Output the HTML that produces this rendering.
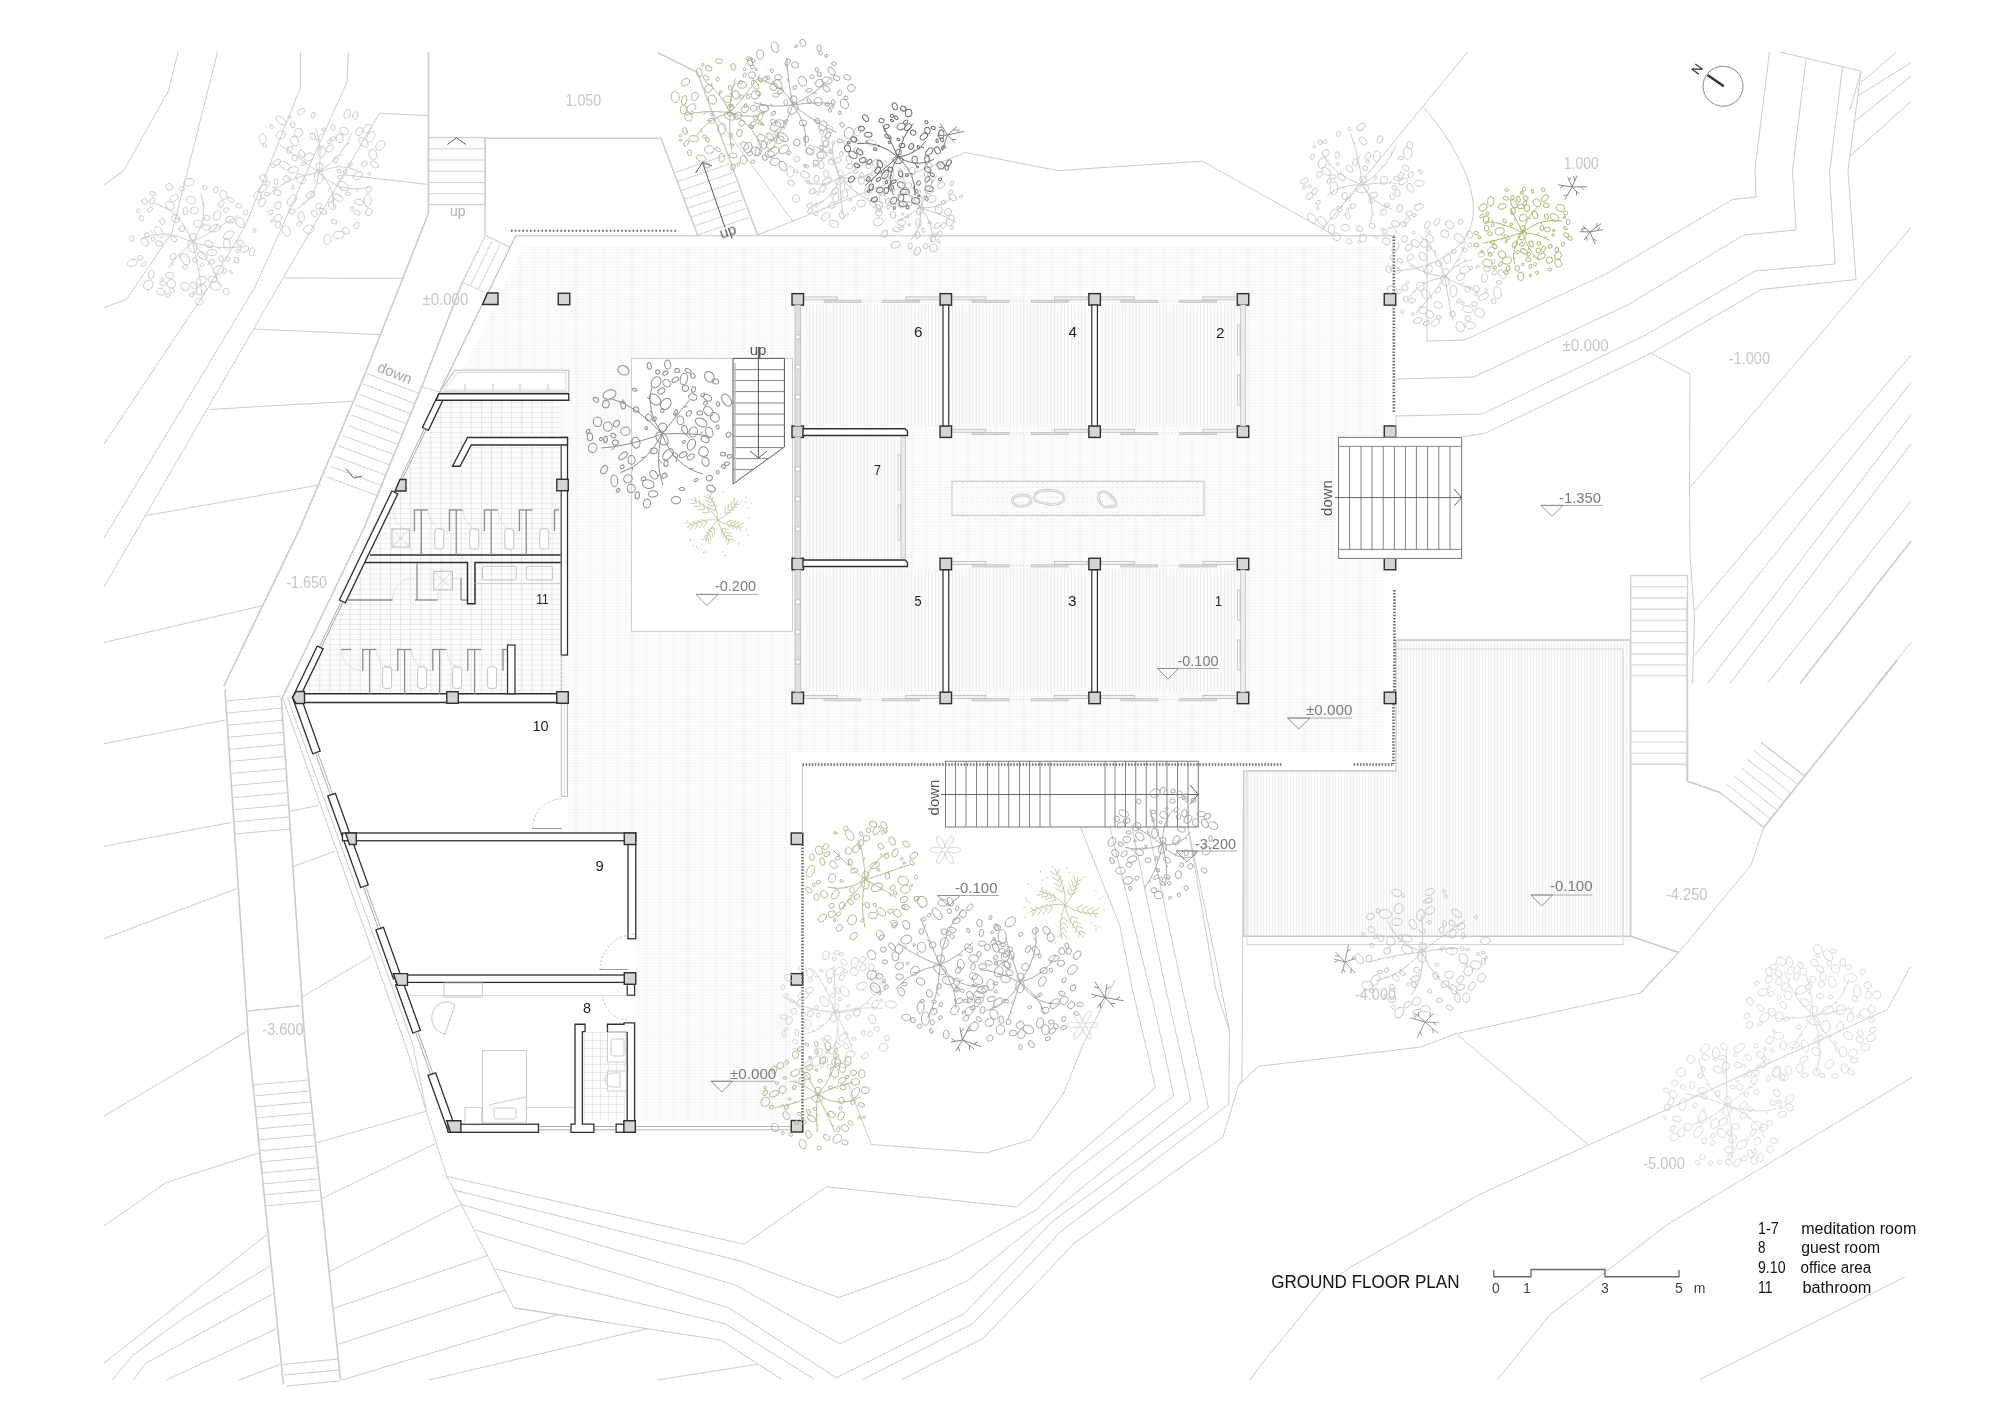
<!DOCTYPE html><html><head><meta charset="utf-8"><style>html,body{margin:0;padding:0;background:#fff;overflow:hidden}svg{display:block}</style></head><body><svg width="2000" height="1414" viewBox="0 0 2000 1414"><defs>
<pattern id="terr" x="1.5" y="0" width="14" height="2.9" patternUnits="userSpaceOnUse">
<rect width="14" height="2.9" fill="#fdfdfd"/><rect x="0" y="0" width="14" height="0.6" fill="#f3f3f3"/><rect x="0" y="0" width="0.9" height="2.9" fill="#f0f0f0"/></pattern>
<pattern id="strp" width="3.4" height="10" patternUnits="userSpaceOnUse">
<rect width="3.4" height="10" fill="#fcfcfc"/><rect x="0" y="0" width="0.7" height="10" fill="#e6e6e6"/></pattern>
<pattern id="deck" width="3" height="10" patternUnits="userSpaceOnUse">
<rect width="3" height="10" fill="#fcfcfc"/><rect x="0" y="0" width="0.6" height="10" fill="#e9e9e9"/></pattern>
<pattern id="tile" x="339.5" y="603.9" width="10.1" height="5.05" patternUnits="userSpaceOnUse">
<rect width="10.1" height="5.05" fill="#fdfdfd"/><rect x="0" y="0" width="10.1" height="0.6" fill="#e3e3e3"/><rect x="0" y="0" width="0.7" height="5.05" fill="#dcdcdc"/></pattern>
<pattern id="tile2" x="584" y="1032" width="8" height="8" patternUnits="userSpaceOnUse">
<rect width="8" height="8" fill="#fdfdfd"/><rect x="0" y="0" width="8" height="0.6" fill="#dcdcdc"/><rect x="0" y="0" width="0.6" height="8" fill="#dcdcdc"/></pattern>
<pattern id="dots" width="5" height="5" patternUnits="userSpaceOnUse">
<rect width="5" height="5" fill="#fbfbfb"/><circle cx="2.5" cy="2.5" r="0.5" fill="#dcdcdc"/></pattern>
</defs>
<rect width="2000" height="1414" fill="#fff"/>
<polyline points="178.10,52.25 168.50,90.75 123.90,170.40 103.75,185.25" fill="none" stroke="#cbcbcb" stroke-width="1.0" stroke-linejoin="round"/>
<polyline points="217.50,52.25 172.00,232.50 126.50,299.25 103.75,307.65" fill="none" stroke="#cbcbcb" stroke-width="1.0" stroke-linejoin="round"/>
<polyline points="300.60,52.25 300.60,87.25 245.50,225.50 208.75,287.00 103.75,444.50" fill="none" stroke="#cbcbcb" stroke-width="1.0" stroke-linejoin="round"/>
<polyline points="348.40,52.25 347.00,82.00 255.00,287.00 103.75,538.40" fill="none" stroke="#cbcbcb" stroke-width="1.0" stroke-linejoin="round"/>
<polyline points="379.40,113.15 427.50,115.60" fill="none" stroke="#cbcbcb" stroke-width="1.0" stroke-linejoin="round"/>
<polyline points="379.40,113.15 277.90,287.00 103.75,587.40" fill="none" stroke="#cbcbcb" stroke-width="1.0" stroke-linejoin="round"/>
<polyline points="103.75,642.50 262.10,605.75" fill="none" stroke="#cbcbcb" stroke-width="1.0" stroke-linejoin="round"/>
<polyline points="343.50,174.75 427.50,184.40" fill="none" stroke="#cbcbcb" stroke-width="1.0" stroke-linejoin="round"/>
<polyline points="284.90,278.00 403.00,278.40" fill="none" stroke="#cbcbcb" stroke-width="1.0" stroke-linejoin="round"/>
<polyline points="254.25,329.00 380.25,334.60" fill="none" stroke="#cbcbcb" stroke-width="1.0" stroke-linejoin="round"/>
<polyline points="208.75,409.50 354.00,401.10" fill="none" stroke="#cbcbcb" stroke-width="1.0" stroke-linejoin="round"/>
<polyline points="146.60,515.40 320.75,484.75" fill="none" stroke="#cbcbcb" stroke-width="1.0" stroke-linejoin="round"/>
<polyline points="428.40,52.25 428.40,213.50 362.50,380.00 300.60,527.00 223.75,686.25" fill="none" stroke="#cbcbcb" stroke-width="1.6" stroke-linejoin="round"/>
<polyline points="485.00,137.50 485.00,235.25" fill="none" stroke="#cbcbcb" stroke-width="1.4" stroke-linejoin="round"/>
<polyline points="485.00,235.25 509.50,247.25" fill="none" stroke="#cbcbcb" stroke-width="1.2" stroke-linejoin="round"/>
<polyline points="462.25,282.50 421.75,386.75 364.50,527.00 282.50,697.50" fill="none" stroke="#cbcbcb" stroke-width="1.6" stroke-linejoin="round"/>
<polyline points="462.25,282.50 485.00,236.50" fill="none" stroke="#cbcbcb" stroke-width="1.0" stroke-linejoin="round"/>
<polyline points="421.75,386.75 439.00,392.00" fill="none" stroke="#cbcbcb" stroke-width="1.0" stroke-linejoin="round"/>
<polyline points="103.75,743.75 225.00,720.00" fill="none" stroke="#cbcbcb" stroke-width="1.0" stroke-linejoin="round"/>
<polyline points="103.75,846.25 231.25,822.50" fill="none" stroke="#cbcbcb" stroke-width="1.0" stroke-linejoin="round"/>
<polyline points="103.75,938.75 236.25,888.75" fill="none" stroke="#cbcbcb" stroke-width="1.0" stroke-linejoin="round"/>
<polyline points="290.00,811.25 318.75,805.50" fill="none" stroke="#cbcbcb" stroke-width="1.0" stroke-linejoin="round"/>
<polyline points="293.75,866.25 335.00,851.25" fill="none" stroke="#cbcbcb" stroke-width="1.0" stroke-linejoin="round"/>
<polyline points="301.25,997.50 371.25,956.25" fill="none" stroke="#cbcbcb" stroke-width="1.0" stroke-linejoin="round"/>
<polyline points="246.25,1011.25 300.00,1005.50" fill="none" stroke="#cbcbcb" stroke-width="1.0" stroke-linejoin="round"/>
<polyline points="226.25,1043.50 246.25,1031.25" fill="none" stroke="#cbcbcb" stroke-width="1.0" stroke-linejoin="round"/>
<polyline points="103.75,1116.25 245.00,1032.50" fill="none" stroke="#cbcbcb" stroke-width="1.0" stroke-linejoin="round"/>
<polyline points="103.75,1226.00 166.25,1182.50 258.75,1153.00" fill="none" stroke="#cbcbcb" stroke-width="1.0" stroke-linejoin="round"/>
<polyline points="103.50,1363.50 267.00,1234.50" fill="none" stroke="#cbcbcb" stroke-width="1.0" stroke-linejoin="round"/>
<polyline points="112.50,1380.00 132.00,1356.00 183.00,1318.50 270.00,1266.00" fill="none" stroke="#cbcbcb" stroke-width="1.0" stroke-linejoin="round"/>
<polyline points="133.50,1380.00 145.50,1363.50 273.00,1293.60" fill="none" stroke="#cbcbcb" stroke-width="1.0" stroke-linejoin="round"/>
<polyline points="166.50,1380.00 276.00,1329.00" fill="none" stroke="#cbcbcb" stroke-width="1.0" stroke-linejoin="round"/>
<polyline points="238.50,1380.00 280.50,1364.40" fill="none" stroke="#cbcbcb" stroke-width="1.0" stroke-linejoin="round"/>
<polyline points="316.25,1143.00 426.25,1111.25" fill="none" stroke="#cbcbcb" stroke-width="1.0" stroke-linejoin="round"/>
<polyline points="321.25,1198.75 435.00,1143.75" fill="none" stroke="#cbcbcb" stroke-width="1.0" stroke-linejoin="round"/>
<polyline points="330.00,1271.40 460.50,1204.50" fill="none" stroke="#cbcbcb" stroke-width="1.0" stroke-linejoin="round"/>
<polyline points="334.50,1308.00 487.50,1255.50" fill="none" stroke="#cbcbcb" stroke-width="1.0" stroke-linejoin="round"/>
<polyline points="339.00,1344.00 505.50,1290.00" fill="none" stroke="#cbcbcb" stroke-width="1.0" stroke-linejoin="round"/>
<polyline points="342.00,1380.00 558.00,1314.75" fill="none" stroke="#cbcbcb" stroke-width="1.0" stroke-linejoin="round"/>
<polyline points="429.00,1380.00 648.00,1328.40" fill="none" stroke="#cbcbcb" stroke-width="1.0" stroke-linejoin="round"/>
<polyline points="225.00,690.00 248.75,1043.50 283.50,1384.50" fill="none" stroke="#cbcbcb" stroke-width="1.6" stroke-linejoin="round"/>
<polyline points="281.25,697.50 305.00,1043.50 340.50,1380.00" fill="none" stroke="#cbcbcb" stroke-width="1.6" stroke-linejoin="round"/>
<polyline points="286.50,1386.00 340.50,1381.00" fill="none" stroke="#cbcbcb" stroke-width="1.0" stroke-linejoin="round"/>
<polyline points="283.50,1364.40 338.40,1359.00" fill="none" stroke="#cbcbcb" stroke-width="1.0" stroke-linejoin="round"/>
<polyline points="284.50,1375.00 339.50,1370.00" fill="none" stroke="#cbcbcb" stroke-width="1.0" stroke-linejoin="round"/>
<polyline points="287.50,697.50 412.50,1043.50 426.25,1110.00" fill="none" stroke="#cbcbcb" stroke-width="1.0" stroke-linejoin="round"/>
<polyline points="282.50,697.50 405.00,1043.50 446.25,1175.00 513.75,1307.50 599.25,1321.25" fill="none" stroke="#cbcbcb" stroke-width="1.0" stroke-linejoin="round"/>
<polyline points="446.25,1176.25 744.00,1244.25 826.50,1186.80 1016.50,1207.00 1155.25,1087.75 1149.25,1060.00 1132.50,990.00 1120.00,926.25 1080.50,827.50" fill="none" stroke="#cbcbcb" stroke-width="1.0" stroke-linejoin="round"/>
<polyline points="453.90,1190.00 739.50,1260.75 838.75,1297.50 948.25,1258.00 1037.50,1209.25 1072.00,1172.50 1173.70,1096.00 1166.20,1060.00 1150.00,990.00 1110.00,827.50" fill="none" stroke="#cbcbcb" stroke-width="1.0" stroke-linejoin="round"/>
<polyline points="462.00,1204.50 735.00,1284.75 840.00,1344.00 950.00,1288.75 968.75,1280.00 977.50,1272.00 1190.80,1100.20 1182.25,1060.00 1166.00,990.00 1132.00,827.50" fill="none" stroke="#cbcbcb" stroke-width="1.0" stroke-linejoin="round"/>
<polyline points="475.50,1230.00 729.00,1308.00 836.25,1377.75 963.75,1313.75 1004.50,1272.00 1051.75,1222.00 1208.50,1107.70 1198.00,1060.00 1182.50,990.00 1148.00,827.50" fill="none" stroke="#cbcbcb" stroke-width="1.0" stroke-linejoin="round"/>
<polyline points="495.00,1269.00 725.25,1323.75 814.50,1379.25" fill="none" stroke="#cbcbcb" stroke-width="1.0" stroke-linejoin="round"/>
<polyline points="862.75,1379.50 972.50,1323.75 1022.50,1272.00 1060.75,1231.75 1228.75,1104.25 1229.50,1031.00 1216.00,990.00 1188.00,827.50" fill="none" stroke="#cbcbcb" stroke-width="1.0" stroke-linejoin="round"/>
<polyline points="514.50,1308.00 721.50,1340.25 781.50,1379.25" fill="none" stroke="#cbcbcb" stroke-width="1.0" stroke-linejoin="round"/>
<polyline points="657.00,1380.00 757.50,1364.25" fill="none" stroke="#cbcbcb" stroke-width="1.0" stroke-linejoin="round"/>
<polyline points="901.75,1379.50 982.50,1338.75 1047.25,1272.00 1073.50,1243.75 1222.75,1137.25 1238.75,1085.00 1258.75,1066.25 1421.25,1047.00 1456.00,1033.75 1641.00,993.00 1678.75,952.50 1751.00,865.00 1763.75,827.50" fill="none" stroke="#cbcbcb" stroke-width="1.0" stroke-linejoin="round"/>
<polyline points="1188.00,827.50 1216.00,961.00 1229.50,1031.00" fill="none" stroke="#cbcbcb" stroke-width="1.0" stroke-linejoin="round"/>
<polyline points="1243.50,772.00 1242.00,1081.00 1238.75,1085.00" fill="none" stroke="#cbcbcb" stroke-width="1.0" stroke-linejoin="round"/>
<polyline points="847.50,1082.50 871.25,1144.50 986.25,1153.00 1031.50,1139.50 1063.75,1093.00 1082.50,1046.00 1115.00,980.00" fill="none" stroke="#cbcbcb" stroke-width="1.0" stroke-linejoin="round"/>
<polyline points="1457.50,1035.00 1588.75,1145.00" fill="none" stroke="#cbcbcb" stroke-width="1.0" stroke-linejoin="round"/>
<polyline points="1250.00,1380.00 1260.30,1365.60 1325.60,1285.80 1347.70,1268.80 1478.40,1195.00 1887.50,1009.50 1910.00,967.00" fill="none" stroke="#cbcbcb" stroke-width="1.0" stroke-linejoin="round"/>
<polyline points="1497.50,1379.50 1550.00,1314.50 1667.50,1224.50 1912.50,1077.00" fill="none" stroke="#cbcbcb" stroke-width="1.0" stroke-linejoin="round"/>
<polyline points="1700.00,1379.50 1905.00,1277.00" fill="none" stroke="#cbcbcb" stroke-width="1.0" stroke-linejoin="round"/>
<polyline points="1678.75,952.50 1640.00,992.50" fill="none" stroke="#cbcbcb" stroke-width="1.0" stroke-linejoin="round"/>
<polyline points="1630.75,936.25 1678.75,952.50" fill="none" stroke="#cbcbcb" stroke-width="1.6" stroke-linejoin="round"/>
<polyline points="1687.00,600.00 1687.50,781.25 1720.00,792.50" fill="none" stroke="#cbcbcb" stroke-width="1.6" stroke-linejoin="round"/>
<polyline points="1720.00,792.50 1763.75,827.50" fill="none" stroke="#cbcbcb" stroke-width="1.2" stroke-linejoin="round"/>
<polyline points="1761.00,742.50 1805.00,776.25" fill="none" stroke="#cbcbcb" stroke-width="1.2" stroke-linejoin="round"/>
<polyline points="1763.75,827.50 1897.50,660.00" fill="none" stroke="#cbcbcb" stroke-width="1.6" stroke-linejoin="round"/>
<polyline points="1690.00,487.50 1911.00,227.50" fill="none" stroke="#cbcbcb" stroke-width="1.0" stroke-linejoin="round"/>
<polyline points="1695.00,610.00 1911.00,355.00" fill="none" stroke="#cbcbcb" stroke-width="1.0" stroke-linejoin="round"/>
<polyline points="1695.00,655.00 1911.00,382.50" fill="none" stroke="#cbcbcb" stroke-width="1.0" stroke-linejoin="round"/>
<polyline points="1707.50,683.50 1911.00,415.00" fill="none" stroke="#cbcbcb" stroke-width="1.0" stroke-linejoin="round"/>
<polyline points="1730.00,683.50 1911.00,443.75" fill="none" stroke="#cbcbcb" stroke-width="1.0" stroke-linejoin="round"/>
<polyline points="1767.50,683.50 1911.00,501.00" fill="none" stroke="#cbcbcb" stroke-width="1.0" stroke-linejoin="round"/>
<polyline points="1800.00,683.50 1911.00,541.00" fill="none" stroke="#cbcbcb" stroke-width="1.4" stroke-linejoin="round"/>
<polyline points="1877.50,683.50 1911.00,642.50" fill="none" stroke="#cbcbcb" stroke-width="1.0" stroke-linejoin="round"/>
<polyline points="1652.00,354.00 1690.00,374.00 1689.50,487.50 1690.00,555.00 1694.50,617.50 1692.50,683.50" fill="none" stroke="#cbcbcb" stroke-width="1.0" stroke-linejoin="round"/>
<polyline points="1467.50,52.00 1320.90,231.00" fill="none" stroke="#cbcbcb" stroke-width="1.0" stroke-linejoin="round"/>
<polyline points="1427.00,246.00 1427.00,341.00" fill="none" stroke="#cbcbcb" stroke-width="1.0" stroke-linejoin="round"/>
<polyline points="1396.00,379.00 1473.75,377.00 1627.50,305.00 1743.75,235.00 1796.00,230.00 1792.50,171.00 1806.00,58.75" fill="none" stroke="#cbcbcb" stroke-width="1.0" stroke-linejoin="round"/>
<polyline points="1427.00,341.00 1465.00,340.00 1608.75,272.50 1732.50,199.50 1756.00,197.00 1755.00,168.75 1769.50,52.00" fill="none" stroke="#cbcbcb" stroke-width="1.0" stroke-linejoin="round"/>
<polyline points="1396.00,416.00 1482.50,414.00 1643.75,336.00 1755.00,271.00 1835.00,264.00 1829.50,172.50 1842.50,67.50" fill="none" stroke="#cbcbcb" stroke-width="1.0" stroke-linejoin="round"/>
<polyline points="1461.60,437.00 1486.00,433.00 1652.50,352.50 1761.00,289.50 1856.00,279.50 1848.00,171.00 1861.00,71.00" fill="none" stroke="#cbcbcb" stroke-width="1.0" stroke-linejoin="round"/>
<polyline points="1780.00,52.00 1861.00,71.00" fill="none" stroke="#cbcbcb" stroke-width="1.0" stroke-linejoin="round"/>
<polyline points="1861.00,71.00 1850.00,110.00" fill="none" stroke="#cbcbcb" stroke-width="1.0" stroke-linejoin="round"/>
<polyline points="1861.00,82.50 1896.00,52.50" fill="none" stroke="#cbcbcb" stroke-width="1.0" stroke-linejoin="round"/>
<polyline points="1857.50,96.25 1911.00,62.50" fill="none" stroke="#cbcbcb" stroke-width="1.0" stroke-linejoin="round"/>
<polyline points="1855.00,121.25 1911.00,76.25" fill="none" stroke="#cbcbcb" stroke-width="1.0" stroke-linejoin="round"/>
<polyline points="1850.00,156.25 1911.00,101.25" fill="none" stroke="#cbcbcb" stroke-width="1.0" stroke-linejoin="round"/>
<polyline points="757.50,235.00 965.50,152.50 1057.50,170.50 1202.50,161.25 1325.00,230.00 1335.00,235.50" fill="none" stroke="#cbcbcb" stroke-width="1.0" stroke-linejoin="round"/>
<path d="M1424,107.5 C1445,132 1474,175 1473.4,210.5 C1473,245 1440,268 1395.4,271" fill="none" stroke="#cbcbcb" stroke-width="1"/>
<polygon points="523.00,246.25 1384.00,246.25 1384.00,753.00 791.00,753.00 791.00,1121.00 448.00,1121.00 292.50,697.50 446.20,404.00" fill="url(#terr)" stroke="none" stroke-width="0" />
<rect x="631.60" y="358.40" width="160.90" height="273.00" fill="#fff" stroke="#cfcfcf" stroke-width="1" />
<polygon points="1396.00,640.00 1630.75,640.00 1630.75,936.25 1243.75,936.25 1243.75,771.00 1396.00,771.00" fill="url(#deck)" stroke="#c9c9c9" stroke-width="1.3" />
<polyline points="1247.00,771.00 1247.00,944.50 1623.00,944.50 1623.00,649.00 1396.00,649.00" fill="none" stroke="#d4d4d4" stroke-width="1" />
<polygon points="298.00,702.50 567.50,702.50 567.50,833.00 342.50,833.00" fill="#fff" stroke="none" stroke-width="0" />
<polygon points="349.00,840.70 635.70,840.70 635.70,975.00 396.00,975.00" fill="#fff" stroke="none" stroke-width="0" />
<polygon points="405.00,982.40 635.70,982.40 635.70,1124.00 448.00,1124.00" fill="#fff" stroke="none" stroke-width="0" />
<polygon points="439.00,400.00 561.00,400.00 561.00,694.00 298.00,694.00" fill="url(#tile)" stroke="none" stroke-width="0" />
<rect x="803.00" y="305.00" width="137.00" height="121.00" fill="url(#strp)" stroke="none" stroke-width="0" />
<rect x="803.00" y="570.00" width="137.00" height="122.00" fill="url(#strp)" stroke="none" stroke-width="0" />
<rect x="951.00" y="305.00" width="137.00" height="121.00" fill="url(#strp)" stroke="none" stroke-width="0" />
<rect x="951.00" y="570.00" width="137.00" height="122.00" fill="url(#strp)" stroke="none" stroke-width="0" />
<rect x="1100.00" y="305.00" width="137.00" height="121.00" fill="url(#strp)" stroke="none" stroke-width="0" />
<rect x="1100.00" y="570.00" width="137.00" height="122.00" fill="url(#strp)" stroke="none" stroke-width="0" />
<rect x="803.00" y="437.00" width="103.00" height="121.00" fill="url(#strp)" stroke="none" stroke-width="0" />
<rect x="952.00" y="481.30" width="252.00" height="34.10" fill="url(#dots)" stroke="#d0d0d0" stroke-width="1.3" />
<rect x="428.40" y="137.50" width="56.60" height="67.00" fill="none" stroke="#cfcfcf" stroke-width="1.3" />
<line x1="428.40" y1="148.75" x2="485.00" y2="148.75" stroke="#d2d2d2" stroke-width="1" />
<line x1="428.40" y1="160.00" x2="485.00" y2="160.00" stroke="#d2d2d2" stroke-width="1" />
<line x1="428.40" y1="171.25" x2="485.00" y2="171.25" stroke="#d2d2d2" stroke-width="1" />
<line x1="428.40" y1="182.50" x2="485.00" y2="182.50" stroke="#d2d2d2" stroke-width="1" />
<line x1="428.40" y1="193.75" x2="485.00" y2="193.75" stroke="#d2d2d2" stroke-width="1" />
<polyline points="447.50,144.50 456.50,137.80 466.00,144.50" fill="none" stroke="#555" stroke-width="1" />
<polyline points="485.00,138.25 661.00,138.25 697.50,235.00" fill="none" stroke="#cfcfcf" stroke-width="1.6" />
<line x1="511" y1="230.75" x2="676" y2="230.75" stroke="#666" stroke-width="2.2" stroke-dasharray="1.6,2.2"/>
<polyline points="657.50,52.50 697.50,72.50 757.50,235.00" fill="none" stroke="#cfcfcf" stroke-width="1.6" />
<polyline points="715.00,115.00 793.75,222.50" fill="none" stroke="#cfcfcf" stroke-width="1" />
<line x1="675.00" y1="172.50" x2="726.25" y2="155.00" stroke="#d0d0d0" stroke-width="1" />
<line x1="678.21" y1="181.43" x2="729.46" y2="163.93" stroke="#d0d0d0" stroke-width="1" />
<line x1="681.43" y1="190.36" x2="732.68" y2="172.86" stroke="#d0d0d0" stroke-width="1" />
<line x1="684.64" y1="199.29" x2="735.89" y2="181.79" stroke="#d0d0d0" stroke-width="1" />
<line x1="687.86" y1="208.21" x2="739.11" y2="190.71" stroke="#d0d0d0" stroke-width="1" />
<line x1="691.07" y1="217.14" x2="742.32" y2="199.64" stroke="#d0d0d0" stroke-width="1" />
<line x1="694.29" y1="226.07" x2="745.54" y2="208.57" stroke="#d0d0d0" stroke-width="1" />
<line x1="697.50" y1="235.00" x2="748.75" y2="217.50" stroke="#d0d0d0" stroke-width="1" />
<polyline points="725.00,227.50 702.50,162.50" fill="none" stroke="#444" stroke-width="0.9" />
<polyline points="695.50,173.00 702.50,162.50 712.00,166.00" fill="none" stroke="#444" stroke-width="0.9" />
<line x1="462.25" y1="282.50" x2="485.00" y2="236.50" stroke="#d2d2d2" stroke-width="1" />
<line x1="470.00" y1="286.00" x2="492.00" y2="241.00" stroke="#d2d2d2" stroke-width="1" />
<line x1="478.00" y1="290.00" x2="500.00" y2="244.50" stroke="#d2d2d2" stroke-width="1" />
<line x1="462.25" y1="282.50" x2="485.50" y2="292.25" stroke="#d2d2d2" stroke-width="1" />
<line x1="367.10" y1="373.60" x2="417.90" y2="392.90" stroke="#d0d0d0" stroke-width="1" />
<line x1="363.08" y1="383.93" x2="413.96" y2="403.22" stroke="#d0d0d0" stroke-width="1" />
<line x1="359.06" y1="394.26" x2="410.02" y2="413.54" stroke="#d0d0d0" stroke-width="1" />
<line x1="355.04" y1="404.59" x2="406.08" y2="423.86" stroke="#d0d0d0" stroke-width="1" />
<line x1="351.02" y1="414.92" x2="402.14" y2="434.18" stroke="#d0d0d0" stroke-width="1" />
<line x1="347.00" y1="425.25" x2="398.20" y2="444.50" stroke="#d0d0d0" stroke-width="1" />
<line x1="342.98" y1="435.58" x2="394.26" y2="454.82" stroke="#d0d0d0" stroke-width="1" />
<line x1="338.96" y1="445.91" x2="390.32" y2="465.14" stroke="#d0d0d0" stroke-width="1" />
<line x1="334.94" y1="456.24" x2="386.38" y2="475.46" stroke="#d0d0d0" stroke-width="1" />
<line x1="330.92" y1="466.57" x2="382.44" y2="485.78" stroke="#d0d0d0" stroke-width="1" />
<line x1="326.90" y1="476.90" x2="378.50" y2="496.10" stroke="#d0d0d0" stroke-width="1" />
<polyline points="346.00,468.50 353.50,478.00 362.50,476.00" fill="none" stroke="#555" stroke-width="0.9" />
<polyline points="515.75,235.75 1395.00,235.75" fill="none" stroke="#c6c6c6" stroke-width="1.2" />
<polyline points="515.75,235.75 438.75,393.75" fill="none" stroke="#bdbdbd" stroke-width="1.2" />
<polygon points="439.75,392.00 455.00,370.25 568.75,370.25 568.75,392.00" fill="#fff" stroke="#bdbdbd" stroke-width="1.1" />
<polygon points="444.00,390.00 457.50,372.50 566.00,372.50 566.00,390.00" fill="none" stroke="#cfcfcf" stroke-width="0.8" />
<line x1="465.00" y1="384.00" x2="465.00" y2="391.00" stroke="#cfcfcf" stroke-width="1.2" />
<line x1="493.00" y1="384.00" x2="493.00" y2="391.00" stroke="#cfcfcf" stroke-width="1.2" />
<line x1="520.00" y1="384.00" x2="520.00" y2="391.00" stroke="#cfcfcf" stroke-width="1.2" />
<line x1="548.00" y1="384.00" x2="548.00" y2="391.00" stroke="#cfcfcf" stroke-width="1.2" />
<line x1="225.74" y1="701.00" x2="281.15" y2="696.00" stroke="#d0d0d0" stroke-width="1" />
<line x1="226.55" y1="713.09" x2="281.98" y2="708.09" stroke="#d0d0d0" stroke-width="1" />
<line x1="227.36" y1="725.18" x2="282.81" y2="720.18" stroke="#d0d0d0" stroke-width="1" />
<line x1="228.18" y1="737.27" x2="283.64" y2="732.27" stroke="#d0d0d0" stroke-width="1" />
<line x1="228.99" y1="749.36" x2="284.47" y2="744.36" stroke="#d0d0d0" stroke-width="1" />
<line x1="229.80" y1="761.45" x2="285.30" y2="756.45" stroke="#d0d0d0" stroke-width="1" />
<line x1="230.61" y1="773.55" x2="286.13" y2="768.55" stroke="#d0d0d0" stroke-width="1" />
<line x1="231.43" y1="785.64" x2="286.96" y2="780.64" stroke="#d0d0d0" stroke-width="1" />
<line x1="232.24" y1="797.73" x2="287.79" y2="792.73" stroke="#d0d0d0" stroke-width="1" />
<line x1="233.05" y1="809.82" x2="288.62" y2="804.82" stroke="#d0d0d0" stroke-width="1" />
<line x1="233.86" y1="821.91" x2="289.45" y2="816.91" stroke="#d0d0d0" stroke-width="1" />
<line x1="234.67" y1="834.00" x2="290.28" y2="829.00" stroke="#d0d0d0" stroke-width="1" />
<line x1="252.60" y1="1085.00" x2="308.39" y2="1080.00" stroke="#d0d0d0" stroke-width="1" />
<line x1="253.63" y1="1096.00" x2="309.41" y2="1091.00" stroke="#d0d0d0" stroke-width="1" />
<line x1="254.65" y1="1107.00" x2="310.43" y2="1102.00" stroke="#d0d0d0" stroke-width="1" />
<line x1="255.67" y1="1118.00" x2="311.45" y2="1113.00" stroke="#d0d0d0" stroke-width="1" />
<line x1="256.69" y1="1129.00" x2="312.48" y2="1124.00" stroke="#d0d0d0" stroke-width="1" />
<line x1="257.71" y1="1140.00" x2="313.50" y2="1135.00" stroke="#d0d0d0" stroke-width="1" />
<line x1="258.73" y1="1151.00" x2="314.52" y2="1146.00" stroke="#d0d0d0" stroke-width="1" />
<line x1="259.75" y1="1162.00" x2="315.54" y2="1157.00" stroke="#d0d0d0" stroke-width="1" />
<line x1="260.78" y1="1173.00" x2="316.56" y2="1168.00" stroke="#d0d0d0" stroke-width="1" />
<line x1="261.80" y1="1184.00" x2="317.58" y2="1179.00" stroke="#d0d0d0" stroke-width="1" />
<line x1="262.82" y1="1195.00" x2="318.61" y2="1190.00" stroke="#d0d0d0" stroke-width="1" />
<line x1="263.84" y1="1206.00" x2="319.63" y2="1201.00" stroke="#d0d0d0" stroke-width="1" />
<line x1="246.00" y1="1011.00" x2="300.00" y2="1006.00" stroke="#d0d0d0" stroke-width="1" />
<rect x="1630.75" y="575.50" width="56.75" height="188.75" fill="#fff" stroke="#d0d0d0" stroke-width="1.3" />
<line x1="1630.75" y1="586.70" x2="1687.50" y2="586.70" stroke="#d4d4d4" stroke-width="1.1" />
<line x1="1630.75" y1="597.90" x2="1687.50" y2="597.90" stroke="#d4d4d4" stroke-width="1.1" />
<line x1="1630.75" y1="609.10" x2="1687.50" y2="609.10" stroke="#d4d4d4" stroke-width="1.1" />
<line x1="1630.75" y1="620.30" x2="1687.50" y2="620.30" stroke="#d4d4d4" stroke-width="1.1" />
<line x1="1630.75" y1="631.50" x2="1687.50" y2="631.50" stroke="#d4d4d4" stroke-width="1.1" />
<line x1="1630.75" y1="642.70" x2="1687.50" y2="642.70" stroke="#d4d4d4" stroke-width="1.1" />
<line x1="1630.75" y1="653.90" x2="1687.50" y2="653.90" stroke="#d4d4d4" stroke-width="1.1" />
<line x1="1630.75" y1="665.00" x2="1687.50" y2="665.00" stroke="#d4d4d4" stroke-width="1.1" />
<line x1="1630.75" y1="675.75" x2="1687.50" y2="675.75" stroke="#d4d4d4" stroke-width="1.1" />
<line x1="1630.75" y1="731.25" x2="1687.50" y2="731.25" stroke="#d4d4d4" stroke-width="1.1" />
<line x1="1630.75" y1="742.00" x2="1687.50" y2="742.00" stroke="#d4d4d4" stroke-width="1.1" />
<line x1="1630.75" y1="753.25" x2="1687.50" y2="753.25" stroke="#d4d4d4" stroke-width="1.1" />
<line x1="1720.00" y1="792.50" x2="1763.75" y2="827.50" stroke="#d0d0d0" stroke-width="1" />
<line x1="1726.83" y1="784.17" x2="1770.62" y2="818.96" stroke="#d0d0d0" stroke-width="1" />
<line x1="1733.67" y1="775.83" x2="1777.50" y2="810.42" stroke="#d0d0d0" stroke-width="1" />
<line x1="1740.50" y1="767.50" x2="1784.38" y2="801.88" stroke="#d0d0d0" stroke-width="1" />
<line x1="1747.33" y1="759.17" x2="1791.25" y2="793.33" stroke="#d0d0d0" stroke-width="1" />
<line x1="1754.17" y1="750.83" x2="1798.12" y2="784.79" stroke="#d0d0d0" stroke-width="1" />
<line x1="1761.00" y1="742.50" x2="1805.00" y2="776.25" stroke="#d0d0d0" stroke-width="1" />
<polyline points="1720.00,792.50 1687.00,781.00" fill="none" stroke="#cfcfcf" stroke-width="1.3" />
<polyline points="1687.00,781.25 1687.00,600.00" fill="none" stroke="#cfcfcf" stroke-width="1.3" />
<polygon points="438.75,393.75 422.50,427.50 428.36,430.32 444.61,396.57" fill="#fff" stroke="#2e2e2e" stroke-width="1.3" />
<line x1="424.55" y1="428.49" x2="399.27" y2="480.99" stroke="#8a8a8a" stroke-width="0.7" />
<line x1="426.31" y1="429.33" x2="401.03" y2="481.83" stroke="#8a8a8a" stroke-width="0.7" />
<polygon points="391.93,491.00 339.44,600.00 345.30,602.82 397.78,493.82" fill="#fff" stroke="#2e2e2e" stroke-width="1.3" />
<line x1="341.49" y1="600.99" x2="319.35" y2="646.99" stroke="#8a8a8a" stroke-width="0.7" />
<line x1="343.25" y1="601.83" x2="321.10" y2="647.83" stroke="#8a8a8a" stroke-width="0.7" />
<polygon points="317.30,646.00 292.50,697.50 298.36,700.32 323.15,648.82" fill="#fff" stroke="#2e2e2e" stroke-width="1.3" />
<polygon points="292.50,697.50 312.68,753.75 320.21,751.05 300.03,694.80" fill="#fff" stroke="#2e2e2e" stroke-width="1.3" />
<line x1="315.31" y1="752.80" x2="330.47" y2="795.05" stroke="#8a8a8a" stroke-width="0.7" />
<line x1="317.57" y1="751.99" x2="332.73" y2="794.24" stroke="#8a8a8a" stroke-width="0.7" />
<polygon points="327.83,796.00 360.65,887.50 368.18,884.80 335.36,793.30" fill="#fff" stroke="#2e2e2e" stroke-width="1.3" />
<line x1="363.29" y1="886.55" x2="378.54" y2="929.05" stroke="#8a8a8a" stroke-width="0.7" />
<line x1="365.55" y1="885.74" x2="380.79" y2="928.24" stroke="#8a8a8a" stroke-width="0.7" />
<polygon points="375.90,930.00 393.48,979.00 401.01,976.30 383.43,927.30" fill="#fff" stroke="#2e2e2e" stroke-width="1.3" />
<polygon points="395.63,985.00 412.85,1033.00 420.38,1030.30 403.16,982.30" fill="#fff" stroke="#2e2e2e" stroke-width="1.3" />
<line x1="415.48" y1="1032.05" x2="430.73" y2="1074.55" stroke="#8a8a8a" stroke-width="0.7" />
<line x1="417.74" y1="1031.24" x2="432.99" y2="1073.74" stroke="#8a8a8a" stroke-width="0.7" />
<polygon points="428.09,1075.50 448.00,1131.00 455.53,1128.30 435.62,1072.80" fill="#fff" stroke="#2e2e2e" stroke-width="1.3" />
<polygon points="439.00,393.75 568.75,393.75 568.75,400.25 436.00,400.25" fill="#fff" stroke="#2e2e2e" stroke-width="1.3" />
<polygon points="298.00,693.75 567.50,693.75 567.50,702.50 302.00,702.50" fill="#fff" stroke="#2e2e2e" stroke-width="1.3" />
<rect x="342.50" y="833.00" width="293.25" height="7.75" fill="#fff" stroke="#2e2e2e" stroke-width="1.3" />
<rect x="396.00" y="975.00" width="239.00" height="7.40" fill="#fff" stroke="#2e2e2e" stroke-width="1.3" />
<rect x="448.00" y="1124.20" width="90.50" height="8.10" fill="#fff" stroke="#2e2e2e" stroke-width="1.3" />
<polygon points="575.00,1024.25 585.10,1024.25 585.10,1031.70 582.40,1031.70 582.40,1124.20 593.90,1124.20 593.90,1132.30 571.00,1132.30 571.00,1124.20 575.00,1124.20" fill="#fff" stroke="#2e2e2e" stroke-width="1.3" />
<polygon points="607.40,1024.25 624.00,1024.25 624.00,1022.90 634.60,1022.90 634.60,1120.80 627.20,1120.80 627.20,1032.40 607.40,1032.40" fill="#fff" stroke="#2e2e2e" stroke-width="1.3" />
<rect x="616.10" y="1124.20" width="8.15" height="8.10" fill="#fff" stroke="#2e2e2e" stroke-width="1.3" />
<rect x="627.20" y="984.40" width="7.40" height="10.80" fill="#fff" stroke="#2e2e2e" stroke-width="1.2" />
<line x1="538.50" y1="1126.50" x2="571.00" y2="1126.50" stroke="#888" stroke-width="0.7" />
<line x1="593.90" y1="1126.50" x2="616.10" y2="1126.50" stroke="#888" stroke-width="0.7" />
<line x1="635.00" y1="1126.50" x2="791.00" y2="1126.50" stroke="#9a9a9a" stroke-width="0.7" />
<line x1="538.50" y1="1129.80" x2="571.00" y2="1129.80" stroke="#888" stroke-width="0.7" />
<line x1="593.90" y1="1129.80" x2="616.10" y2="1129.80" stroke="#888" stroke-width="0.7" />
<line x1="635.00" y1="1129.80" x2="791.00" y2="1129.80" stroke="#9a9a9a" stroke-width="0.7" />
<rect x="561.25" y="437.50" width="6.25" height="217.50" fill="#fff" stroke="#2e2e2e" stroke-width="1.3" />
<line x1="561.50" y1="656.00" x2="561.50" y2="691.00" stroke="#aaa" stroke-width="0.7" stroke-dasharray="2,2"/>
<rect x="628.00" y="844.50" width="7.75" height="94.25" fill="#fff" stroke="#2e2e2e" stroke-width="1.3" />
<rect x="561.25" y="703.75" width="6.25" height="92.50" fill="#fff" stroke="#aaa" stroke-width="0.8" />
<line x1="564.40" y1="703.75" x2="564.40" y2="796.25" stroke="#ccc" stroke-width="0.6" />
<polygon points="452.50,466.25 467.50,437.50 567.50,437.50 567.50,445.00 471.25,445.00 460.00,466.25" fill="#fff" stroke="#2e2e2e" stroke-width="1.3" />
<line x1="370.00" y1="555.00" x2="561.25" y2="555.00" stroke="#2e2e2e" stroke-width="1.6" />
<polyline points="365.00,562.50 467.50,562.50 467.50,603.75 475.00,603.75 475.00,562.50 561.25,562.50" fill="none" stroke="#2e2e2e" stroke-width="1.5" />
<rect x="507.50" y="645.00" width="7.50" height="48.75" fill="#fff" stroke="#2e2e2e" stroke-width="1.2" />
<line x1="421.25" y1="510.00" x2="421.25" y2="555.00" stroke="#8c8c8c" stroke-width="1.3" />
<line x1="413.75" y1="510.00" x2="427.75" y2="510.00" stroke="#8c8c8c" stroke-width="1.3" />
<line x1="414.45" y1="510.00" x2="414.45" y2="531.20" stroke="#8c8c8c" stroke-width="1.3" />
<path d="M393.2,510.0 A21.2,21.2 0 0 0 414.4,531.2" fill="none" stroke="#b5b5b5" stroke-width="0.7" stroke-dasharray="1.5,1.5"/>
<rect x="434.75" y="528.75" width="9.00" height="20.25" fill="#fff" stroke="#c4c4c4" stroke-width="1" rx="2.5"/>
<line x1="456.25" y1="510.00" x2="456.25" y2="555.00" stroke="#8c8c8c" stroke-width="1.3" />
<line x1="448.75" y1="510.00" x2="462.75" y2="510.00" stroke="#8c8c8c" stroke-width="1.3" />
<line x1="449.45" y1="510.00" x2="449.45" y2="531.20" stroke="#8c8c8c" stroke-width="1.3" />
<path d="M428.2,510.0 A21.2,21.2 0 0 0 449.4,531.2" fill="none" stroke="#b5b5b5" stroke-width="0.7" stroke-dasharray="1.5,1.5"/>
<rect x="469.75" y="528.75" width="9.00" height="20.25" fill="#fff" stroke="#c4c4c4" stroke-width="1" rx="2.5"/>
<line x1="491.25" y1="510.00" x2="491.25" y2="555.00" stroke="#8c8c8c" stroke-width="1.3" />
<line x1="483.75" y1="510.00" x2="497.75" y2="510.00" stroke="#8c8c8c" stroke-width="1.3" />
<line x1="484.45" y1="510.00" x2="484.45" y2="531.20" stroke="#8c8c8c" stroke-width="1.3" />
<path d="M463.2,510.0 A21.2,21.2 0 0 0 484.4,531.2" fill="none" stroke="#b5b5b5" stroke-width="0.7" stroke-dasharray="1.5,1.5"/>
<rect x="504.75" y="528.75" width="9.00" height="20.25" fill="#fff" stroke="#c4c4c4" stroke-width="1" rx="2.5"/>
<line x1="526.25" y1="510.00" x2="526.25" y2="555.00" stroke="#8c8c8c" stroke-width="1.3" />
<line x1="518.75" y1="510.00" x2="532.75" y2="510.00" stroke="#8c8c8c" stroke-width="1.3" />
<line x1="519.45" y1="510.00" x2="519.45" y2="531.20" stroke="#8c8c8c" stroke-width="1.3" />
<path d="M498.2,510.0 A21.2,21.2 0 0 0 519.5,531.2" fill="none" stroke="#b5b5b5" stroke-width="0.7" stroke-dasharray="1.5,1.5"/>
<rect x="539.75" y="528.75" width="9.00" height="20.25" fill="#fff" stroke="#c4c4c4" stroke-width="1" rx="2.5"/>
<line x1="554.00" y1="510.00" x2="559.00" y2="510.00" stroke="#8c8c8c" stroke-width="1.3" />
<line x1="554.50" y1="510.00" x2="554.50" y2="531.00" stroke="#8c8c8c" stroke-width="1.3" />
<line x1="369.60" y1="649.50" x2="369.60" y2="694.00" stroke="#8c8c8c" stroke-width="1.3" />
<line x1="362.10" y1="649.50" x2="376.10" y2="649.50" stroke="#8c8c8c" stroke-width="1.3" />
<line x1="362.80" y1="649.50" x2="362.80" y2="670.70" stroke="#8c8c8c" stroke-width="1.3" />
<path d="M341.6,649.5 A21.2,21.2 0 0 0 362.8,670.7" fill="none" stroke="#b5b5b5" stroke-width="0.7" stroke-dasharray="1.5,1.5"/>
<rect x="382.60" y="666.80" width="9.00" height="21.60" fill="#fff" stroke="#c4c4c4" stroke-width="1" rx="2.5"/>
<line x1="404.60" y1="649.50" x2="404.60" y2="694.00" stroke="#8c8c8c" stroke-width="1.3" />
<line x1="397.10" y1="649.50" x2="411.10" y2="649.50" stroke="#8c8c8c" stroke-width="1.3" />
<line x1="397.80" y1="649.50" x2="397.80" y2="670.70" stroke="#8c8c8c" stroke-width="1.3" />
<path d="M376.6,649.5 A21.2,21.2 0 0 0 397.8,670.7" fill="none" stroke="#b5b5b5" stroke-width="0.7" stroke-dasharray="1.5,1.5"/>
<rect x="417.60" y="666.80" width="9.00" height="21.60" fill="#fff" stroke="#c4c4c4" stroke-width="1" rx="2.5"/>
<line x1="439.60" y1="649.50" x2="439.60" y2="694.00" stroke="#8c8c8c" stroke-width="1.3" />
<line x1="432.10" y1="649.50" x2="446.10" y2="649.50" stroke="#8c8c8c" stroke-width="1.3" />
<line x1="432.80" y1="649.50" x2="432.80" y2="670.70" stroke="#8c8c8c" stroke-width="1.3" />
<path d="M411.6,649.5 A21.2,21.2 0 0 0 432.8,670.7" fill="none" stroke="#b5b5b5" stroke-width="0.7" stroke-dasharray="1.5,1.5"/>
<rect x="452.60" y="666.80" width="9.00" height="21.60" fill="#fff" stroke="#c4c4c4" stroke-width="1" rx="2.5"/>
<line x1="474.60" y1="649.50" x2="474.60" y2="694.00" stroke="#8c8c8c" stroke-width="1.3" />
<line x1="467.10" y1="649.50" x2="481.10" y2="649.50" stroke="#8c8c8c" stroke-width="1.3" />
<line x1="467.80" y1="649.50" x2="467.80" y2="670.70" stroke="#8c8c8c" stroke-width="1.3" />
<path d="M446.6,649.5 A21.2,21.2 0 0 0 467.8,670.7" fill="none" stroke="#b5b5b5" stroke-width="0.7" stroke-dasharray="1.5,1.5"/>
<rect x="487.60" y="666.80" width="9.00" height="21.60" fill="#fff" stroke="#c4c4c4" stroke-width="1" rx="2.5"/>
<line x1="341.50" y1="649.50" x2="351.00" y2="649.50" stroke="#8c8c8c" stroke-width="1.3" />
<line x1="502.00" y1="649.50" x2="507.50" y2="649.50" stroke="#8c8c8c" stroke-width="1.3" />
<line x1="503.00" y1="649.50" x2="503.00" y2="670.70" stroke="#8c8c8c" stroke-width="1.3" />
<rect x="392.00" y="529.00" width="17.50" height="18.00" fill="none" stroke="#b5b5b5" stroke-width="0.9" />
<line x1="392.00" y1="529.00" x2="409.50" y2="547.00" stroke="#c5c5c5" stroke-width="0.7" />
<line x1="409.50" y1="529.00" x2="392.00" y2="547.00" stroke="#c5c5c5" stroke-width="0.7" />
<rect x="433.75" y="571.25" width="18.75" height="18.75" fill="none" stroke="#b5b5b5" stroke-width="0.9" />
<line x1="433.75" y1="571.25" x2="452.50" y2="590.00" stroke="#c5c5c5" stroke-width="0.7" />
<line x1="452.50" y1="571.25" x2="433.75" y2="590.00" stroke="#c5c5c5" stroke-width="0.7" />
<rect x="482.50" y="566.25" width="33.75" height="13.75" fill="none" stroke="#c0c0c0" stroke-width="0.9" rx="2"/>
<rect x="526.25" y="566.25" width="26.25" height="13.75" fill="none" stroke="#c0c0c0" stroke-width="0.9" rx="2"/>
<line x1="475.00" y1="583.50" x2="561.00" y2="583.50" stroke="#c8c8c8" stroke-width="0.8" />
<line x1="347.50" y1="600.00" x2="392.50" y2="600.00" stroke="#8c8c8c" stroke-width="1.3" />
<line x1="415.00" y1="600.00" x2="437.50" y2="600.00" stroke="#8c8c8c" stroke-width="1.3" />
<line x1="417.00" y1="563.50" x2="417.00" y2="600.00" stroke="#8c8c8c" stroke-width="1.3" />
<line x1="461.00" y1="578.00" x2="461.00" y2="600.00" stroke="#8c8c8c" stroke-width="1.3" />
<line x1="461.00" y1="600.00" x2="467.00" y2="600.00" stroke="#8c8c8c" stroke-width="1.3" />
<path d="M392.5,600 A22,22 0 0 1 414.5,578" fill="none" stroke="#b5b5b5" stroke-width="0.7" stroke-dasharray="1.5,1.5"/>
<path d="M437.5,600 A22,22 0 0 1 459.5,578" fill="none" stroke="#b5b5b5" stroke-width="0.7" stroke-dasharray="1.5,1.5"/>
<line x1="561.00" y1="445.00" x2="561.00" y2="693.00" stroke="#bbb" stroke-width="0.6" />
<path d="M532.5,828.75 A30,30 0 0 1 562.5,798.75" fill="none" stroke="#aaa" stroke-width="0.8" stroke-dasharray="2,2"/>
<path d="M600,970 A35.75,35.75 0 0 1 635.75,934.25" fill="none" stroke="#aaa" stroke-width="0.8" stroke-dasharray="2,2"/>
<path d="M603,995 A25,25 0 0 0 628,1020" fill="none" stroke="#aaa" stroke-width="0.8" stroke-dasharray="2,2"/>
<path d="M586,1050 A22,22 0 0 0 608,1028" fill="none" stroke="#aaa" stroke-width="0.8" stroke-dasharray="2,2"/>
<line x1="532.50" y1="828.50" x2="562.00" y2="828.50" stroke="#999" stroke-width="1" />
<line x1="600.00" y1="969.50" x2="628.00" y2="969.50" stroke="#999" stroke-width="1" />
<rect x="482.50" y="1050.60" width="43.90" height="72.20" fill="none" stroke="#c4c4c4" stroke-width="0.9" />
<rect x="465.00" y="1107.30" width="16.80" height="16.20" fill="none" stroke="#c4c4c4" stroke-width="0.9" />
<line x1="526.40" y1="1107.30" x2="574.00" y2="1107.30" stroke="#c4c4c4" stroke-width="0.9" />
<rect x="494.00" y="1108.00" width="22.00" height="11.00" fill="none" stroke="#c4c4c4" stroke-width="0.9" rx="2"/>
<path d="M489,1105 Q510,1100 526,1097" fill="none" stroke="#c4c4c4" stroke-width="0.9"/>
<line x1="410.00" y1="995.50" x2="627.00" y2="995.50" stroke="#d0d0d0" stroke-width="0.9" />
<rect x="444.00" y="983.00" width="38.50" height="14.00" fill="none" stroke="#c4c4c4" stroke-width="0.9" />
<path d="M433,1012 A14,14 0 0 1 455,1005 L445,1034 A16,16 0 0 1 433,1012 Z" fill="none" stroke="#bdbdbd" stroke-width="0.9"/>
<polygon points="584.00,1032.00 626.00,1032.00 626.00,1120.00 584.00,1120.00" fill="url(#tile2)" stroke="none" stroke-width="0" />
<rect x="607.50" y="1032.50" width="18.50" height="29.50" fill="#fff" stroke="#c0c0c0" stroke-width="0.8" />
<rect x="607.50" y="1071.00" width="18.50" height="20.00" fill="#fff" stroke="#c8c8c8" stroke-width="0.8" />
<rect x="611.00" y="1039.00" width="13.00" height="17.00" fill="none" stroke="#bbb" stroke-width="0.8" rx="2"/>
<path d="M620,1073 L612,1073 A7,7 0 0 0 612,1087 L620,1087 Z" fill="none" stroke="#bbb" stroke-width="0.8"/>
<rect x="792.00" y="293.65" width="11.50" height="11.50" fill="#d5d5d5" stroke="#2e2e2e" stroke-width="1.4" />
<rect x="792.00" y="425.95" width="11.50" height="11.50" fill="#d5d5d5" stroke="#2e2e2e" stroke-width="1.4" />
<rect x="792.00" y="558.25" width="11.50" height="11.50" fill="#d5d5d5" stroke="#2e2e2e" stroke-width="1.4" />
<rect x="792.00" y="692.15" width="11.50" height="11.50" fill="#d5d5d5" stroke="#2e2e2e" stroke-width="1.4" />
<rect x="940.05" y="293.65" width="11.50" height="11.50" fill="#d5d5d5" stroke="#2e2e2e" stroke-width="1.4" />
<rect x="940.05" y="425.95" width="11.50" height="11.50" fill="#d5d5d5" stroke="#2e2e2e" stroke-width="1.4" />
<rect x="940.05" y="558.25" width="11.50" height="11.50" fill="#d5d5d5" stroke="#2e2e2e" stroke-width="1.4" />
<rect x="940.05" y="692.15" width="11.50" height="11.50" fill="#d5d5d5" stroke="#2e2e2e" stroke-width="1.4" />
<rect x="1088.85" y="293.65" width="11.50" height="11.50" fill="#d5d5d5" stroke="#2e2e2e" stroke-width="1.4" />
<rect x="1088.85" y="425.95" width="11.50" height="11.50" fill="#d5d5d5" stroke="#2e2e2e" stroke-width="1.4" />
<rect x="1088.85" y="558.25" width="11.50" height="11.50" fill="#d5d5d5" stroke="#2e2e2e" stroke-width="1.4" />
<rect x="1088.85" y="692.15" width="11.50" height="11.50" fill="#d5d5d5" stroke="#2e2e2e" stroke-width="1.4" />
<rect x="1237.25" y="293.65" width="11.50" height="11.50" fill="#d5d5d5" stroke="#2e2e2e" stroke-width="1.4" />
<rect x="1237.25" y="425.95" width="11.50" height="11.50" fill="#d5d5d5" stroke="#2e2e2e" stroke-width="1.4" />
<rect x="1237.25" y="558.25" width="11.50" height="11.50" fill="#d5d5d5" stroke="#2e2e2e" stroke-width="1.4" />
<rect x="1237.25" y="692.15" width="11.50" height="11.50" fill="#d5d5d5" stroke="#2e2e2e" stroke-width="1.4" />
<rect x="1384.25" y="293.65" width="11.50" height="11.50" fill="#d5d5d5" stroke="#2e2e2e" stroke-width="1.4" />
<rect x="1384.25" y="425.95" width="11.50" height="11.50" fill="#d5d5d5" stroke="#2e2e2e" stroke-width="1.4" />
<rect x="1384.25" y="558.25" width="11.50" height="11.50" fill="#d5d5d5" stroke="#2e2e2e" stroke-width="1.4" />
<rect x="1384.25" y="692.15" width="11.50" height="11.50" fill="#d5d5d5" stroke="#2e2e2e" stroke-width="1.4" />
<rect x="791.25" y="833.00" width="11.50" height="11.50" fill="#d5d5d5" stroke="#2e2e2e" stroke-width="1.4" />
<rect x="791.25" y="973.65" width="11.50" height="11.50" fill="#d5d5d5" stroke="#2e2e2e" stroke-width="1.4" />
<rect x="791.25" y="1120.50" width="11.50" height="11.50" fill="#d5d5d5" stroke="#2e2e2e" stroke-width="1.4" />
<rect x="558.25" y="293.25" width="11.50" height="11.50" fill="#d5d5d5" stroke="#2e2e2e" stroke-width="1.4" />
<polygon points="482.50,304.50 487.50,293.00 498.00,293.00 498.00,304.50" fill="#d5d5d5" stroke="#2e2e2e" stroke-width="1.4" />
<rect x="556.75" y="479.25" width="11.50" height="11.50" fill="#d5d5d5" stroke="#2e2e2e" stroke-width="1.4" />
<rect x="556.75" y="691.75" width="11.50" height="11.50" fill="#d5d5d5" stroke="#2e2e2e" stroke-width="1.4" />
<rect x="446.75" y="691.75" width="11.50" height="11.50" fill="#d5d5d5" stroke="#2e2e2e" stroke-width="1.4" />
<polygon points="395.00,491.00 400.00,479.50 406.00,479.50 406.00,491.00" fill="#d5d5d5" stroke="#2e2e2e" stroke-width="1.4" />
<polygon points="292.50,697.50 296.00,691.50 304.50,691.50 304.50,703.50 296.00,703.50" fill="#d5d5d5" stroke="#2e2e2e" stroke-width="1.4" />
<polygon points="345.50,833.00 356.25,833.00 356.25,844.50 349.50,844.50" fill="#d5d5d5" stroke="#2e2e2e" stroke-width="1.4" />
<rect x="624.25" y="833.00" width="11.50" height="11.50" fill="#d5d5d5" stroke="#2e2e2e" stroke-width="1.4" />
<rect x="624.25" y="972.75" width="11.50" height="11.50" fill="#d5d5d5" stroke="#2e2e2e" stroke-width="1.4" />
<rect x="623.85" y="1120.75" width="11.50" height="11.50" fill="#d5d5d5" stroke="#2e2e2e" stroke-width="1.4" />
<polygon points="393.40,973.60 407.50,973.60 407.50,985.40 397.50,985.40" fill="#d5d5d5" stroke="#2e2e2e" stroke-width="1.4" />
<polygon points="446.70,1120.80 460.90,1120.80 460.90,1132.30 450.50,1132.30" fill="#d5d5d5" stroke="#2e2e2e" stroke-width="1.4" />
<rect x="943.00" y="305.00" width="5.75" height="121.00" fill="#fff" stroke="#2e2e2e" stroke-width="1.2" />
<rect x="1091.80" y="305.00" width="5.60" height="121.00" fill="#fff" stroke="#2e2e2e" stroke-width="1.2" />
<rect x="943.00" y="570.00" width="5.75" height="122.00" fill="#fff" stroke="#2e2e2e" stroke-width="1.2" />
<rect x="1091.80" y="570.00" width="5.60" height="122.00" fill="#fff" stroke="#2e2e2e" stroke-width="1.2" />
<rect x="795.00" y="305.00" width="5.50" height="121.00" fill="#dedede" stroke="#bdbdbd" stroke-width="0.8" />
<rect x="795.50" y="335.00" width="4.50" height="4.00" fill="#fff" stroke="#aaa" stroke-width="0.6" />
<rect x="795.50" y="365.00" width="4.50" height="4.00" fill="#fff" stroke="#aaa" stroke-width="0.6" />
<rect x="795.50" y="395.00" width="4.50" height="4.00" fill="#fff" stroke="#aaa" stroke-width="0.6" />
<rect x="795.00" y="437.00" width="5.50" height="121.00" fill="#dedede" stroke="#bdbdbd" stroke-width="0.8" />
<rect x="795.50" y="467.00" width="4.50" height="4.00" fill="#fff" stroke="#aaa" stroke-width="0.6" />
<rect x="795.50" y="497.00" width="4.50" height="4.00" fill="#fff" stroke="#aaa" stroke-width="0.6" />
<rect x="795.50" y="527.00" width="4.50" height="4.00" fill="#fff" stroke="#aaa" stroke-width="0.6" />
<rect x="795.00" y="570.00" width="5.50" height="122.00" fill="#dedede" stroke="#bdbdbd" stroke-width="0.8" />
<rect x="795.50" y="600.00" width="4.50" height="4.00" fill="#fff" stroke="#aaa" stroke-width="0.6" />
<rect x="795.50" y="630.00" width="4.50" height="4.00" fill="#fff" stroke="#aaa" stroke-width="0.6" />
<rect x="795.50" y="660.00" width="4.50" height="4.00" fill="#fff" stroke="#aaa" stroke-width="0.6" />
<rect x="1240.50" y="305.00" width="5.00" height="121.00" fill="#ececec" stroke="#c4c4c4" stroke-width="0.8" />
<rect x="1237.50" y="325.00" width="2.50" height="30.00" fill="#fff" stroke="#aaa" stroke-width="0.6" />
<rect x="1237.50" y="375.00" width="2.50" height="30.00" fill="#fff" stroke="#aaa" stroke-width="0.6" />
<rect x="1240.50" y="570.00" width="5.00" height="122.00" fill="#ececec" stroke="#c4c4c4" stroke-width="0.8" />
<rect x="1237.50" y="590.00" width="2.50" height="30.00" fill="#fff" stroke="#aaa" stroke-width="0.6" />
<rect x="1237.50" y="640.00" width="2.50" height="30.00" fill="#fff" stroke="#aaa" stroke-width="0.6" />
<polygon points="803.00,428.75 905.00,428.75 907.50,431.00 907.50,435.50 803.00,435.50" fill="#fff" stroke="#2e2e2e" stroke-width="1.3" />
<polygon points="803.00,560.00 905.00,560.00 907.50,562.50 907.50,566.50 803.00,566.50" fill="#fff" stroke="#2e2e2e" stroke-width="1.3" />
<rect x="901.00" y="437.00" width="4.50" height="121.00" fill="#ececec" stroke="#bbb" stroke-width="0.8" />
<rect x="898.00" y="455.00" width="2.50" height="35.00" fill="#fff" stroke="#aaa" stroke-width="0.6" />
<rect x="898.00" y="505.00" width="2.50" height="35.00" fill="#fff" stroke="#aaa" stroke-width="0.6" />
<rect x="804.50" y="296.90" width="33.12" height="3.00" fill="#f1f1f1" stroke="#aaa" stroke-width="0.6" />
<rect x="823.98" y="300.20" width="36.86" height="2.20" fill="#dedede" stroke="#b5b5b5" stroke-width="0.6" />
<line x1="863.56" y1="300.90" x2="879.94" y2="300.90" stroke="#d8d8d8" stroke-width="1" stroke-dasharray="1.5,2"/>
<rect x="882.67" y="300.20" width="36.86" height="2.20" fill="#dedede" stroke="#b5b5b5" stroke-width="0.6" />
<rect x="905.88" y="296.90" width="33.12" height="3.00" fill="#f1f1f1" stroke="#aaa" stroke-width="0.6" />
<rect x="952.50" y="296.90" width="33.33" height="3.00" fill="#f1f1f1" stroke="#aaa" stroke-width="0.6" />
<rect x="972.10" y="300.20" width="37.07" height="2.20" fill="#dedede" stroke="#b5b5b5" stroke-width="0.6" />
<line x1="1011.91" y1="300.90" x2="1028.39" y2="300.90" stroke="#d8d8d8" stroke-width="1" stroke-dasharray="1.5,2"/>
<rect x="1031.13" y="300.20" width="37.07" height="2.20" fill="#dedede" stroke="#b5b5b5" stroke-width="0.6" />
<rect x="1054.47" y="296.90" width="33.33" height="3.00" fill="#f1f1f1" stroke="#aaa" stroke-width="0.6" />
<rect x="1101.40" y="296.90" width="33.20" height="3.00" fill="#f1f1f1" stroke="#aaa" stroke-width="0.6" />
<rect x="1120.92" y="300.20" width="36.94" height="2.20" fill="#dedede" stroke="#b5b5b5" stroke-width="0.6" />
<line x1="1160.59" y1="300.90" x2="1177.01" y2="300.90" stroke="#d8d8d8" stroke-width="1" stroke-dasharray="1.5,2"/>
<rect x="1179.74" y="300.20" width="36.94" height="2.20" fill="#dedede" stroke="#b5b5b5" stroke-width="0.6" />
<rect x="1203.00" y="296.90" width="33.20" height="3.00" fill="#f1f1f1" stroke="#aaa" stroke-width="0.6" />
<rect x="952.50" y="429.20" width="33.33" height="3.00" fill="#f1f1f1" stroke="#aaa" stroke-width="0.6" />
<rect x="972.10" y="432.50" width="37.07" height="2.20" fill="#dedede" stroke="#b5b5b5" stroke-width="0.6" />
<line x1="1011.91" y1="433.20" x2="1028.39" y2="433.20" stroke="#d8d8d8" stroke-width="1" stroke-dasharray="1.5,2"/>
<rect x="1031.13" y="432.50" width="37.07" height="2.20" fill="#dedede" stroke="#b5b5b5" stroke-width="0.6" />
<rect x="1054.47" y="429.20" width="33.33" height="3.00" fill="#f1f1f1" stroke="#aaa" stroke-width="0.6" />
<rect x="1101.40" y="429.20" width="33.20" height="3.00" fill="#f1f1f1" stroke="#aaa" stroke-width="0.6" />
<rect x="1120.92" y="432.50" width="36.94" height="2.20" fill="#dedede" stroke="#b5b5b5" stroke-width="0.6" />
<line x1="1160.59" y1="433.20" x2="1177.01" y2="433.20" stroke="#d8d8d8" stroke-width="1" stroke-dasharray="1.5,2"/>
<rect x="1179.74" y="432.50" width="36.94" height="2.20" fill="#dedede" stroke="#b5b5b5" stroke-width="0.6" />
<rect x="1203.00" y="429.20" width="33.20" height="3.00" fill="#f1f1f1" stroke="#aaa" stroke-width="0.6" />
<rect x="952.50" y="561.50" width="33.33" height="3.00" fill="#f1f1f1" stroke="#aaa" stroke-width="0.6" />
<rect x="972.10" y="564.80" width="37.07" height="2.20" fill="#dedede" stroke="#b5b5b5" stroke-width="0.6" />
<line x1="1011.91" y1="565.50" x2="1028.39" y2="565.50" stroke="#d8d8d8" stroke-width="1" stroke-dasharray="1.5,2"/>
<rect x="1031.13" y="564.80" width="37.07" height="2.20" fill="#dedede" stroke="#b5b5b5" stroke-width="0.6" />
<rect x="1054.47" y="561.50" width="33.33" height="3.00" fill="#f1f1f1" stroke="#aaa" stroke-width="0.6" />
<rect x="1101.40" y="561.50" width="33.20" height="3.00" fill="#f1f1f1" stroke="#aaa" stroke-width="0.6" />
<rect x="1120.92" y="564.80" width="36.94" height="2.20" fill="#dedede" stroke="#b5b5b5" stroke-width="0.6" />
<line x1="1160.59" y1="565.50" x2="1177.01" y2="565.50" stroke="#d8d8d8" stroke-width="1" stroke-dasharray="1.5,2"/>
<rect x="1179.74" y="564.80" width="36.94" height="2.20" fill="#dedede" stroke="#b5b5b5" stroke-width="0.6" />
<rect x="1203.00" y="561.50" width="33.20" height="3.00" fill="#f1f1f1" stroke="#aaa" stroke-width="0.6" />
<rect x="804.50" y="695.40" width="33.12" height="3.00" fill="#f1f1f1" stroke="#aaa" stroke-width="0.6" />
<rect x="823.98" y="698.70" width="36.86" height="2.20" fill="#dedede" stroke="#b5b5b5" stroke-width="0.6" />
<line x1="863.56" y1="699.40" x2="879.94" y2="699.40" stroke="#d8d8d8" stroke-width="1" stroke-dasharray="1.5,2"/>
<rect x="882.67" y="698.70" width="36.86" height="2.20" fill="#dedede" stroke="#b5b5b5" stroke-width="0.6" />
<rect x="905.88" y="695.40" width="33.12" height="3.00" fill="#f1f1f1" stroke="#aaa" stroke-width="0.6" />
<rect x="952.50" y="695.40" width="33.33" height="3.00" fill="#f1f1f1" stroke="#aaa" stroke-width="0.6" />
<rect x="972.10" y="698.70" width="37.07" height="2.20" fill="#dedede" stroke="#b5b5b5" stroke-width="0.6" />
<line x1="1011.91" y1="699.40" x2="1028.39" y2="699.40" stroke="#d8d8d8" stroke-width="1" stroke-dasharray="1.5,2"/>
<rect x="1031.13" y="698.70" width="37.07" height="2.20" fill="#dedede" stroke="#b5b5b5" stroke-width="0.6" />
<rect x="1054.47" y="695.40" width="33.33" height="3.00" fill="#f1f1f1" stroke="#aaa" stroke-width="0.6" />
<rect x="1101.40" y="695.40" width="33.20" height="3.00" fill="#f1f1f1" stroke="#aaa" stroke-width="0.6" />
<rect x="1120.92" y="698.70" width="36.94" height="2.20" fill="#dedede" stroke="#b5b5b5" stroke-width="0.6" />
<line x1="1160.59" y1="699.40" x2="1177.01" y2="699.40" stroke="#d8d8d8" stroke-width="1" stroke-dasharray="1.5,2"/>
<rect x="1179.74" y="698.70" width="36.94" height="2.20" fill="#dedede" stroke="#b5b5b5" stroke-width="0.6" />
<rect x="1203.00" y="695.40" width="33.20" height="3.00" fill="#f1f1f1" stroke="#aaa" stroke-width="0.6" />
<polygon points="733.00,358.40 784.40,358.40 784.40,447.00 733.00,484.00" fill="#fff" stroke="#555" stroke-width="1" />
<line x1="733.00" y1="369.60" x2="784.40" y2="369.60" stroke="#666" stroke-width="0.8" />
<line x1="733.00" y1="380.60" x2="784.40" y2="380.60" stroke="#666" stroke-width="0.8" />
<line x1="733.00" y1="391.60" x2="784.40" y2="391.60" stroke="#666" stroke-width="0.8" />
<line x1="733.00" y1="403.00" x2="784.40" y2="403.00" stroke="#666" stroke-width="0.8" />
<line x1="733.00" y1="414.00" x2="784.40" y2="414.00" stroke="#666" stroke-width="0.8" />
<line x1="733.00" y1="425.00" x2="784.40" y2="425.00" stroke="#666" stroke-width="0.8" />
<line x1="733.00" y1="436.40" x2="784.40" y2="436.40" stroke="#666" stroke-width="0.8" />
<line x1="733.00" y1="447.60" x2="783.57" y2="447.60" stroke="#666" stroke-width="0.8" />
<line x1="733.00" y1="458.60" x2="768.29" y2="458.60" stroke="#666" stroke-width="0.8" />
<line x1="733.00" y1="469.60" x2="753.00" y2="469.60" stroke="#666" stroke-width="0.8" />
<line x1="758.40" y1="347.00" x2="758.40" y2="458.00" stroke="#444" stroke-width="0.9" />
<polyline points="750.00,451.00 758.40,458.00 767.00,451.00" fill="none" stroke="#444" stroke-width="0.9" />
<polyline points="735.00,363.00 735.00,482.00" fill="none" stroke="#bbb" stroke-width="1.5" />
<rect x="1338.60" y="437.40" width="123.00" height="121.00" fill="#fff" stroke="#777" stroke-width="1" />
<line x1="1338.60" y1="446.40" x2="1461.60" y2="446.40" stroke="#777" stroke-width="0.9" />
<line x1="1338.60" y1="549.40" x2="1461.60" y2="549.40" stroke="#777" stroke-width="0.9" />
<line x1="1349.60" y1="446.40" x2="1349.60" y2="549.40" stroke="#777" stroke-width="0.9" />
<line x1="1361.00" y1="446.40" x2="1361.00" y2="549.40" stroke="#777" stroke-width="0.9" />
<line x1="1372.00" y1="446.40" x2="1372.00" y2="549.40" stroke="#777" stroke-width="0.9" />
<line x1="1383.20" y1="446.40" x2="1383.20" y2="549.40" stroke="#777" stroke-width="0.9" />
<line x1="1394.40" y1="446.40" x2="1394.40" y2="549.40" stroke="#777" stroke-width="0.9" />
<line x1="1405.40" y1="446.40" x2="1405.40" y2="549.40" stroke="#777" stroke-width="0.9" />
<line x1="1416.40" y1="446.40" x2="1416.40" y2="549.40" stroke="#777" stroke-width="0.9" />
<line x1="1427.60" y1="446.40" x2="1427.60" y2="549.40" stroke="#777" stroke-width="0.9" />
<line x1="1438.80" y1="446.40" x2="1438.80" y2="549.40" stroke="#777" stroke-width="0.9" />
<line x1="1450.00" y1="446.40" x2="1450.00" y2="549.40" stroke="#777" stroke-width="0.9" />
<line x1="1335.00" y1="497.60" x2="1461.60" y2="497.60" stroke="#555" stroke-width="0.9" />
<polyline points="1454.00,489.00 1461.60,497.60 1454.00,506.00" fill="none" stroke="#555" stroke-width="0.9" />
<rect x="945.50" y="761.25" width="252.75" height="65.75" fill="#fff" stroke="#777" stroke-width="1" />
<line x1="955.50" y1="761.25" x2="955.50" y2="827.00" stroke="#777" stroke-width="0.9" />
<line x1="966.00" y1="761.25" x2="966.00" y2="827.00" stroke="#777" stroke-width="0.9" />
<line x1="976.50" y1="761.25" x2="976.50" y2="827.00" stroke="#777" stroke-width="0.9" />
<line x1="987.50" y1="761.25" x2="987.50" y2="827.00" stroke="#777" stroke-width="0.9" />
<line x1="998.75" y1="761.25" x2="998.75" y2="827.00" stroke="#777" stroke-width="0.9" />
<line x1="1008.75" y1="761.25" x2="1008.75" y2="827.00" stroke="#777" stroke-width="0.9" />
<line x1="1019.50" y1="761.25" x2="1019.50" y2="827.00" stroke="#777" stroke-width="0.9" />
<line x1="1029.50" y1="761.25" x2="1029.50" y2="827.00" stroke="#777" stroke-width="0.9" />
<line x1="1040.00" y1="761.25" x2="1040.00" y2="827.00" stroke="#777" stroke-width="0.9" />
<line x1="1050.00" y1="761.25" x2="1050.00" y2="827.00" stroke="#777" stroke-width="0.9" />
<line x1="1105.00" y1="761.25" x2="1105.00" y2="827.00" stroke="#777" stroke-width="0.9" />
<line x1="1115.00" y1="761.25" x2="1115.00" y2="827.00" stroke="#777" stroke-width="0.9" />
<line x1="1125.50" y1="761.25" x2="1125.50" y2="827.00" stroke="#777" stroke-width="0.9" />
<line x1="1135.75" y1="761.25" x2="1135.75" y2="827.00" stroke="#777" stroke-width="0.9" />
<line x1="1146.25" y1="761.25" x2="1146.25" y2="827.00" stroke="#777" stroke-width="0.9" />
<line x1="1156.75" y1="761.25" x2="1156.75" y2="827.00" stroke="#777" stroke-width="0.9" />
<line x1="1167.00" y1="761.25" x2="1167.00" y2="827.00" stroke="#777" stroke-width="0.9" />
<line x1="1177.50" y1="761.25" x2="1177.50" y2="827.00" stroke="#777" stroke-width="0.9" />
<line x1="1188.00" y1="761.25" x2="1188.00" y2="827.00" stroke="#777" stroke-width="0.9" />
<line x1="941.00" y1="794.50" x2="1198.25" y2="794.50" stroke="#555" stroke-width="0.9" />
<polyline points="1190.00,785.00 1198.25,794.50 1190.00,804.00" fill="none" stroke="#555" stroke-width="0.9" />
<line x1="1393.80" y1="305.00" x2="1393.80" y2="413.00" stroke="#6a6a6a" stroke-width="2.6" stroke-dasharray="1.5,1.6"/>
<line x1="1393.80" y1="236.50" x2="1393.80" y2="293.00" stroke="#6a6a6a" stroke-width="2.6" stroke-dasharray="1.5,1.6"/>
<line x1="1394.40" y1="590.00" x2="1394.40" y2="691.00" stroke="#6a6a6a" stroke-width="2.6" stroke-dasharray="1.5,1.6"/>
<line x1="1393.50" y1="704.00" x2="1393.50" y2="764.00" stroke="#6a6a6a" stroke-width="2.6" stroke-dasharray="1.5,1.6"/>
<line x1="802.50" y1="764.50" x2="1282.50" y2="764.50" stroke="#6a6a6a" stroke-width="2.6" stroke-dasharray="1.5,1.6"/>
<line x1="1353.75" y1="764.50" x2="1393.00" y2="764.50" stroke="#6a6a6a" stroke-width="2.6" stroke-dasharray="1.5,1.6"/>
<line x1="802.50" y1="844.50" x2="802.50" y2="1121.00" stroke="#6a6a6a" stroke-width="2.6" stroke-dasharray="1.5,1.6"/>
<line x1="802.50" y1="764.50" x2="802.50" y2="833.00" stroke="#c8c8c8" stroke-width="1" />
<line x1="1396.00" y1="416.00" x2="1396.00" y2="437.00" stroke="#d0d0d0" stroke-width="1" />
<path d="M1012,500 q3,-5 10,-5 q8,0 9,5 q0,5 -8,6 q-9,1 -11,-6z" fill="none" stroke="#c4c4c4" stroke-width="2.4"/>
<path d="M1012,500 q3,-5 10,-5 q8,0 9,5 q0,5 -8,6 q-9,1 -11,-6z" fill="none" stroke="#fafafa" stroke-width="0.9"/>
<path d="M1034,497 q2,-7 13,-7 q11,0 15,4 q5,5 0,8 q-6,4 -14,2 q-15,-2 -14,-7z" fill="none" stroke="#c4c4c4" stroke-width="2.4"/>
<path d="M1034,497 q2,-7 13,-7 q11,0 15,4 q5,5 0,8 q-6,4 -14,2 q-15,-2 -14,-7z" fill="none" stroke="#fafafa" stroke-width="0.9"/>
<path d="M1099,494 q4,-5 10,0 q6,5 7,9 q0,5 -6,3 q-4,3 -8,-1 q-5,-5 -3,-11z" fill="none" stroke="#c4c4c4" stroke-width="2.4"/>
<path d="M1099,494 q4,-5 10,0 q6,5 7,9 q0,5 -6,3 q-4,3 -8,-1 q-5,-5 -3,-11z" fill="none" stroke="#fafafa" stroke-width="0.9"/>
<g fill="none" stroke="#c9c9c9" stroke-width="0.9"><path d="M192.5,242.5 Q214.5,264.0 219.5,286.2"/><path d="M208.9,262.0 l-0.9,3.7"/><path d="M215.9,275.1 l-0.7,2.7"/><path d="M192.5,242.5 Q200.2,273.3 201.8,294.5"/><path d="M198.2,268.3 l2.6,1.9"/><path d="M200.6,283.3 l2.2,1.7"/><path d="M192.5,242.5 Q175.7,255.8 168.1,268.5"/><path d="M179.2,254.3 l0.4,3.5"/><path d="M172.5,262.1 l0.6,4.4"/><path d="M192.5,242.5 Q165.6,227.4 141.3,238.8"/><path d="M168.8,234.3 l-3.6,2.3"/><path d="M153.6,234.7 l-2.9,-4.0"/><path d="M192.5,242.5 Q181.4,211.7 154.6,203.3"/><path d="M179.3,219.3 l-5.0,-1.2"/><path d="M167.0,208.9 l-0.7,-3.3"/><path d="M192.5,242.5 Q209.7,217.7 201.0,193.0"/><path d="M202.7,220.2 l3.7,-3.1"/><path d="M203.7,205.4 l-1.8,-3.7"/><path d="M192.5,242.5 Q220.0,226.4 238.1,215.4"/><path d="M215.3,229.0 l1.5,-4.2"/><path d="M228.5,221.2 l3.0,0.4"/><path d="M192.5,242.5 Q221.5,250.2 242.4,246.7"/><path d="M217.0,247.1 l3.5,2.5"/><path d="M231.4,247.7 l2.9,-2.6"/><ellipse cx="192.5" cy="246.3" rx="6.4" ry="4.2" transform="rotate(71 192.5 246.3)"/><circle cx="193.1" cy="236.7" r="3.5"/><ellipse cx="237.6" cy="251.0" rx="1.4" ry="2.2" transform="rotate(107 237.6 251.0)"/><ellipse cx="212.5" cy="279.1" rx="3.2" ry="4.3" transform="rotate(97 212.5 279.1)"/><ellipse cx="199.2" cy="301.7" rx="3.2" ry="4.1" transform="rotate(83 199.2 301.7)"/><ellipse cx="158.7" cy="232.0" rx="3.4" ry="6.1" transform="rotate(148 158.7 232.0)"/><ellipse cx="188.9" cy="182.2" rx="3.6" ry="5.1" transform="rotate(77 188.9 182.2)"/><ellipse cx="206.6" cy="227.5" rx="2.7" ry="4.2" transform="rotate(87 206.6 227.5)"/><ellipse cx="169.8" cy="275.4" rx="3.0" ry="4.2" transform="rotate(82 169.8 275.4)"/><ellipse cx="194.8" cy="260.1" rx="1.9" ry="2.9" transform="rotate(144 194.8 260.1)"/><ellipse cx="215.8" cy="189.9" rx="2.3" ry="3.1" transform="rotate(15 215.8 189.9)"/><ellipse cx="208.9" cy="244.0" rx="3.2" ry="4.1" transform="rotate(112 208.9 244.0)"/><ellipse cx="228.1" cy="259.1" rx="1.8" ry="2.2" transform="rotate(49 228.1 259.1)"/><ellipse cx="140.2" cy="257.8" rx="2.3" ry="2.6" transform="rotate(70 140.2 257.8)"/><ellipse cx="131.7" cy="238.6" rx="2.0" ry="3.0" transform="rotate(4 131.7 238.6)"/><ellipse cx="202.5" cy="255.7" rx="3.0" ry="5.0" transform="rotate(122 202.5 255.7)"/><ellipse cx="201.4" cy="289.9" rx="4.3" ry="5.6" transform="rotate(40 201.4 289.9)"/><ellipse cx="151.2" cy="274.5" rx="2.8" ry="4.4" transform="rotate(11 151.2 274.5)"/><ellipse cx="228.7" cy="235.1" rx="3.5" ry="5.9" transform="rotate(56 228.7 235.1)"/><ellipse cx="226.9" cy="244.3" rx="3.3" ry="5.9" transform="rotate(173 226.9 244.3)"/><ellipse cx="215.8" cy="285.9" rx="4.2" ry="5.6" transform="rotate(92 215.8 285.9)"/><ellipse cx="144.0" cy="264.2" rx="1.7" ry="2.8" transform="rotate(53 144.0 264.2)"/><ellipse cx="171.4" cy="283.8" rx="4.2" ry="4.3" transform="rotate(36 171.4 283.8)"/><ellipse cx="201.5" cy="280.5" rx="3.6" ry="5.3" transform="rotate(62 201.5 280.5)"/><ellipse cx="169.3" cy="186.8" rx="3.1" ry="3.5" transform="rotate(131 169.3 186.8)"/><ellipse cx="194.3" cy="210.4" rx="3.3" ry="4.1" transform="rotate(61 194.3 210.4)"/><ellipse cx="217.1" cy="215.4" rx="3.5" ry="4.9" transform="rotate(24 217.1 215.4)"/><ellipse cx="230.9" cy="272.0" rx="1.1" ry="2.1" transform="rotate(142 230.9 272.0)"/><ellipse cx="160.8" cy="291.8" rx="3.3" ry="4.1" transform="rotate(103 160.8 291.8)"/><ellipse cx="221.1" cy="258.6" rx="2.3" ry="3.0" transform="rotate(167 221.1 258.6)"/><ellipse cx="184.9" cy="286.4" rx="3.9" ry="4.1" transform="rotate(121 184.9 286.4)"/><ellipse cx="224.6" cy="271.0" rx="1.7" ry="2.7" transform="rotate(19 224.6 271.0)"/><ellipse cx="148.3" cy="284.9" rx="4.4" ry="5.1" transform="rotate(46 148.3 284.9)"/><ellipse cx="162.3" cy="221.5" rx="2.5" ry="3.1" transform="rotate(164 162.3 221.5)"/><ellipse cx="254.4" cy="230.6" rx="1.5" ry="2.3" transform="rotate(176 254.4 230.6)"/><ellipse cx="174.3" cy="197.9" rx="3.0" ry="4.6" transform="rotate(55 174.3 197.9)"/><ellipse cx="132.4" cy="262.9" rx="3.3" ry="5.2" transform="rotate(70 132.4 262.9)"/><ellipse cx="238.9" cy="205.8" rx="2.1" ry="3.2" transform="rotate(104 238.9 205.8)"/><ellipse cx="194.0" cy="292.7" rx="1.1" ry="1.4" transform="rotate(99 194.0 292.7)"/><ellipse cx="212.0" cy="252.5" rx="3.0" ry="4.9" transform="rotate(89 212.0 252.5)"/><ellipse cx="226.3" cy="291.7" rx="3.0" ry="3.3" transform="rotate(171 226.3 291.7)"/><ellipse cx="167.7" cy="295.3" rx="1.6" ry="2.5" transform="rotate(53 167.7 295.3)"/><ellipse cx="185.2" cy="259.1" rx="4.1" ry="6.1" transform="rotate(151 185.2 259.1)"/><ellipse cx="191.6" cy="295.4" rx="1.6" ry="2.2" transform="rotate(99 191.6 295.4)"/><ellipse cx="221.1" cy="203.8" rx="2.6" ry="3.5" transform="rotate(46 221.1 203.8)"/><ellipse cx="182.0" cy="228.7" rx="2.6" ry="3.0" transform="rotate(64 182.0 228.7)"/><ellipse cx="211.8" cy="261.8" rx="2.3" ry="2.8" transform="rotate(72 211.8 261.8)"/><ellipse cx="144.9" cy="242.2" rx="3.1" ry="4.7" transform="rotate(132 144.9 242.2)"/><ellipse cx="158.9" cy="243.5" rx="2.5" ry="3.7" transform="rotate(101 158.9 243.5)"/><ellipse cx="245.6" cy="212.3" rx="2.2" ry="2.5" transform="rotate(13 245.6 212.3)"/><ellipse cx="226.1" cy="209.9" rx="1.9" ry="2.8" transform="rotate(56 226.1 209.9)"/><ellipse cx="153.2" cy="238.8" rx="1.9" ry="2.1" transform="rotate(177 153.2 238.8)"/><ellipse cx="152.5" cy="200.7" rx="2.4" ry="3.4" transform="rotate(25 152.5 200.7)"/><ellipse cx="223.5" cy="194.9" rx="3.4" ry="4.4" transform="rotate(166 223.5 194.9)"/><ellipse cx="214.7" cy="228.2" rx="3.5" ry="5.7" transform="rotate(73 214.7 228.2)"/><ellipse cx="185.2" cy="267.2" rx="2.2" ry="2.3" transform="rotate(34 185.2 267.2)"/><ellipse cx="141.4" cy="218.2" rx="2.3" ry="2.9" transform="rotate(145 141.4 218.2)"/><ellipse cx="240.0" cy="242.8" rx="2.6" ry="3.4" transform="rotate(72 240.0 242.8)"/><ellipse cx="191.1" cy="200.1" rx="3.8" ry="4.9" transform="rotate(112 191.1 200.1)"/><ellipse cx="162.3" cy="279.3" rx="1.1" ry="1.5" transform="rotate(73 162.3 279.3)"/><ellipse cx="240.2" cy="222.6" rx="3.9" ry="5.4" transform="rotate(147 240.2 222.6)"/><ellipse cx="162.9" cy="283.5" rx="2.2" ry="3.3" transform="rotate(98 162.9 283.5)"/><ellipse cx="206.6" cy="218.0" rx="2.7" ry="3.2" transform="rotate(92 206.6 218.0)"/><ellipse cx="244.6" cy="249.0" rx="3.2" ry="4.2" transform="rotate(72 244.6 249.0)"/><ellipse cx="150.1" cy="209.6" rx="1.8" ry="3.1" transform="rotate(48 150.1 209.6)"/><ellipse cx="175.7" cy="218.4" rx="3.6" ry="4.3" transform="rotate(110 175.7 218.4)"/><ellipse cx="230.8" cy="200.0" rx="2.1" ry="3.8" transform="rotate(127 230.8 200.0)"/><ellipse cx="204.9" cy="187.6" rx="1.9" ry="2.3" transform="rotate(175 204.9 187.6)"/><ellipse cx="230.1" cy="219.7" rx="3.5" ry="4.3" transform="rotate(95 230.1 219.7)"/><ellipse cx="181.7" cy="188.8" rx="2.0" ry="3.0" transform="rotate(89 181.7 188.8)"/><ellipse cx="201.9" cy="265.0" rx="1.4" ry="2.2" transform="rotate(39 201.9 265.0)"/><ellipse cx="144.8" cy="201.4" rx="2.6" ry="2.8" transform="rotate(125 144.8 201.4)"/><ellipse cx="173.1" cy="256.6" rx="2.7" ry="3.4" transform="rotate(42 173.1 256.6)"/><ellipse cx="185.5" cy="211.2" rx="2.4" ry="3.7" transform="rotate(179 185.5 211.2)"/><ellipse cx="198.3" cy="223.8" rx="3.5" ry="5.0" transform="rotate(104 198.3 223.8)"/><ellipse cx="152.8" cy="193.5" rx="1.8" ry="3.3" transform="rotate(106 152.8 193.5)"/><ellipse cx="236.4" cy="260.1" rx="2.3" ry="2.9" transform="rotate(158 236.4 260.1)"/><ellipse cx="170.0" cy="205.8" rx="3.6" ry="5.1" transform="rotate(135 170.0 205.8)"/><ellipse cx="173.9" cy="238.8" rx="2.3" ry="3.5" transform="rotate(127 173.9 238.8)"/><ellipse cx="252.1" cy="251.8" rx="2.5" ry="4.4" transform="rotate(15 252.1 251.8)"/><ellipse cx="218.3" cy="270.0" rx="3.9" ry="5.6" transform="rotate(55 218.3 270.0)"/><ellipse cx="193.7" cy="285.6" rx="2.8" ry="3.9" transform="rotate(141 193.7 285.6)"/><ellipse cx="138.4" cy="210.9" rx="1.6" ry="2.1" transform="rotate(178 138.4 210.9)"/><ellipse cx="172.1" cy="290.7" rx="2.1" ry="2.9" transform="rotate(135 172.1 290.7)"/><ellipse cx="146.7" cy="234.9" rx="1.9" ry="2.3" transform="rotate(59 146.7 234.9)"/></g>
<g fill="none" stroke="#c9c9c9" stroke-width="0.9"><path d="M318.8,172.5 Q339.5,162.0 357.4,170.5"/><path d="M336.8,166.9 l3.0,-3.4"/><path d="M348.2,167.4 l2.8,1.7"/><path d="M318.8,172.5 Q341.3,194.7 369.4,186.9"/><path d="M340.2,186.4 l2.3,4.5"/><path d="M355.7,188.9 l2.1,3.3"/><path d="M318.8,172.5 Q336.2,187.4 333.4,207.8"/><path d="M330.3,187.0 l-2.4,4.6"/><path d="M333.5,197.9 l-1.9,3.7"/><path d="M318.8,172.5 Q317.1,198.1 296.8,209.1"/><path d="M313.5,192.6 l-3.7,1.8"/><path d="M305.8,202.7 l-4.5,0.6"/><path d="M318.8,172.5 Q284.6,177.3 266.7,196.7"/><path d="M291.3,179.8 l-3.4,-1.4"/><path d="M276.6,187.9 l-4.7,-0.6"/><path d="M318.8,172.5 Q295.9,155.2 279.8,144.9"/><path d="M299.5,158.4 l-1.4,-3.8"/><path d="M288.3,150.5 l-0.7,-3.9"/><path d="M318.8,172.5 Q322.8,145.6 315.4,127.4"/><path d="M320.1,150.1 l1.9,-2.7"/><path d="M318.4,137.0 l3.4,-3.6"/><path d="M318.8,172.5 Q344.1,155.1 351.7,133.2"/><path d="M338.0,156.0 l5.2,-1.3"/><path d="M346.8,143.9 l3.2,-0.8"/><ellipse cx="318.8" cy="176.6" rx="6.8" ry="4.4" transform="rotate(92 318.8 176.6)"/><circle cx="319.4" cy="166.4" r="3.7"/><ellipse cx="271.7" cy="126.5" rx="1.6" ry="2.3" transform="rotate(163 271.7 126.5)"/><ellipse cx="317.7" cy="139.8" rx="1.5" ry="1.8" transform="rotate(41 317.7 139.8)"/><ellipse cx="368.9" cy="212.0" rx="3.2" ry="3.7" transform="rotate(38 368.9 212.0)"/><ellipse cx="262.1" cy="202.3" rx="3.0" ry="4.6" transform="rotate(31 262.1 202.3)"/><ellipse cx="367.7" cy="200.6" rx="3.5" ry="6.2" transform="rotate(4 367.7 200.6)"/><ellipse cx="333.0" cy="138.6" rx="1.6" ry="2.7" transform="rotate(69 333.0 138.6)"/><ellipse cx="339.2" cy="171.2" rx="1.5" ry="2.4" transform="rotate(111 339.2 171.2)"/><ellipse cx="300.6" cy="178.6" rx="3.8" ry="5.8" transform="rotate(136 300.6 178.6)"/><ellipse cx="301.2" cy="111.6" rx="2.6" ry="4.1" transform="rotate(57 301.2 111.6)"/><ellipse cx="294.5" cy="158.2" rx="2.6" ry="3.1" transform="rotate(173 294.5 158.2)"/><ellipse cx="289.7" cy="149.6" rx="2.3" ry="3.8" transform="rotate(25 289.7 149.6)"/><ellipse cx="340.2" cy="177.1" rx="1.6" ry="2.7" transform="rotate(91 340.2 177.1)"/><ellipse cx="380.5" cy="145.4" rx="3.8" ry="5.7" transform="rotate(45 380.5 145.4)"/><ellipse cx="280.9" cy="135.1" rx="3.9" ry="4.7" transform="rotate(76 280.9 135.1)"/><ellipse cx="369.2" cy="174.0" rx="1.3" ry="1.6" transform="rotate(130 369.2 174.0)"/><ellipse cx="347.8" cy="193.6" rx="1.7" ry="2.4" transform="rotate(94 347.8 193.6)"/><ellipse cx="301.3" cy="216.8" rx="3.0" ry="5.2" transform="rotate(173 301.3 216.8)"/><ellipse cx="368.8" cy="189.2" rx="2.6" ry="3.2" transform="rotate(17 368.8 189.2)"/><ellipse cx="277.9" cy="218.2" rx="3.3" ry="4.3" transform="rotate(52 277.9 218.2)"/><ellipse cx="271.9" cy="221.0" rx="1.3" ry="1.5" transform="rotate(55 271.9 221.0)"/><ellipse cx="289.5" cy="117.1" rx="1.2" ry="1.6" transform="rotate(87 289.5 117.1)"/><ellipse cx="291.9" cy="200.1" rx="3.5" ry="6.1" transform="rotate(35 291.9 200.1)"/><ellipse cx="278.0" cy="205.4" rx="3.0" ry="3.7" transform="rotate(22 278.0 205.4)"/><ellipse cx="343.0" cy="185.9" rx="3.9" ry="6.2" transform="rotate(125 343.0 185.9)"/><ellipse cx="308.8" cy="157.0" rx="3.8" ry="5.0" transform="rotate(64 308.8 157.0)"/><ellipse cx="333.0" cy="127.4" rx="2.2" ry="3.0" transform="rotate(172 333.0 127.4)"/><ellipse cx="323.3" cy="211.4" rx="2.6" ry="3.9" transform="rotate(122 323.3 211.4)"/><ellipse cx="262.7" cy="138.9" rx="3.3" ry="4.9" transform="rotate(180 262.7 138.9)"/><ellipse cx="293.1" cy="187.3" rx="1.3" ry="2.3" transform="rotate(178 293.1 187.3)"/><ellipse cx="357.1" cy="212.6" rx="2.1" ry="3.4" transform="rotate(123 357.1 212.6)"/><ellipse cx="272.8" cy="165.5" rx="1.7" ry="2.7" transform="rotate(136 272.8 165.5)"/><ellipse cx="293.3" cy="169.9" rx="3.2" ry="5.5" transform="rotate(83 293.3 169.9)"/><ellipse cx="264.5" cy="145.5" rx="1.7" ry="2.0" transform="rotate(107 264.5 145.5)"/><ellipse cx="345.9" cy="230.5" rx="2.9" ry="3.9" transform="rotate(128 345.9 230.5)"/><ellipse cx="286.3" cy="230.9" rx="3.7" ry="5.4" transform="rotate(153 286.3 230.9)"/><ellipse cx="374.4" cy="164.5" rx="2.8" ry="4.5" transform="rotate(128 374.4 164.5)"/><ellipse cx="281.1" cy="120.6" rx="3.2" ry="6.0" transform="rotate(131 281.1 120.6)"/><ellipse cx="363.3" cy="142.3" rx="3.4" ry="6.1" transform="rotate(138 363.3 142.3)"/><ellipse cx="329.7" cy="141.6" rx="1.8" ry="2.4" transform="rotate(46 329.7 141.6)"/><ellipse cx="267.7" cy="183.2" rx="2.2" ry="2.3" transform="rotate(1 267.7 183.2)"/><ellipse cx="344.1" cy="131.0" rx="3.5" ry="4.6" transform="rotate(121 344.1 131.0)"/><ellipse cx="314.4" cy="213.5" rx="2.5" ry="3.4" transform="rotate(136 314.4 213.5)"/><ellipse cx="298.4" cy="132.6" rx="4.0" ry="4.4" transform="rotate(29 298.4 132.6)"/><ellipse cx="276.1" cy="182.1" rx="1.9" ry="3.2" transform="rotate(174 276.1 182.1)"/><ellipse cx="277.1" cy="162.4" rx="2.5" ry="4.0" transform="rotate(56 277.1 162.4)"/><ellipse cx="263.5" cy="178.1" rx="3.3" ry="3.5" transform="rotate(148 263.5 178.1)"/><ellipse cx="294.7" cy="141.0" rx="3.8" ry="4.9" transform="rotate(151 294.7 141.0)"/><ellipse cx="301.8" cy="153.7" rx="2.6" ry="4.0" transform="rotate(144 301.8 153.7)"/><ellipse cx="299.2" cy="223.6" rx="2.0" ry="2.6" transform="rotate(50 299.2 223.6)"/><ellipse cx="257.6" cy="195.8" rx="3.6" ry="4.3" transform="rotate(18 257.6 195.8)"/><ellipse cx="332.0" cy="205.7" rx="3.2" ry="4.4" transform="rotate(143 332.0 205.7)"/><ellipse cx="372.9" cy="154.4" rx="3.8" ry="5.6" transform="rotate(168 372.9 154.4)"/><ellipse cx="292.7" cy="124.7" rx="2.4" ry="3.1" transform="rotate(172 292.7 124.7)"/><ellipse cx="350.2" cy="164.6" rx="1.5" ry="2.2" transform="rotate(65 350.2 164.6)"/><ellipse cx="367.2" cy="128.8" rx="3.5" ry="5.1" transform="rotate(43 367.2 128.8)"/><ellipse cx="270.7" cy="212.3" rx="2.3" ry="2.7" transform="rotate(57 270.7 212.3)"/><ellipse cx="318.5" cy="206.1" rx="2.4" ry="3.5" transform="rotate(44 318.5 206.1)"/><ellipse cx="323.6" cy="129.5" rx="1.3" ry="2.3" transform="rotate(77 323.6 129.5)"/><ellipse cx="339.8" cy="138.2" rx="3.2" ry="4.4" transform="rotate(177 339.8 138.2)"/><ellipse cx="355.3" cy="115.6" rx="2.7" ry="3.9" transform="rotate(8 355.3 115.6)"/><ellipse cx="345.3" cy="171.7" rx="1.9" ry="2.5" transform="rotate(165 345.3 171.7)"/><ellipse cx="310.5" cy="194.9" rx="3.1" ry="4.4" transform="rotate(63 310.5 194.9)"/><ellipse cx="337.8" cy="197.6" rx="2.9" ry="5.5" transform="rotate(117 337.8 197.6)"/><ellipse cx="335.8" cy="159.9" rx="2.1" ry="3.0" transform="rotate(25 335.8 159.9)"/><ellipse cx="347.3" cy="113.8" rx="3.1" ry="4.7" transform="rotate(25 347.3 113.8)"/><ellipse cx="351.8" cy="208.5" rx="1.5" ry="2.1" transform="rotate(10 351.8 208.5)"/><ellipse cx="370.9" cy="136.7" rx="3.5" ry="5.6" transform="rotate(29 370.9 136.7)"/><ellipse cx="329.6" cy="148.5" rx="2.9" ry="4.3" transform="rotate(54 329.6 148.5)"/><ellipse cx="277.3" cy="192.7" rx="2.8" ry="4.0" transform="rotate(101 277.3 192.7)"/><ellipse cx="327.6" cy="239.5" rx="3.6" ry="5.1" transform="rotate(6 327.6 239.5)"/><ellipse cx="334.1" cy="221.7" rx="2.0" ry="2.8" transform="rotate(113 334.1 221.7)"/><ellipse cx="321.7" cy="151.7" rx="4.1" ry="5.4" transform="rotate(7 321.7 151.7)"/><ellipse cx="308.9" cy="229.2" rx="4.0" ry="5.3" transform="rotate(75 308.9 229.2)"/><ellipse cx="262.8" cy="188.6" rx="2.9" ry="5.0" transform="rotate(49 262.8 188.6)"/><ellipse cx="338.5" cy="234.9" rx="3.8" ry="5.6" transform="rotate(81 338.5 234.9)"/><ellipse cx="292.0" cy="211.4" rx="2.6" ry="3.5" transform="rotate(86 292.0 211.4)"/><ellipse cx="286.6" cy="178.8" rx="2.9" ry="3.8" transform="rotate(109 286.6 178.8)"/><ellipse cx="357.9" cy="175.6" rx="3.5" ry="5.0" transform="rotate(57 357.9 175.6)"/><ellipse cx="312.8" cy="136.2" rx="2.4" ry="3.3" transform="rotate(150 312.8 136.2)"/><ellipse cx="303.3" cy="164.0" rx="1.5" ry="2.5" transform="rotate(68 303.3 164.0)"/><ellipse cx="356.7" cy="225.6" rx="2.6" ry="3.7" transform="rotate(37 356.7 225.6)"/><ellipse cx="359.3" cy="131.6" rx="3.3" ry="4.4" transform="rotate(42 359.3 131.6)"/><ellipse cx="364.3" cy="163.9" rx="2.5" ry="3.4" transform="rotate(39 364.3 163.9)"/><ellipse cx="284.6" cy="165.4" rx="3.3" ry="6.0" transform="rotate(121 284.6 165.4)"/><ellipse cx="359.0" cy="202.1" rx="2.9" ry="4.5" transform="rotate(105 359.0 202.1)"/><ellipse cx="313.2" cy="115.1" rx="1.7" ry="2.8" transform="rotate(23 313.2 115.1)"/><ellipse cx="266.7" cy="194.1" rx="1.6" ry="2.6" transform="rotate(85 266.7 194.1)"/><ellipse cx="278.1" cy="224.7" rx="2.7" ry="3.5" transform="rotate(19 278.1 224.7)"/></g>
<g fill="none" stroke="#b2b58f" stroke-width="0.9"><path d="M730.0,112.5 Q728.8,135.9 732.1,151.4"/><path d="M729.8,131.9 l3.2,3.1"/><path d="M730.7,143.2 l-1.5,2.4"/><path d="M730.0,112.5 Q706.4,119.2 696.6,136.0"/><path d="M711.5,120.6 l-4.3,-0.2"/><path d="M702.3,128.3 l-0.9,4.2"/><path d="M730.0,112.5 Q702.5,109.5 684.0,115.4"/><path d="M707.1,111.6 l-3.7,2.7"/><path d="M693.8,113.0 l-1.9,1.5"/><path d="M730.0,112.5 Q719.1,90.5 704.3,80.6"/><path d="M719.4,95.1 l0.5,-4.4"/><path d="M711.5,86.3 l0.4,-3.6"/><path d="M730.0,112.5 Q730.5,91.8 735.4,78.5"/><path d="M731.3,95.4 l-1.1,-2.6"/><path d="M733.2,85.6 l3.5,-2.4"/><path d="M730.0,112.5 Q749.5,91.4 759.7,75.0"/><path d="M745.6,94.5 l4.4,-0.7"/><path d="M754.0,83.5 l-0.8,-4.6"/><path d="M730.0,112.5 Q749.6,120.1 765.0,112.9"/><path d="M746.8,116.3 l2.0,-2.0"/><path d="M757.0,115.6 l2.0,1.4"/><path d="M730.0,112.5 Q757.1,126.5 762.1,151.9"/><path d="M749.9,127.4 l2.6,0.6"/><path d="M758.2,139.9 l0.0,3.3"/><ellipse cx="730.0" cy="116.0" rx="5.8" ry="3.8" transform="rotate(21 730.0 116.0)"/><circle cx="730.6" cy="107.3" r="3.2"/><ellipse cx="733.3" cy="66.8" rx="2.4" ry="3.3" transform="rotate(166 733.3 66.8)"/><ellipse cx="732.9" cy="144.9" rx="1.0" ry="1.5" transform="rotate(96 732.9 144.9)"/><ellipse cx="785.7" cy="102.4" rx="1.9" ry="3.1" transform="rotate(176 785.7 102.4)"/><ellipse cx="707.4" cy="139.8" rx="1.8" ry="2.1" transform="rotate(157 707.4 139.8)"/><ellipse cx="755.1" cy="84.7" rx="2.7" ry="5.1" transform="rotate(146 755.1 84.7)"/><ellipse cx="708.6" cy="88.5" rx="3.6" ry="4.4" transform="rotate(46 708.6 88.5)"/><ellipse cx="707.1" cy="165.4" rx="2.4" ry="2.8" transform="rotate(114 707.1 165.4)"/><ellipse cx="721.7" cy="157.7" rx="2.7" ry="4.3" transform="rotate(4 721.7 157.7)"/><ellipse cx="750.1" cy="153.5" rx="1.9" ry="2.8" transform="rotate(48 750.1 153.5)"/><ellipse cx="771.0" cy="144.2" rx="3.9" ry="5.1" transform="rotate(24 771.0 144.2)"/><ellipse cx="706.1" cy="77.9" rx="1.9" ry="3.0" transform="rotate(117 706.1 77.9)"/><ellipse cx="712.4" cy="99.6" rx="3.9" ry="4.7" transform="rotate(146 712.4 99.6)"/><ellipse cx="779.9" cy="139.9" rx="3.0" ry="4.7" transform="rotate(49 779.9 139.9)"/><ellipse cx="780.6" cy="123.5" rx="3.6" ry="5.9" transform="rotate(103 780.6 123.5)"/><ellipse cx="701.0" cy="158.2" rx="3.0" ry="5.0" transform="rotate(106 701.0 158.2)"/><ellipse cx="691.3" cy="108.0" rx="3.5" ry="5.1" transform="rotate(52 691.3 108.0)"/><ellipse cx="773.4" cy="122.4" rx="2.2" ry="3.4" transform="rotate(150 773.4 122.4)"/><ellipse cx="683.6" cy="109.5" rx="3.2" ry="4.2" transform="rotate(6 683.6 109.5)"/><ellipse cx="675.2" cy="97.0" rx="4.0" ry="5.7" transform="rotate(175 675.2 97.0)"/><ellipse cx="730.8" cy="136.0" rx="1.3" ry="1.7" transform="rotate(36 730.8 136.0)"/><ellipse cx="680.5" cy="135.8" rx="1.3" ry="1.5" transform="rotate(91 680.5 135.8)"/><ellipse cx="760.3" cy="116.3" rx="2.4" ry="4.4" transform="rotate(20 760.3 116.3)"/><ellipse cx="753.5" cy="108.3" rx="3.0" ry="3.2" transform="rotate(40 753.5 108.3)"/><ellipse cx="748.0" cy="97.2" rx="1.4" ry="2.0" transform="rotate(160 748.0 97.2)"/><ellipse cx="693.8" cy="138.7" rx="3.0" ry="4.8" transform="rotate(94 693.8 138.7)"/><ellipse cx="721.9" cy="128.8" rx="3.8" ry="5.3" transform="rotate(8 721.9 128.8)"/><ellipse cx="712.0" cy="114.5" rx="1.3" ry="1.7" transform="rotate(88 712.0 114.5)"/><ellipse cx="753.3" cy="123.8" rx="2.3" ry="3.0" transform="rotate(48 753.3 123.8)"/><ellipse cx="727.7" cy="99.3" rx="3.4" ry="3.9" transform="rotate(83 727.7 99.3)"/><ellipse cx="684.2" cy="100.3" rx="2.6" ry="4.8" transform="rotate(10 684.2 100.3)"/><ellipse cx="680.7" cy="140.3" rx="1.0" ry="1.5" transform="rotate(106 680.7 140.3)"/><ellipse cx="738.4" cy="164.1" rx="1.4" ry="2.1" transform="rotate(174 738.4 164.1)"/><ellipse cx="760.3" cy="80.3" rx="1.6" ry="2.5" transform="rotate(132 760.3 80.3)"/><ellipse cx="719.0" cy="61.1" rx="2.4" ry="3.5" transform="rotate(95 719.0 61.1)"/><ellipse cx="741.8" cy="123.0" rx="2.7" ry="3.3" transform="rotate(54 741.8 123.0)"/><ellipse cx="733.2" cy="155.5" rx="2.5" ry="4.0" transform="rotate(99 733.2 155.5)"/><ellipse cx="753.0" cy="161.7" rx="1.6" ry="2.0" transform="rotate(82 753.0 161.7)"/><ellipse cx="775.9" cy="95.2" rx="2.0" ry="3.2" transform="rotate(100 775.9 95.2)"/><ellipse cx="689.6" cy="152.8" rx="2.1" ry="3.0" transform="rotate(174 689.6 152.8)"/><ellipse cx="694.8" cy="96.4" rx="3.2" ry="4.3" transform="rotate(28 694.8 96.4)"/><ellipse cx="688.3" cy="116.8" rx="3.5" ry="4.5" transform="rotate(154 688.3 116.8)"/><ellipse cx="730.3" cy="87.9" rx="1.6" ry="2.6" transform="rotate(153 730.3 87.9)"/><ellipse cx="685.5" cy="82.2" rx="3.3" ry="4.6" transform="rotate(55 685.5 82.2)"/><ellipse cx="740.7" cy="82.3" rx="1.8" ry="2.3" transform="rotate(87 740.7 82.3)"/><ellipse cx="743.5" cy="159.7" rx="3.2" ry="4.2" transform="rotate(5 743.5 159.7)"/><ellipse cx="768.1" cy="77.6" rx="1.4" ry="2.0" transform="rotate(117 768.1 77.6)"/><ellipse cx="776.7" cy="134.2" rx="1.7" ry="3.0" transform="rotate(140 776.7 134.2)"/><ellipse cx="745.5" cy="105.7" rx="1.5" ry="2.1" transform="rotate(16 745.5 105.7)"/><ellipse cx="704.5" cy="136.5" rx="1.4" ry="2.1" transform="rotate(88 704.5 136.5)"/><ellipse cx="711.5" cy="120.8" rx="2.5" ry="3.2" transform="rotate(95 711.5 120.8)"/><ellipse cx="708.7" cy="68.3" rx="2.3" ry="3.4" transform="rotate(121 708.7 68.3)"/><ellipse cx="753.2" cy="61.0" rx="1.7" ry="2.0" transform="rotate(102 753.2 61.0)"/><ellipse cx="699.3" cy="72.5" rx="2.9" ry="4.3" transform="rotate(166 699.3 72.5)"/><ellipse cx="761.3" cy="137.8" rx="3.1" ry="4.1" transform="rotate(117 761.3 137.8)"/><ellipse cx="717.9" cy="149.4" rx="1.8" ry="2.7" transform="rotate(127 717.9 149.4)"/><ellipse cx="739.5" cy="133.0" rx="2.8" ry="3.7" transform="rotate(18 739.5 133.0)"/><ellipse cx="760.4" cy="123.1" rx="1.6" ry="2.0" transform="rotate(125 760.4 123.1)"/><ellipse cx="744.5" cy="75.2" rx="1.4" ry="2.2" transform="rotate(27 744.5 75.2)"/><ellipse cx="769.8" cy="154.1" rx="3.2" ry="4.5" transform="rotate(98 769.8 154.1)"/><ellipse cx="758.5" cy="93.4" rx="2.1" ry="3.0" transform="rotate(127 758.5 93.4)"/><ellipse cx="702.8" cy="64.7" rx="1.1" ry="1.8" transform="rotate(19 702.8 64.7)"/><ellipse cx="757.4" cy="151.5" rx="2.3" ry="4.1" transform="rotate(5 757.4 151.5)"/><ellipse cx="717.6" cy="79.1" rx="1.5" ry="2.2" transform="rotate(6 717.6 79.1)"/><ellipse cx="741.7" cy="96.7" rx="1.8" ry="2.1" transform="rotate(82 741.7 96.7)"/><ellipse cx="684.9" cy="130.9" rx="2.2" ry="3.2" transform="rotate(153 684.9 130.9)"/><ellipse cx="749.1" cy="58.6" rx="1.9" ry="3.1" transform="rotate(96 749.1 58.6)"/><ellipse cx="686.1" cy="143.1" rx="1.9" ry="3.2" transform="rotate(43 686.1 143.1)"/><ellipse cx="732.9" cy="167.1" rx="2.1" ry="3.1" transform="rotate(21 732.9 167.1)"/><ellipse cx="762.9" cy="108.6" rx="4.0" ry="6.1" transform="rotate(88 762.9 108.6)"/><ellipse cx="720.6" cy="92.2" rx="1.1" ry="1.6" transform="rotate(34 720.6 92.2)"/><ellipse cx="709.3" cy="149.5" rx="3.9" ry="4.8" transform="rotate(86 709.3 149.5)"/><ellipse cx="744.6" cy="145.7" rx="3.3" ry="4.6" transform="rotate(126 744.6 145.7)"/><ellipse cx="773.7" cy="86.7" rx="3.5" ry="3.7" transform="rotate(31 773.7 86.7)"/><ellipse cx="752.4" cy="67.0" rx="1.5" ry="2.1" transform="rotate(58 752.4 67.0)"/><ellipse cx="744.5" cy="69.2" rx="1.3" ry="1.5" transform="rotate(84 744.5 69.2)"/></g>
<g fill="none" stroke="#a3a3a3" stroke-width="0.9"><path d="M793.0,105.0 Q808.4,126.1 805.3,146.8"/><path d="M803.1,123.9 l2.8,2.8"/><path d="M805.7,136.4 l-2.3,3.9"/><path d="M793.0,105.0 Q783.8,131.4 768.3,144.5"/><path d="M783.5,126.0 l0.9,3.1"/><path d="M775.7,137.1 l1.2,4.5"/><path d="M793.0,105.0 Q769.6,108.0 753.8,102.5"/><path d="M773.5,106.0 l-3.4,-2.3"/><path d="M762.2,104.7 l-2.2,-2.1"/><path d="M793.0,105.0 Q783.3,85.0 764.3,81.5"/><path d="M782.4,90.3 l-1.2,-3.1"/><path d="M773.2,84.3 l-0.2,-3.9"/><path d="M793.0,105.0 Q787.3,76.9 786.8,57.6"/><path d="M788.9,81.5 l-2.1,-2.4"/><path d="M787.4,67.8 l-2.3,-3.0"/><path d="M793.0,105.0 Q817.6,92.3 830.5,78.0"/><path d="M812.8,93.3 l4.3,-0.3"/><path d="M823.3,85.1 l0.9,-3.0"/><path d="M793.0,105.0 Q817.3,100.9 834.0,104.1"/><path d="M813.3,102.8 l2.3,2.1"/><path d="M825.2,103.0 l2.4,1.3"/><path d="M793.0,105.0 Q817.0,124.3 836.5,132.4"/><path d="M813.7,120.1 l5.0,0.1"/><path d="M826.4,127.6 l0.9,2.5"/><ellipse cx="793.0" cy="108.8" rx="6.4" ry="4.2" transform="rotate(126 793.0 108.8)"/><circle cx="793.6" cy="99.2" r="3.5"/><ellipse cx="851.3" cy="88.0" rx="3.8" ry="3.9" transform="rotate(52 851.3 88.0)"/><ellipse cx="802.9" cy="42.8" rx="2.8" ry="3.7" transform="rotate(147 802.9 42.8)"/><ellipse cx="806.2" cy="139.2" rx="2.4" ry="3.5" transform="rotate(173 806.2 139.2)"/><ellipse cx="831.6" cy="107.3" rx="1.2" ry="2.0" transform="rotate(65 831.6 107.3)"/><ellipse cx="822.9" cy="125.9" rx="3.9" ry="5.0" transform="rotate(11 822.9 125.9)"/><ellipse cx="803.0" cy="122.9" rx="2.9" ry="3.8" transform="rotate(88 803.0 122.9)"/><ellipse cx="827.3" cy="104.5" rx="1.6" ry="2.5" transform="rotate(74 827.3 104.5)"/><ellipse cx="730.0" cy="113.9" rx="2.0" ry="2.4" transform="rotate(76 730.0 113.9)"/><ellipse cx="819.3" cy="83.1" rx="3.6" ry="4.2" transform="rotate(46 819.3 83.1)"/><ellipse cx="830.7" cy="151.6" rx="1.5" ry="1.9" transform="rotate(178 830.7 151.6)"/><ellipse cx="827.2" cy="80.5" rx="3.5" ry="4.9" transform="rotate(89 827.2 80.5)"/><ellipse cx="847.2" cy="77.2" rx="2.4" ry="3.6" transform="rotate(116 847.2 77.2)"/><ellipse cx="735.8" cy="94.8" rx="3.4" ry="4.1" transform="rotate(166 735.8 94.8)"/><ellipse cx="848.9" cy="133.2" rx="4.5" ry="5.9" transform="rotate(8 848.9 133.2)"/><ellipse cx="842.1" cy="124.6" rx="1.9" ry="2.6" transform="rotate(134 842.1 124.6)"/><ellipse cx="805.1" cy="165.6" rx="1.2" ry="1.3" transform="rotate(158 805.1 165.6)"/><ellipse cx="802.4" cy="81.2" rx="3.9" ry="5.0" transform="rotate(158 802.4 81.2)"/><ellipse cx="778.1" cy="77.3" rx="2.6" ry="3.5" transform="rotate(85 778.1 77.3)"/><ellipse cx="839.8" cy="112.8" rx="1.3" ry="1.8" transform="rotate(156 839.8 112.8)"/><ellipse cx="825.6" cy="143.8" rx="2.6" ry="3.4" transform="rotate(2 825.6 143.8)"/><ellipse cx="820.6" cy="53.0" rx="1.5" ry="2.0" transform="rotate(142 820.6 53.0)"/><ellipse cx="796.8" cy="142.4" rx="3.1" ry="3.3" transform="rotate(21 796.8 142.4)"/><ellipse cx="831.5" cy="71.2" rx="2.8" ry="4.5" transform="rotate(140 831.5 71.2)"/><ellipse cx="808.8" cy="90.4" rx="1.8" ry="3.0" transform="rotate(76 808.8 90.4)"/><ellipse cx="821.5" cy="155.0" rx="3.4" ry="4.6" transform="rotate(89 821.5 155.0)"/><ellipse cx="755.3" cy="94.9" rx="4.0" ry="4.4" transform="rotate(56 755.3 94.9)"/><ellipse cx="745.0" cy="109.1" rx="3.3" ry="4.0" transform="rotate(44 745.0 109.1)"/><ellipse cx="756.2" cy="151.4" rx="4.0" ry="5.1" transform="rotate(122 756.2 151.4)"/><ellipse cx="773.3" cy="151.8" rx="3.8" ry="6.2" transform="rotate(55 773.3 151.8)"/><ellipse cx="771.9" cy="70.8" rx="1.5" ry="2.0" transform="rotate(146 771.9 70.8)"/><ellipse cx="763.8" cy="144.9" rx="2.7" ry="4.2" transform="rotate(169 763.8 144.9)"/><ellipse cx="829.7" cy="110.4" rx="1.4" ry="1.9" transform="rotate(144 829.7 110.4)"/><ellipse cx="778.1" cy="84.1" rx="3.5" ry="4.7" transform="rotate(150 778.1 84.1)"/><ellipse cx="826.4" cy="88.7" rx="2.6" ry="4.0" transform="rotate(127 826.4 88.7)"/><ellipse cx="844.4" cy="103.9" rx="3.7" ry="5.1" transform="rotate(147 844.4 103.9)"/><ellipse cx="762.3" cy="124.1" rx="1.1" ry="1.7" transform="rotate(125 762.3 124.1)"/><ellipse cx="821.5" cy="147.6" rx="1.6" ry="2.3" transform="rotate(166 821.5 147.6)"/><ellipse cx="782.8" cy="137.1" rx="3.5" ry="6.1" transform="rotate(123 782.8 137.1)"/><ellipse cx="839.7" cy="92.8" rx="2.1" ry="2.6" transform="rotate(17 839.7 92.8)"/><ellipse cx="785.6" cy="121.6" rx="1.4" ry="2.7" transform="rotate(52 785.6 121.6)"/><ellipse cx="775.0" cy="47.2" rx="3.5" ry="5.5" transform="rotate(158 775.0 47.2)"/><ellipse cx="742.0" cy="84.8" rx="3.5" ry="4.7" transform="rotate(90 742.0 84.8)"/><ellipse cx="764.8" cy="157.5" rx="2.4" ry="2.8" transform="rotate(158 764.8 157.5)"/><ellipse cx="809.2" cy="100.9" rx="1.6" ry="2.7" transform="rotate(148 809.2 100.9)"/><ellipse cx="747.9" cy="147.6" rx="4.0" ry="5.3" transform="rotate(19 747.9 147.6)"/><ellipse cx="836.5" cy="78.1" rx="2.3" ry="3.6" transform="rotate(108 836.5 78.1)"/><ellipse cx="780.4" cy="91.2" rx="2.3" ry="3.1" transform="rotate(55 780.4 91.2)"/><ellipse cx="750.1" cy="62.0" rx="2.5" ry="3.7" transform="rotate(161 750.1 62.0)"/><ellipse cx="760.1" cy="54.4" rx="3.4" ry="4.7" transform="rotate(178 760.1 54.4)"/><ellipse cx="818.4" cy="101.5" rx="3.6" ry="4.1" transform="rotate(152 818.4 101.5)"/><ellipse cx="756.1" cy="69.4" rx="1.3" ry="1.4" transform="rotate(86 756.1 69.4)"/><ellipse cx="775.4" cy="126.4" rx="4.0" ry="5.9" transform="rotate(54 775.4 126.4)"/><ellipse cx="760.2" cy="79.6" rx="1.2" ry="2.1" transform="rotate(136 760.2 79.6)"/><ellipse cx="775.0" cy="161.9" rx="3.6" ry="4.9" transform="rotate(79 775.0 161.9)"/><ellipse cx="783.0" cy="166.1" rx="3.4" ry="5.1" transform="rotate(152 783.0 166.1)"/><ellipse cx="765.2" cy="78.9" rx="2.1" ry="2.4" transform="rotate(47 765.2 78.9)"/><ellipse cx="817.4" cy="121.0" rx="2.2" ry="2.9" transform="rotate(160 817.4 121.0)"/><ellipse cx="827.9" cy="135.4" rx="2.3" ry="3.8" transform="rotate(30 827.9 135.4)"/><ellipse cx="811.8" cy="76.7" rx="1.8" ry="2.1" transform="rotate(102 811.8 76.7)"/><ellipse cx="794.8" cy="87.5" rx="1.7" ry="2.1" transform="rotate(58 794.8 87.5)"/><ellipse cx="833.2" cy="102.5" rx="1.7" ry="2.9" transform="rotate(171 833.2 102.5)"/><ellipse cx="846.1" cy="97.8" rx="1.5" ry="2.1" transform="rotate(120 846.1 97.8)"/><ellipse cx="839.8" cy="141.0" rx="1.7" ry="2.6" transform="rotate(98 839.8 141.0)"/><ellipse cx="796.1" cy="46.2" rx="1.2" ry="1.6" transform="rotate(43 796.1 46.2)"/><ellipse cx="809.9" cy="151.4" rx="3.0" ry="4.1" transform="rotate(127 809.9 151.4)"/><ellipse cx="815.7" cy="163.0" rx="2.7" ry="2.9" transform="rotate(5 815.7 163.0)"/><ellipse cx="730.9" cy="106.0" rx="1.2" ry="2.0" transform="rotate(71 730.9 106.0)"/><ellipse cx="755.4" cy="118.2" rx="1.5" ry="2.6" transform="rotate(132 755.4 118.2)"/><ellipse cx="751.8" cy="75.0" rx="3.2" ry="3.5" transform="rotate(79 751.8 75.0)"/><ellipse cx="819.2" cy="74.3" rx="1.9" ry="2.3" transform="rotate(159 819.2 74.3)"/><ellipse cx="834.0" cy="63.6" rx="1.7" ry="2.3" transform="rotate(109 834.0 63.6)"/><ellipse cx="789.0" cy="153.0" rx="1.4" ry="2.2" transform="rotate(38 789.0 153.0)"/><ellipse cx="783.8" cy="149.3" rx="3.7" ry="5.2" transform="rotate(52 783.8 149.3)"/><ellipse cx="826.3" cy="55.8" rx="1.4" ry="1.7" transform="rotate(76 826.3 55.8)"/><ellipse cx="819.1" cy="48.1" rx="2.1" ry="3.1" transform="rotate(180 819.1 48.1)"/><ellipse cx="751.2" cy="126.6" rx="1.6" ry="2.3" transform="rotate(113 751.2 126.6)"/><ellipse cx="773.3" cy="113.3" rx="1.5" ry="2.6" transform="rotate(58 773.3 113.3)"/><ellipse cx="795.2" cy="65.0" rx="2.9" ry="3.6" transform="rotate(112 795.2 65.0)"/><ellipse cx="763.7" cy="108.2" rx="3.2" ry="4.6" transform="rotate(103 763.7 108.2)"/><ellipse cx="770.0" cy="136.8" rx="2.8" ry="4.3" transform="rotate(137 770.0 136.8)"/><ellipse cx="787.8" cy="61.9" rx="2.2" ry="3.3" transform="rotate(38 787.8 61.9)"/><ellipse cx="816.9" cy="69.5" rx="1.8" ry="1.9" transform="rotate(126 816.9 69.5)"/><ellipse cx="737.7" cy="115.7" rx="3.2" ry="4.1" transform="rotate(65 737.7 115.7)"/></g>
<g fill="none" stroke="#c6c6c6" stroke-width="0.9"><path d="M840.0,177.5 Q834.3,153.8 814.5,145.9"/><path d="M832.0,159.4 l-3.5,-0.2"/><path d="M823.5,150.8 l-3.8,-0.5"/><path d="M840.0,177.5 Q830.6,158.6 832.8,143.0"/><path d="M833.9,161.1 l-1.6,-1.2"/><path d="M832.4,151.0 l-1.8,-1.5"/><path d="M840.0,177.5 Q859.1,170.5 867.7,157.9"/><path d="M855.1,170.1 l1.3,-3.0"/><path d="M862.8,163.9 l1.5,-3.6"/><path d="M840.0,177.5 Q863.7,182.3 878.9,167.1"/><path d="M859.6,177.8 l1.1,-2.3"/><path d="M870.8,173.5 l1.9,-2.8"/><path d="M840.0,177.5 Q857.7,196.3 874.9,202.7"/><path d="M855.8,191.9 l0.9,2.6"/><path d="M866.3,198.7 l2.4,-0.6"/><path d="M840.0,177.5 Q840.3,202.1 844.0,218.3"/><path d="M840.9,197.9 l-1.1,2.5"/><path d="M842.3,209.7 l-1.5,2.2"/><path d="M840.0,177.5 Q832.6,199.8 813.0,205.8"/><path d="M830.9,194.3 l0.3,2.7"/><path d="M822.0,201.8 l-3.4,1.1"/><path d="M840.0,177.5 Q821.3,189.5 803.1,180.5"/><path d="M823.3,184.0 l-2.1,2.5"/><path d="M812.2,183.7 l-2.0,1.5"/><ellipse cx="840.0" cy="180.5" rx="5.0" ry="3.2" transform="rotate(148 840.0 180.5)"/><circle cx="840.5" cy="173.0" r="2.8"/><ellipse cx="805.1" cy="174.8" rx="3.1" ry="4.6" transform="rotate(106 805.1 174.8)"/><ellipse cx="810.1" cy="210.4" rx="1.9" ry="3.2" transform="rotate(38 810.1 210.4)"/><ellipse cx="816.2" cy="205.3" rx="1.4" ry="2.3" transform="rotate(17 816.2 205.3)"/><ellipse cx="825.5" cy="216.8" rx="3.3" ry="4.8" transform="rotate(56 825.5 216.8)"/><ellipse cx="833.3" cy="142.4" rx="1.3" ry="2.1" transform="rotate(6 833.3 142.4)"/><ellipse cx="815.9" cy="213.6" rx="1.9" ry="2.2" transform="rotate(176 815.9 213.6)"/><ellipse cx="852.9" cy="139.1" rx="1.9" ry="3.4" transform="rotate(102 852.9 139.1)"/><ellipse cx="856.7" cy="164.8" rx="2.0" ry="3.0" transform="rotate(11 856.7 164.8)"/><ellipse cx="861.2" cy="203.5" rx="3.5" ry="4.2" transform="rotate(94 861.2 203.5)"/><ellipse cx="821.6" cy="132.0" rx="1.9" ry="2.8" transform="rotate(162 821.6 132.0)"/><ellipse cx="848.7" cy="159.7" rx="2.3" ry="4.1" transform="rotate(156 848.7 159.7)"/><ellipse cx="816.5" cy="178.7" rx="2.5" ry="3.5" transform="rotate(11 816.5 178.7)"/><ellipse cx="835.1" cy="191.0" rx="2.7" ry="4.1" transform="rotate(48 835.1 191.0)"/><ellipse cx="829.5" cy="129.1" rx="3.3" ry="4.3" transform="rotate(153 829.5 129.1)"/><ellipse cx="845.3" cy="142.5" rx="1.9" ry="2.6" transform="rotate(90 845.3 142.5)"/><ellipse cx="868.4" cy="165.7" rx="2.5" ry="2.7" transform="rotate(156 868.4 165.7)"/><ellipse cx="861.3" cy="174.8" rx="1.6" ry="2.6" transform="rotate(51 861.3 174.8)"/><ellipse cx="831.6" cy="162.0" rx="2.3" ry="3.7" transform="rotate(93 831.6 162.0)"/><ellipse cx="833.9" cy="223.8" rx="3.3" ry="5.1" transform="rotate(112 833.9 223.8)"/><ellipse cx="841.3" cy="154.0" rx="1.7" ry="2.7" transform="rotate(176 841.3 154.0)"/><ellipse cx="791.1" cy="182.9" rx="2.5" ry="3.4" transform="rotate(119 791.1 182.9)"/><ellipse cx="844.9" cy="194.0" rx="2.9" ry="3.9" transform="rotate(171 844.9 194.0)"/><ellipse cx="871.0" cy="142.9" rx="2.9" ry="4.7" transform="rotate(99 871.0 142.9)"/><ellipse cx="831.9" cy="205.3" rx="2.8" ry="3.2" transform="rotate(63 831.9 205.3)"/><ellipse cx="822.5" cy="188.7" rx="2.6" ry="3.6" transform="rotate(28 822.5 188.7)"/><ellipse cx="808.2" cy="182.1" rx="1.5" ry="2.0" transform="rotate(148 808.2 182.1)"/><ellipse cx="809.6" cy="205.3" rx="2.3" ry="2.9" transform="rotate(59 809.6 205.3)"/><ellipse cx="796.8" cy="159.0" rx="2.6" ry="3.2" transform="rotate(86 796.8 159.0)"/><ellipse cx="821.4" cy="165.0" rx="2.8" ry="3.8" transform="rotate(4 821.4 165.0)"/><ellipse cx="861.3" cy="180.7" rx="3.2" ry="3.6" transform="rotate(7 861.3 180.7)"/><ellipse cx="841.6" cy="215.6" rx="2.1" ry="3.3" transform="rotate(152 841.6 215.6)"/><ellipse cx="790.5" cy="171.8" rx="3.6" ry="5.3" transform="rotate(3 790.5 171.8)"/><ellipse cx="835.8" cy="197.7" rx="3.0" ry="4.5" transform="rotate(5 835.8 197.7)"/><ellipse cx="827.1" cy="149.4" rx="2.8" ry="3.6" transform="rotate(100 827.1 149.4)"/><ellipse cx="872.7" cy="203.7" rx="2.6" ry="3.9" transform="rotate(145 872.7 203.7)"/><ellipse cx="825.3" cy="141.1" rx="3.6" ry="5.5" transform="rotate(151 825.3 141.1)"/><ellipse cx="869.1" cy="178.1" rx="3.2" ry="4.6" transform="rotate(85 869.1 178.1)"/><ellipse cx="886.6" cy="169.5" rx="2.5" ry="3.6" transform="rotate(9 886.6 169.5)"/><ellipse cx="855.5" cy="171.6" rx="2.0" ry="2.4" transform="rotate(73 855.5 171.6)"/><ellipse cx="857.9" cy="142.0" rx="1.6" ry="2.3" transform="rotate(127 857.9 142.0)"/><ellipse cx="853.9" cy="208.7" rx="1.8" ry="1.9" transform="rotate(38 853.9 208.7)"/><ellipse cx="814.7" cy="165.4" rx="1.4" ry="2.1" transform="rotate(2 814.7 165.4)"/><ellipse cx="847.0" cy="214.7" rx="1.1" ry="1.9" transform="rotate(51 847.0 214.7)"/><ellipse cx="857.6" cy="131.3" rx="3.2" ry="4.4" transform="rotate(24 857.6 131.3)"/><ellipse cx="849.5" cy="166.5" rx="2.4" ry="3.3" transform="rotate(83 849.5 166.5)"/><ellipse cx="878.3" cy="208.2" rx="2.6" ry="3.4" transform="rotate(153 878.3 208.2)"/><ellipse cx="796.1" cy="198.4" rx="3.4" ry="3.7" transform="rotate(164 796.1 198.4)"/><ellipse cx="856.4" cy="150.1" rx="2.2" ry="2.9" transform="rotate(143 856.4 150.1)"/><ellipse cx="820.5" cy="156.4" rx="3.4" ry="4.1" transform="rotate(179 820.5 156.4)"/><ellipse cx="850.7" cy="200.3" rx="1.1" ry="1.5" transform="rotate(35 850.7 200.3)"/><ellipse cx="812.3" cy="191.2" rx="2.2" ry="3.2" transform="rotate(58 812.3 191.2)"/><ellipse cx="806.6" cy="166.2" rx="1.5" ry="2.1" transform="rotate(121 806.6 166.2)"/><ellipse cx="827.2" cy="181.1" rx="2.9" ry="5.0" transform="rotate(58 827.2 181.1)"/><ellipse cx="809.7" cy="149.9" rx="3.6" ry="5.1" transform="rotate(33 809.7 149.9)"/><ellipse cx="868.6" cy="190.3" rx="3.5" ry="5.5" transform="rotate(32 868.6 190.3)"/><ellipse cx="875.6" cy="163.3" rx="2.7" ry="4.6" transform="rotate(17 875.6 163.3)"/><ellipse cx="884.7" cy="163.0" rx="1.7" ry="2.4" transform="rotate(34 884.7 163.0)"/><ellipse cx="837.8" cy="160.2" rx="2.7" ry="3.6" transform="rotate(76 837.8 160.2)"/><ellipse cx="796.3" cy="171.3" rx="1.3" ry="2.3" transform="rotate(124 796.3 171.3)"/><ellipse cx="887.4" cy="177.4" rx="2.3" ry="3.6" transform="rotate(140 887.4 177.4)"/><ellipse cx="817.6" cy="193.2" rx="1.5" ry="2.0" transform="rotate(125 817.6 193.2)"/><ellipse cx="882.5" cy="198.1" rx="3.0" ry="4.7" transform="rotate(0 882.5 198.1)"/><ellipse cx="884.2" cy="182.7" rx="1.2" ry="1.4" transform="rotate(145 884.2 182.7)"/><ellipse cx="826.2" cy="173.7" rx="2.6" ry="3.6" transform="rotate(175 826.2 173.7)"/><ellipse cx="847.9" cy="185.6" rx="3.4" ry="4.1" transform="rotate(0 847.9 185.6)"/></g>
<g fill="none" stroke="#6e6e6e" stroke-width="1.0"><path d="M898.0,157.0 Q902.3,135.3 913.5,123.5"/><path d="M903.3,139.5 l-0.4,-3.3"/><path d="M908.3,130.0 l1.9,-1.0"/><path d="M898.0,157.0 Q917.0,154.2 925.8,141.1"/><path d="M913.0,152.4 l1.5,-2.9"/><path d="M920.8,147.0 l3.2,0.8"/><path d="M898.0,157.0 Q916.3,168.4 933.8,159.4"/><path d="M914.3,163.1 l2.4,2.9"/><path d="M925.0,162.6 l2.4,2.7"/><path d="M898.0,157.0 Q916.5,174.4 915.0,195.7"/><path d="M910.6,173.4 l2.3,1.0"/><path d="M914.5,185.3 l-1.1,3.7"/><path d="M898.0,157.0 Q885.2,176.2 893.4,195.2"/><path d="M890.7,174.2 l1.5,2.1"/><path d="M890.6,185.7 l-2.2,2.4"/><path d="M898.0,157.0 Q877.8,173.8 865.1,185.8"/><path d="M881.4,171.1 l-0.3,2.6"/><path d="M871.9,179.5 l-0.5,2.5"/><path d="M898.0,157.0 Q878.3,140.5 857.3,143.5"/><path d="M880.0,146.1 l-2.4,0.6"/><path d="M867.7,143.2 l-1.7,-3.0"/><path d="M898.0,157.0 Q889.3,137.9 882.6,125.5"/><path d="M890.6,141.2 l0.4,-4.1"/><path d="M886.1,132.1 l-2.8,-1.7"/><ellipse cx="898.0" cy="160.1" rx="5.2" ry="3.4" transform="rotate(180 898.0 160.1)"/><circle cx="898.5" cy="152.3" r="2.9"/><ellipse cx="879.8" cy="164.0" rx="2.4" ry="4.0" transform="rotate(157 879.8 164.0)"/><ellipse cx="905.6" cy="122.0" rx="1.6" ry="2.5" transform="rotate(55 905.6 122.0)"/><ellipse cx="942.0" cy="139.8" rx="1.5" ry="2.0" transform="rotate(130 942.0 139.8)"/><ellipse cx="948.8" cy="162.9" rx="2.1" ry="3.4" transform="rotate(34 948.8 162.9)"/><ellipse cx="879.9" cy="190.2" rx="2.5" ry="3.5" transform="rotate(76 879.9 190.2)"/><ellipse cx="868.3" cy="134.7" rx="2.4" ry="3.7" transform="rotate(89 868.3 134.7)"/><ellipse cx="856.9" cy="165.6" rx="1.7" ry="3.0" transform="rotate(111 856.9 165.6)"/><ellipse cx="893.7" cy="200.6" rx="2.8" ry="3.7" transform="rotate(28 893.7 200.6)"/><ellipse cx="853.8" cy="139.5" rx="2.7" ry="2.9" transform="rotate(110 853.8 139.5)"/><ellipse cx="881.5" cy="120.6" rx="2.1" ry="2.6" transform="rotate(106 881.5 120.6)"/><ellipse cx="926.2" cy="198.2" rx="1.4" ry="2.5" transform="rotate(144 926.2 198.2)"/><ellipse cx="932.2" cy="174.7" rx="1.5" ry="2.5" transform="rotate(123 932.2 174.7)"/><ellipse cx="886.5" cy="182.1" rx="1.0" ry="1.5" transform="rotate(8 886.5 182.1)"/><ellipse cx="892.0" cy="120.6" rx="0.9" ry="1.6" transform="rotate(111 892.0 120.6)"/><ellipse cx="913.1" cy="132.7" rx="2.4" ry="2.8" transform="rotate(115 913.1 132.7)"/><ellipse cx="915.7" cy="200.8" rx="3.0" ry="4.1" transform="rotate(101 915.7 200.8)"/><ellipse cx="878.5" cy="179.5" rx="1.6" ry="2.6" transform="rotate(50 878.5 179.5)"/><ellipse cx="869.4" cy="161.9" rx="1.9" ry="3.0" transform="rotate(45 869.4 161.9)"/><ellipse cx="901.0" cy="198.0" rx="2.8" ry="3.4" transform="rotate(6 901.0 198.0)"/><ellipse cx="894.8" cy="106.3" rx="2.4" ry="3.6" transform="rotate(159 894.8 106.3)"/><ellipse cx="887.6" cy="136.2" rx="1.7" ry="2.9" transform="rotate(115 887.6 136.2)"/><ellipse cx="885.3" cy="174.4" rx="2.8" ry="4.6" transform="rotate(33 885.3 174.4)"/><ellipse cx="853.0" cy="154.9" rx="3.1" ry="4.6" transform="rotate(125 853.0 154.9)"/><ellipse cx="929.2" cy="188.6" rx="2.7" ry="4.2" transform="rotate(101 929.2 188.6)"/><ellipse cx="902.1" cy="145.6" rx="2.0" ry="3.0" transform="rotate(95 902.1 145.6)"/><ellipse cx="896.2" cy="117.9" rx="1.5" ry="2.0" transform="rotate(124 896.2 117.9)"/><ellipse cx="917.6" cy="166.9" rx="0.9" ry="1.0" transform="rotate(117 917.6 166.9)"/><ellipse cx="900.7" cy="173.8" rx="2.1" ry="2.9" transform="rotate(171 900.7 173.8)"/><ellipse cx="911.3" cy="146.5" rx="2.3" ry="3.0" transform="rotate(32 911.3 146.5)"/><ellipse cx="940.7" cy="165.3" rx="3.2" ry="3.8" transform="rotate(127 940.7 165.3)"/><ellipse cx="901.2" cy="185.0" rx="2.9" ry="3.9" transform="rotate(116 901.2 185.0)"/><ellipse cx="927.0" cy="159.4" rx="2.3" ry="3.6" transform="rotate(174 927.0 159.4)"/><ellipse cx="874.3" cy="199.5" rx="2.2" ry="3.2" transform="rotate(65 874.3 199.5)"/><ellipse cx="886.4" cy="126.6" rx="1.9" ry="2.9" transform="rotate(62 886.4 126.6)"/><ellipse cx="890.5" cy="169.5" rx="2.1" ry="2.7" transform="rotate(122 890.5 169.5)"/><ellipse cx="851.5" cy="179.2" rx="2.4" ry="3.5" transform="rotate(46 851.5 179.2)"/><ellipse cx="907.0" cy="175.0" rx="1.4" ry="1.4" transform="rotate(29 907.0 175.0)"/><ellipse cx="903.3" cy="108.6" rx="2.4" ry="2.8" transform="rotate(116 903.3 108.6)"/><ellipse cx="891.1" cy="187.1" rx="2.4" ry="2.9" transform="rotate(140 891.1 187.1)"/><ellipse cx="877.7" cy="170.3" rx="2.2" ry="3.5" transform="rotate(35 877.7 170.3)"/><ellipse cx="918.4" cy="147.2" rx="1.0" ry="1.7" transform="rotate(166 918.4 147.2)"/><ellipse cx="894.3" cy="208.0" rx="1.0" ry="1.5" transform="rotate(178 894.3 208.0)"/><ellipse cx="942.9" cy="147.7" rx="1.3" ry="1.7" transform="rotate(39 942.9 147.7)"/><ellipse cx="929.3" cy="151.8" rx="2.6" ry="4.5" transform="rotate(41 929.3 151.8)"/><ellipse cx="891.9" cy="115.8" rx="1.5" ry="1.6" transform="rotate(67 891.9 115.8)"/><ellipse cx="898.3" cy="139.4" rx="1.1" ry="1.5" transform="rotate(114 898.3 139.4)"/><ellipse cx="926.5" cy="122.1" rx="1.4" ry="1.7" transform="rotate(137 926.5 122.1)"/><ellipse cx="908.6" cy="113.0" rx="3.3" ry="3.7" transform="rotate(177 908.6 113.0)"/><ellipse cx="923.9" cy="136.4" rx="2.7" ry="4.3" transform="rotate(48 923.9 136.4)"/><ellipse cx="868.2" cy="178.9" rx="1.5" ry="2.4" transform="rotate(31 868.2 178.9)"/><ellipse cx="908.0" cy="127.2" rx="2.5" ry="4.0" transform="rotate(49 908.0 127.2)"/><ellipse cx="927.4" cy="130.6" rx="2.7" ry="3.4" transform="rotate(177 927.4 130.6)"/><ellipse cx="847.5" cy="148.4" rx="2.8" ry="3.5" transform="rotate(152 847.5 148.4)"/><ellipse cx="893.6" cy="181.6" rx="1.5" ry="2.7" transform="rotate(67 893.6 181.6)"/><ellipse cx="918.9" cy="195.9" rx="0.9" ry="1.3" transform="rotate(104 918.9 195.9)"/><ellipse cx="904.9" cy="191.9" rx="2.7" ry="4.6" transform="rotate(91 904.9 191.9)"/><ellipse cx="859.7" cy="151.9" rx="2.3" ry="3.7" transform="rotate(135 859.7 151.9)"/><ellipse cx="937.0" cy="140.8" rx="1.1" ry="1.7" transform="rotate(177 937.0 140.8)"/><ellipse cx="889.4" cy="142.5" rx="1.0" ry="1.3" transform="rotate(124 889.4 142.5)"/><ellipse cx="927.7" cy="169.5" rx="2.4" ry="3.5" transform="rotate(127 927.7 169.5)"/><ellipse cx="940.1" cy="179.4" rx="1.3" ry="1.7" transform="rotate(46 940.1 179.4)"/><ellipse cx="901.2" cy="126.6" rx="3.2" ry="4.2" transform="rotate(69 901.2 126.6)"/><ellipse cx="933.3" cy="127.9" rx="1.5" ry="2.1" transform="rotate(107 933.3 127.9)"/><ellipse cx="946.8" cy="167.7" rx="1.9" ry="2.5" transform="rotate(180 946.8 167.7)"/><ellipse cx="886.3" cy="190.5" rx="2.2" ry="3.1" transform="rotate(10 886.3 190.5)"/><ellipse cx="871.2" cy="186.9" rx="2.2" ry="3.1" transform="rotate(13 871.2 186.9)"/><ellipse cx="862.8" cy="160.2" rx="2.5" ry="3.3" transform="rotate(78 862.8 160.2)"/><ellipse cx="914.7" cy="159.7" rx="2.8" ry="3.7" transform="rotate(180 914.7 159.7)"/><ellipse cx="903.1" cy="204.0" rx="2.4" ry="4.2" transform="rotate(94 903.1 204.0)"/><ellipse cx="941.2" cy="134.3" rx="2.7" ry="4.2" transform="rotate(1 941.2 134.3)"/><ellipse cx="927.4" cy="179.2" rx="1.9" ry="3.1" transform="rotate(36 927.4 179.2)"/><ellipse cx="918.5" cy="183.0" rx="1.7" ry="2.3" transform="rotate(48 918.5 183.0)"/><ellipse cx="865.6" cy="118.2" rx="2.3" ry="3.8" transform="rotate(142 865.6 118.2)"/><ellipse cx="937.4" cy="150.4" rx="2.6" ry="3.6" transform="rotate(154 937.4 150.4)"/><ellipse cx="907.5" cy="207.3" rx="1.5" ry="1.8" transform="rotate(1 907.5 207.3)"/><ellipse cx="916.6" cy="191.3" rx="1.3" ry="1.9" transform="rotate(153 916.6 191.3)"/><ellipse cx="868.6" cy="191.2" rx="1.1" ry="1.4" transform="rotate(64 868.6 191.2)"/><ellipse cx="861.4" cy="128.6" rx="2.3" ry="3.0" transform="rotate(84 861.4 128.6)"/><ellipse cx="875.2" cy="149.2" rx="1.2" ry="1.7" transform="rotate(109 875.2 149.2)"/><ellipse cx="848.8" cy="142.6" rx="1.2" ry="1.5" transform="rotate(88 848.8 142.6)"/></g>
<g fill="none" stroke="#c2c2c2" stroke-width="0.9"><path d="M920.0,207.5 Q922.8,228.0 910.2,240.5"/><path d="M919.4,224.3 l0.7,1.8"/><path d="M915.5,233.7 l0.6,2.5"/><path d="M920.0,207.5 Q907.2,216.5 897.6,220.8"/><path d="M909.1,214.7 l-0.5,2.9"/><path d="M902.6,218.4 l-0.8,2.4"/><path d="M920.0,207.5 Q912.5,194.2 900.6,191.1"/><path d="M912.4,197.6 l-0.6,-2.7"/><path d="M906.3,193.3 l-0.4,-3.0"/><path d="M920.0,207.5 Q905.3,194.1 903.5,178.7"/><path d="M909.4,195.0 l-1.8,-0.6"/><path d="M905.2,186.2 l-2.6,-0.8"/><path d="M920.0,207.5 Q929.4,187.8 936.8,175.3"/><path d="M928.0,191.3 l2.0,-1.0"/><path d="M932.9,182.0 l-0.7,-2.1"/><path d="M920.0,207.5 Q939.4,209.3 951.2,198.4"/><path d="M936.0,206.5 l3.4,1.2"/><path d="M944.9,203.0 l1.2,-1.8"/><path d="M920.0,207.5 Q942.1,214.5 955.8,222.0"/><path d="M938.2,213.9 l2.6,-1.2"/><path d="M948.4,218.3 l1.3,2.1"/><path d="M920.0,207.5 Q935.0,223.5 931.6,242.2"/><path d="M929.8,222.4 l2.5,1.0"/><path d="M932.2,233.0 l2.3,2.0"/><ellipse cx="920.0" cy="210.2" rx="4.5" ry="2.9" transform="rotate(116 920.0 210.2)"/><circle cx="920.5" cy="203.4" r="2.5"/><ellipse cx="939.6" cy="167.2" rx="1.8" ry="2.7" transform="rotate(4 939.6 167.2)"/><ellipse cx="935.5" cy="234.9" rx="1.2" ry="2.1" transform="rotate(23 935.5 234.9)"/><ellipse cx="901.4" cy="222.7" rx="2.8" ry="4.3" transform="rotate(99 901.4 222.7)"/><ellipse cx="961.0" cy="196.4" rx="1.3" ry="1.8" transform="rotate(42 961.0 196.4)"/><ellipse cx="892.8" cy="190.4" rx="1.5" ry="2.4" transform="rotate(66 892.8 190.4)"/><ellipse cx="953.0" cy="197.5" rx="2.8" ry="4.0" transform="rotate(122 953.0 197.5)"/><ellipse cx="931.6" cy="199.0" rx="3.3" ry="4.6" transform="rotate(71 931.6 199.0)"/><ellipse cx="943.5" cy="225.4" rx="2.3" ry="3.1" transform="rotate(38 943.5 225.4)"/><ellipse cx="909.1" cy="224.7" rx="1.0" ry="1.4" transform="rotate(18 909.1 224.7)"/><ellipse cx="947.9" cy="212.0" rx="3.2" ry="3.8" transform="rotate(45 947.9 212.0)"/><ellipse cx="901.8" cy="228.4" rx="1.5" ry="2.3" transform="rotate(84 901.8 228.4)"/><ellipse cx="917.4" cy="235.0" rx="2.7" ry="3.5" transform="rotate(171 917.4 235.0)"/><ellipse cx="940.2" cy="234.1" rx="2.1" ry="3.4" transform="rotate(176 940.2 234.1)"/><ellipse cx="906.1" cy="167.9" rx="1.7" ry="2.2" transform="rotate(139 906.1 167.9)"/><ellipse cx="926.1" cy="174.5" rx="1.8" ry="3.0" transform="rotate(177 926.1 174.5)"/><ellipse cx="925.7" cy="246.1" rx="2.3" ry="2.7" transform="rotate(5 925.7 246.1)"/><ellipse cx="878.3" cy="221.8" rx="3.7" ry="5.3" transform="rotate(66 878.3 221.8)"/><ellipse cx="923.3" cy="230.2" rx="1.4" ry="2.3" transform="rotate(162 923.3 230.2)"/><ellipse cx="878.9" cy="212.8" rx="2.9" ry="3.2" transform="rotate(119 878.9 212.8)"/><ellipse cx="928.7" cy="165.4" rx="2.9" ry="3.6" transform="rotate(142 928.7 165.4)"/><ellipse cx="928.5" cy="181.7" rx="3.2" ry="4.5" transform="rotate(170 928.5 181.7)"/><ellipse cx="938.6" cy="241.4" rx="1.2" ry="2.2" transform="rotate(145 938.6 241.4)"/><ellipse cx="929.0" cy="190.2" rx="3.5" ry="4.4" transform="rotate(99 929.0 190.2)"/><ellipse cx="938.7" cy="209.2" rx="3.5" ry="4.7" transform="rotate(168 938.7 209.2)"/><ellipse cx="941.2" cy="185.4" rx="2.8" ry="3.9" transform="rotate(53 941.2 185.4)"/><ellipse cx="899.7" cy="195.2" rx="1.7" ry="2.1" transform="rotate(164 899.7 195.2)"/><ellipse cx="893.0" cy="214.8" rx="2.8" ry="3.4" transform="rotate(165 893.0 214.8)"/><ellipse cx="888.0" cy="201.0" rx="2.1" ry="3.3" transform="rotate(33 888.0 201.0)"/><ellipse cx="923.2" cy="197.6" rx="1.5" ry="2.3" transform="rotate(100 923.2 197.6)"/><ellipse cx="893.2" cy="204.4" rx="2.7" ry="2.9" transform="rotate(101 893.2 204.4)"/><ellipse cx="917.4" cy="251.2" rx="2.8" ry="3.9" transform="rotate(25 917.4 251.2)"/><ellipse cx="902.9" cy="214.0" rx="1.1" ry="1.4" transform="rotate(121 902.9 214.0)"/><ellipse cx="952.0" cy="183.3" rx="1.5" ry="2.2" transform="rotate(26 952.0 183.3)"/><ellipse cx="884.7" cy="233.7" rx="2.6" ry="3.6" transform="rotate(29 884.7 233.7)"/><ellipse cx="908.9" cy="203.6" rx="1.9" ry="2.9" transform="rotate(112 908.9 203.6)"/><ellipse cx="950.3" cy="220.5" rx="3.6" ry="5.5" transform="rotate(19 950.3 220.5)"/><ellipse cx="937.1" cy="225.6" rx="2.4" ry="3.4" transform="rotate(47 937.1 225.6)"/><ellipse cx="952.2" cy="227.8" rx="1.2" ry="1.6" transform="rotate(13 952.2 227.8)"/><ellipse cx="891.0" cy="174.9" rx="2.6" ry="4.7" transform="rotate(12 891.0 174.9)"/><ellipse cx="950.6" cy="192.3" rx="1.6" ry="2.5" transform="rotate(43 950.6 192.3)"/><ellipse cx="929.3" cy="222.5" rx="1.0" ry="1.5" transform="rotate(55 929.3 222.5)"/><ellipse cx="910.2" cy="245.8" rx="2.1" ry="3.1" transform="rotate(3 910.2 245.8)"/><ellipse cx="932.7" cy="239.1" rx="2.6" ry="2.7" transform="rotate(147 932.7 239.1)"/><ellipse cx="895.5" cy="244.8" rx="3.2" ry="4.5" transform="rotate(73 895.5 244.8)"/><ellipse cx="919.1" cy="192.1" rx="1.6" ry="2.1" transform="rotate(151 919.1 192.1)"/><ellipse cx="899.8" cy="170.5" rx="1.7" ry="2.3" transform="rotate(83 899.8 170.5)"/><ellipse cx="943.4" cy="202.4" rx="1.8" ry="2.1" transform="rotate(69 943.4 202.4)"/><ellipse cx="888.2" cy="206.9" rx="1.6" ry="1.8" transform="rotate(48 888.2 206.9)"/><ellipse cx="906.6" cy="217.3" rx="0.9" ry="1.4" transform="rotate(42 906.6 217.3)"/><ellipse cx="912.2" cy="171.4" rx="3.0" ry="4.1" transform="rotate(177 912.2 171.4)"/><ellipse cx="901.0" cy="204.6" rx="2.6" ry="3.6" transform="rotate(149 901.0 204.6)"/><ellipse cx="881.4" cy="192.6" rx="2.7" ry="3.9" transform="rotate(88 881.4 192.6)"/><ellipse cx="918.5" cy="223.1" rx="2.6" ry="4.3" transform="rotate(176 918.5 223.1)"/><ellipse cx="896.0" cy="229.3" rx="2.4" ry="3.5" transform="rotate(111 896.0 229.3)"/><ellipse cx="919.0" cy="183.2" rx="1.9" ry="2.1" transform="rotate(11 919.0 183.2)"/><ellipse cx="908.3" cy="185.6" rx="2.9" ry="3.6" transform="rotate(93 908.3 185.6)"/><ellipse cx="933.4" cy="248.0" rx="3.8" ry="3.9" transform="rotate(83 933.4 248.0)"/><ellipse cx="879.1" cy="205.2" rx="3.3" ry="4.0" transform="rotate(162 879.1 205.2)"/></g>
<g fill="none" stroke="#888" stroke-width="1.0"><path d="M947.5,135.0 L963.8,131.4"/><path d="M957.3,132.8 l2.2,-3.6"/><path d="M947.5,135.0 L954.8,142.5"/><path d="M951.9,139.5 l4.2,0.0"/><path d="M947.5,135.0 L942.1,151.1"/><path d="M944.3,144.7 l2.0,3.8"/><path d="M947.5,135.0 L937.1,135.8"/><path d="M941.3,135.5 l-3.2,-2.8"/><path d="M947.5,135.0 L940.3,123.5"/><path d="M943.2,128.1 l-4.2,-0.9"/><path d="M947.5,135.0 L957.1,126.4"/><path d="M953.3,129.8 l4.2,0.3"/></g>
<g fill="none" stroke="#c9c9c9" stroke-width="0.9"><path d="M1362.5,185.0 Q1340.4,183.4 1327.2,195.8"/><path d="M1344.4,186.4 l-2.2,2.9"/><path d="M1334.3,190.5 l-2.9,3.8"/><path d="M1362.5,185.0 Q1334.6,175.7 1323.6,155.2"/><path d="M1340.8,174.4 l-0.1,-3.5"/><path d="M1330.2,164.8 l-2.8,-0.2"/><path d="M1362.5,185.0 Q1358.1,153.5 1350.5,133.4"/><path d="M1357.9,159.0 l2.6,-3.9"/><path d="M1354.1,144.2 l1.0,-2.8"/><path d="M1362.5,185.0 Q1388.4,167.3 1396.2,145.0"/><path d="M1382.1,168.1 l0.1,-3.3"/><path d="M1391.2,155.9 l0.6,-4.6"/><path d="M1362.5,185.0 Q1383.3,181.6 1397.7,183.5"/><path d="M1379.9,183.0 l2.7,1.5"/><path d="M1390.1,182.9 l1.5,-2.0"/><path d="M1362.5,185.0 Q1374.1,204.7 1392.0,209.1"/><path d="M1374.2,199.6 l1.0,2.5"/><path d="M1383.5,206.0 l3.9,-0.1"/><path d="M1362.5,185.0 Q1376.3,203.3 1370.6,222.3"/><path d="M1370.9,201.6 l2.2,1.5"/><path d="M1372.2,212.8 l2.8,2.8"/><path d="M1362.5,185.0 Q1346.8,199.1 1337.7,210.0"/><path d="M1349.7,197.1 l0.1,4.3"/><path d="M1342.7,204.4 l-1.0,4.1"/><ellipse cx="1362.5" cy="188.7" rx="6.2" ry="4.0" transform="rotate(171 1362.5 188.7)"/><circle cx="1363.1" cy="179.4" r="3.4"/><ellipse cx="1337.6" cy="164.1" rx="1.2" ry="1.9" transform="rotate(106 1337.6 164.1)"/><ellipse cx="1409.5" cy="213.5" rx="2.5" ry="3.3" transform="rotate(81 1409.5 213.5)"/><ellipse cx="1403.1" cy="181.4" rx="2.5" ry="4.6" transform="rotate(59 1403.1 181.4)"/><ellipse cx="1372.1" cy="226.0" rx="2.5" ry="3.1" transform="rotate(113 1372.1 226.0)"/><ellipse cx="1367.6" cy="161.7" rx="1.3" ry="1.9" transform="rotate(90 1367.6 161.7)"/><ellipse cx="1363.1" cy="237.8" rx="3.3" ry="4.2" transform="rotate(174 1363.1 237.8)"/><ellipse cx="1334.1" cy="214.1" rx="3.5" ry="5.4" transform="rotate(31 1334.1 214.1)"/><ellipse cx="1359.3" cy="242.1" rx="1.5" ry="1.6" transform="rotate(170 1359.3 242.1)"/><ellipse cx="1314.2" cy="146.8" rx="1.0" ry="1.4" transform="rotate(70 1314.2 146.8)"/><ellipse cx="1410.7" cy="174.7" rx="2.1" ry="3.3" transform="rotate(25 1410.7 174.7)"/><ellipse cx="1341.3" cy="177.2" rx="2.8" ry="4.5" transform="rotate(127 1341.3 177.2)"/><ellipse cx="1322.0" cy="221.6" rx="3.4" ry="5.6" transform="rotate(139 1322.0 221.6)"/><ellipse cx="1304.2" cy="187.0" rx="1.3" ry="2.1" transform="rotate(31 1304.2 187.0)"/><ellipse cx="1394.1" cy="187.6" rx="1.8" ry="2.6" transform="rotate(70 1394.1 187.6)"/><ellipse cx="1334.0" cy="188.2" rx="3.9" ry="6.3" transform="rotate(5 1334.0 188.2)"/><ellipse cx="1409.9" cy="145.3" rx="2.9" ry="4.0" transform="rotate(164 1409.9 145.3)"/><ellipse cx="1349.5" cy="168.8" rx="2.7" ry="4.3" transform="rotate(130 1349.5 168.8)"/><ellipse cx="1355.1" cy="162.3" rx="2.6" ry="3.8" transform="rotate(10 1355.1 162.3)"/><ellipse cx="1376.8" cy="156.1" rx="3.4" ry="5.3" transform="rotate(6 1376.8 156.1)"/><ellipse cx="1325.6" cy="153.2" rx="3.1" ry="3.8" transform="rotate(34 1325.6 153.2)"/><ellipse cx="1383.0" cy="229.6" rx="1.3" ry="1.9" transform="rotate(96 1383.0 229.6)"/><ellipse cx="1365.2" cy="168.3" rx="2.5" ry="2.6" transform="rotate(172 1365.2 168.3)"/><ellipse cx="1407.2" cy="220.2" rx="2.1" ry="3.6" transform="rotate(35 1407.2 220.2)"/><ellipse cx="1386.8" cy="205.2" rx="1.8" ry="2.6" transform="rotate(67 1386.8 205.2)"/><ellipse cx="1309.8" cy="195.9" rx="2.7" ry="4.1" transform="rotate(43 1309.8 195.9)"/><ellipse cx="1329.1" cy="181.2" rx="1.8" ry="3.0" transform="rotate(4 1329.1 181.2)"/><ellipse cx="1392.0" cy="196.4" rx="2.0" ry="3.3" transform="rotate(176 1392.0 196.4)"/><ellipse cx="1407.6" cy="153.0" rx="4.2" ry="6.2" transform="rotate(174 1407.6 153.0)"/><ellipse cx="1352.9" cy="206.1" rx="2.1" ry="2.8" transform="rotate(62 1352.9 206.1)"/><ellipse cx="1318.2" cy="202.6" rx="1.8" ry="2.4" transform="rotate(31 1318.2 202.6)"/><ellipse cx="1395.6" cy="223.8" rx="2.9" ry="4.2" transform="rotate(109 1395.6 223.8)"/><ellipse cx="1332.5" cy="176.9" rx="2.0" ry="3.2" transform="rotate(85 1332.5 176.9)"/><ellipse cx="1336.6" cy="236.8" rx="3.6" ry="4.3" transform="rotate(129 1336.6 236.8)"/><ellipse cx="1375.9" cy="177.8" rx="1.2" ry="1.6" transform="rotate(17 1375.9 177.8)"/><ellipse cx="1419.1" cy="183.3" rx="3.0" ry="5.0" transform="rotate(91 1419.1 183.3)"/><ellipse cx="1347.8" cy="216.0" rx="2.2" ry="3.5" transform="rotate(156 1347.8 216.0)"/><ellipse cx="1410.1" cy="187.8" rx="2.8" ry="4.5" transform="rotate(156 1410.1 187.8)"/><ellipse cx="1383.8" cy="212.1" rx="2.7" ry="3.3" transform="rotate(60 1383.8 212.1)"/><ellipse cx="1331.4" cy="229.2" rx="3.0" ry="4.9" transform="rotate(5 1331.4 229.2)"/><ellipse cx="1367.8" cy="155.9" rx="2.8" ry="3.8" transform="rotate(38 1367.8 155.9)"/><ellipse cx="1400.6" cy="158.1" rx="1.8" ry="2.9" transform="rotate(76 1400.6 158.1)"/><ellipse cx="1309.5" cy="186.3" rx="1.5" ry="1.8" transform="rotate(83 1309.5 186.3)"/><ellipse cx="1420.5" cy="171.7" rx="1.4" ry="2.3" transform="rotate(138 1420.5 171.7)"/><ellipse cx="1386.3" cy="241.3" rx="3.2" ry="4.0" transform="rotate(121 1386.3 241.3)"/><ellipse cx="1312.3" cy="156.9" rx="2.0" ry="2.4" transform="rotate(23 1312.3 156.9)"/><ellipse cx="1397.4" cy="193.0" rx="2.7" ry="3.4" transform="rotate(174 1397.4 193.0)"/><ellipse cx="1371.1" cy="201.5" rx="1.7" ry="2.1" transform="rotate(120 1371.1 201.5)"/><ellipse cx="1322.4" cy="162.7" rx="3.9" ry="5.8" transform="rotate(27 1322.4 162.7)"/><ellipse cx="1401.0" cy="175.2" rx="2.3" ry="3.4" transform="rotate(33 1401.0 175.2)"/><ellipse cx="1324.8" cy="141.7" rx="1.7" ry="2.1" transform="rotate(46 1324.8 141.7)"/><ellipse cx="1345.1" cy="227.7" rx="3.3" ry="4.2" transform="rotate(84 1345.1 227.7)"/><ellipse cx="1337.2" cy="155.0" rx="2.5" ry="3.2" transform="rotate(5 1337.2 155.0)"/><ellipse cx="1375.9" cy="237.2" rx="1.1" ry="2.1" transform="rotate(128 1375.9 237.2)"/><ellipse cx="1326.3" cy="171.3" rx="2.9" ry="4.9" transform="rotate(128 1326.3 171.3)"/><ellipse cx="1418.7" cy="206.9" rx="2.9" ry="4.6" transform="rotate(66 1418.7 206.9)"/><ellipse cx="1338.6" cy="133.8" rx="1.8" ry="2.7" transform="rotate(12 1338.6 133.8)"/><ellipse cx="1311.8" cy="218.2" rx="3.5" ry="5.7" transform="rotate(144 1311.8 218.2)"/><ellipse cx="1317.8" cy="208.4" rx="1.2" ry="1.6" transform="rotate(170 1317.8 208.4)"/><ellipse cx="1373.4" cy="195.1" rx="2.7" ry="4.3" transform="rotate(69 1373.4 195.1)"/><ellipse cx="1396.4" cy="178.4" rx="2.0" ry="2.6" transform="rotate(119 1396.4 178.4)"/><ellipse cx="1363.1" cy="141.1" rx="2.9" ry="4.6" transform="rotate(139 1363.1 141.1)"/><ellipse cx="1399.8" cy="208.3" rx="2.7" ry="3.8" transform="rotate(13 1399.8 208.3)"/><ellipse cx="1405.6" cy="167.8" rx="2.5" ry="3.8" transform="rotate(126 1405.6 167.8)"/><ellipse cx="1384.0" cy="180.2" rx="3.5" ry="4.0" transform="rotate(1 1384.0 180.2)"/><ellipse cx="1304.5" cy="181.0" rx="2.6" ry="4.0" transform="rotate(67 1304.5 181.0)"/><ellipse cx="1391.4" cy="231.7" rx="4.2" ry="5.1" transform="rotate(86 1391.4 231.7)"/><ellipse cx="1344.5" cy="196.0" rx="2.8" ry="3.6" transform="rotate(8 1344.5 196.0)"/><ellipse cx="1349.1" cy="241.4" rx="2.5" ry="3.1" transform="rotate(132 1349.1 241.4)"/><ellipse cx="1339.4" cy="209.0" rx="2.1" ry="3.2" transform="rotate(134 1339.4 209.0)"/><ellipse cx="1319.1" cy="174.6" rx="2.6" ry="3.2" transform="rotate(44 1319.1 174.6)"/><ellipse cx="1384.0" cy="233.8" rx="1.2" ry="1.4" transform="rotate(90 1384.0 233.8)"/><ellipse cx="1380.0" cy="139.4" rx="2.5" ry="3.8" transform="rotate(24 1380.0 139.4)"/><ellipse cx="1414.3" cy="215.2" rx="1.4" ry="2.0" transform="rotate(66 1414.3 215.2)"/><ellipse cx="1320.3" cy="142.2" rx="2.1" ry="2.5" transform="rotate(11 1320.3 142.2)"/><ellipse cx="1403.1" cy="224.3" rx="1.8" ry="3.2" transform="rotate(123 1403.1 224.3)"/><ellipse cx="1314.5" cy="191.4" rx="2.3" ry="3.7" transform="rotate(27 1314.5 191.4)"/><ellipse cx="1359.7" cy="228.9" rx="2.6" ry="3.4" transform="rotate(116 1359.7 228.9)"/><ellipse cx="1361.1" cy="126.8" rx="3.1" ry="4.6" transform="rotate(50 1361.1 126.8)"/><ellipse cx="1347.8" cy="209.0" rx="1.1" ry="1.4" transform="rotate(2 1347.8 209.0)"/><ellipse cx="1349.3" cy="129.1" rx="1.4" ry="1.7" transform="rotate(145 1349.3 129.1)"/></g>
<g fill="none" stroke="#c9c9c9" stroke-width="0.9"><path d="M1445.0,277.0 Q1419.4,273.9 1405.6,259.8"/><path d="M1424.4,272.0 l-1.2,-3.6"/><path d="M1413.3,266.1 l-3.4,0.3"/><path d="M1445.0,277.0 Q1436.0,248.3 1418.9,234.2"/><path d="M1435.3,254.1 l-0.1,-4.3"/><path d="M1426.9,242.2 l0.3,-3.0"/><path d="M1445.0,277.0 Q1461.1,258.7 1465.8,242.1"/><path d="M1457.2,260.9 l3.6,-1.9"/><path d="M1462.7,250.5 l-1.3,-3.5"/><path d="M1445.0,277.0 Q1456.5,261.6 1472.0,259.9"/><path d="M1456.1,265.9 l4.1,0.6"/><path d="M1464.5,261.6 l1.3,-3.3"/><path d="M1445.0,277.0 Q1462.4,286.6 1475.3,290.4"/><path d="M1459.8,284.4 l4.2,-1.9"/><path d="M1468.6,288.1 l3.5,-0.3"/><path d="M1445.0,277.0 Q1448.8,303.4 1452.9,320.8"/><path d="M1448.5,298.9 l2.4,2.7"/><path d="M1450.9,311.5 l-1.7,2.1"/><path d="M1445.0,277.0 Q1428.7,299.8 1415.6,313.3"/><path d="M1431.0,295.6 l0.7,3.3"/><path d="M1422.3,306.0 l-3.8,0.8"/><path d="M1445.0,277.0 Q1420.1,280.8 1408.5,297.6"/><path d="M1425.3,283.0 l-2.7,-0.5"/><path d="M1415.2,290.0 l-0.8,3.3"/><ellipse cx="1445.0" cy="280.5" rx="5.8" ry="3.8" transform="rotate(63 1445.0 280.5)"/><circle cx="1445.6" cy="271.8" r="3.2"/><ellipse cx="1484.4" cy="278.2" rx="3.0" ry="4.2" transform="rotate(14 1484.4 278.2)"/><ellipse cx="1410.3" cy="257.1" rx="2.6" ry="3.5" transform="rotate(43 1410.3 257.1)"/><ellipse cx="1481.4" cy="254.1" rx="2.8" ry="3.2" transform="rotate(88 1481.4 254.1)"/><ellipse cx="1412.0" cy="300.6" rx="2.5" ry="3.5" transform="rotate(88 1412.0 300.6)"/><ellipse cx="1420.4" cy="286.5" rx="3.7" ry="4.4" transform="rotate(1 1420.4 286.5)"/><ellipse cx="1486.2" cy="290.5" rx="1.3" ry="2.0" transform="rotate(179 1486.2 290.5)"/><ellipse cx="1404.9" cy="287.7" rx="2.5" ry="3.4" transform="rotate(131 1404.9 287.7)"/><ellipse cx="1427.3" cy="224.8" rx="2.5" ry="3.9" transform="rotate(28 1427.3 224.8)"/><ellipse cx="1422.7" cy="256.3" rx="3.2" ry="4.5" transform="rotate(149 1422.7 256.3)"/><ellipse cx="1459.6" cy="238.5" rx="3.7" ry="6.0" transform="rotate(129 1459.6 238.5)"/><ellipse cx="1497.5" cy="292.7" rx="3.9" ry="6.0" transform="rotate(177 1497.5 292.7)"/><ellipse cx="1429.2" cy="248.2" rx="1.7" ry="2.6" transform="rotate(35 1429.2 248.2)"/><ellipse cx="1476.5" cy="294.2" rx="1.6" ry="2.1" transform="rotate(180 1476.5 294.2)"/><ellipse cx="1391.6" cy="289.4" rx="3.4" ry="4.6" transform="rotate(76 1391.6 289.4)"/><ellipse cx="1400.0" cy="260.6" rx="1.9" ry="2.9" transform="rotate(113 1400.0 260.6)"/><ellipse cx="1413.7" cy="232.6" rx="1.3" ry="1.6" transform="rotate(10 1413.7 232.6)"/><ellipse cx="1435.5" cy="322.7" rx="3.1" ry="4.4" transform="rotate(47 1435.5 322.7)"/><ellipse cx="1423.4" cy="310.4" rx="3.2" ry="4.4" transform="rotate(86 1423.4 310.4)"/><ellipse cx="1429.7" cy="238.7" rx="3.5" ry="4.3" transform="rotate(143 1429.7 238.7)"/><ellipse cx="1502.0" cy="274.3" rx="2.8" ry="5.0" transform="rotate(151 1502.0 274.3)"/><ellipse cx="1438.0" cy="290.1" rx="2.3" ry="3.2" transform="rotate(51 1438.0 290.1)"/><ellipse cx="1458.5" cy="301.1" rx="1.6" ry="2.4" transform="rotate(40 1458.5 301.1)"/><ellipse cx="1493.1" cy="261.7" rx="1.8" ry="2.4" transform="rotate(175 1493.1 261.7)"/><ellipse cx="1499.0" cy="282.5" rx="2.0" ry="2.6" transform="rotate(94 1499.0 282.5)"/><ellipse cx="1449.6" cy="224.7" rx="3.6" ry="4.4" transform="rotate(125 1449.6 224.7)"/><ellipse cx="1428.4" cy="269.8" rx="3.4" ry="5.1" transform="rotate(31 1428.4 269.8)"/><ellipse cx="1494.6" cy="272.6" rx="1.9" ry="2.7" transform="rotate(62 1494.6 272.6)"/><ellipse cx="1467.6" cy="309.2" rx="3.4" ry="5.4" transform="rotate(103 1467.6 309.2)"/><ellipse cx="1460.5" cy="221.8" rx="2.2" ry="2.7" transform="rotate(9 1460.5 221.8)"/><ellipse cx="1477.4" cy="266.4" rx="1.2" ry="1.9" transform="rotate(65 1477.4 266.4)"/><ellipse cx="1471.1" cy="268.0" rx="1.3" ry="1.7" transform="rotate(62 1471.1 268.0)"/><ellipse cx="1470.3" cy="325.3" rx="3.7" ry="4.9" transform="rotate(92 1470.3 325.3)"/><ellipse cx="1402.3" cy="311.5" rx="1.6" ry="1.7" transform="rotate(19 1402.3 311.5)"/><ellipse cx="1426.4" cy="323.2" rx="2.2" ry="3.3" transform="rotate(62 1426.4 323.2)"/><ellipse cx="1404.6" cy="239.2" rx="2.9" ry="3.4" transform="rotate(28 1404.6 239.2)"/><ellipse cx="1428.2" cy="231.7" rx="1.5" ry="2.0" transform="rotate(104 1428.2 231.7)"/><ellipse cx="1452.6" cy="314.2" rx="2.6" ry="2.8" transform="rotate(155 1452.6 314.2)"/><ellipse cx="1483.5" cy="296.6" rx="2.9" ry="5.4" transform="rotate(61 1483.5 296.6)"/><ellipse cx="1437.0" cy="221.9" rx="2.3" ry="3.7" transform="rotate(31 1437.0 221.9)"/><ellipse cx="1438.0" cy="304.9" rx="3.2" ry="4.4" transform="rotate(111 1438.0 304.9)"/><ellipse cx="1405.6" cy="299.1" rx="2.4" ry="3.2" transform="rotate(5 1405.6 299.1)"/><ellipse cx="1447.4" cy="258.6" rx="3.4" ry="5.1" transform="rotate(3 1447.4 258.6)"/><ellipse cx="1424.2" cy="243.5" rx="3.3" ry="4.2" transform="rotate(9 1424.2 243.5)"/><ellipse cx="1412.5" cy="314.1" rx="1.3" ry="1.7" transform="rotate(83 1412.5 314.1)"/><ellipse cx="1467.6" cy="289.2" rx="2.4" ry="3.2" transform="rotate(22 1467.6 289.2)"/><ellipse cx="1415.4" cy="243.3" rx="3.2" ry="4.6" transform="rotate(128 1415.4 243.3)"/><ellipse cx="1408.7" cy="247.4" rx="3.0" ry="3.8" transform="rotate(55 1408.7 247.4)"/><ellipse cx="1464.9" cy="250.0" rx="1.8" ry="2.0" transform="rotate(110 1464.9 250.0)"/><ellipse cx="1417.8" cy="320.6" rx="2.8" ry="4.3" transform="rotate(70 1417.8 320.6)"/><ellipse cx="1438.8" cy="317.4" rx="1.8" ry="2.7" transform="rotate(101 1438.8 317.4)"/><ellipse cx="1391.8" cy="257.3" rx="1.7" ry="2.1" transform="rotate(169 1391.8 257.3)"/><ellipse cx="1388.4" cy="269.2" rx="2.5" ry="3.6" transform="rotate(164 1388.4 269.2)"/><ellipse cx="1479.6" cy="312.7" rx="4.3" ry="5.2" transform="rotate(119 1479.6 312.7)"/><ellipse cx="1491.1" cy="250.4" rx="2.8" ry="3.8" transform="rotate(66 1491.1 250.4)"/><ellipse cx="1429.8" cy="314.4" rx="3.5" ry="4.4" transform="rotate(126 1429.8 314.4)"/><ellipse cx="1425.9" cy="294.4" rx="3.6" ry="5.3" transform="rotate(147 1425.9 294.4)"/><ellipse cx="1444.8" cy="233.7" rx="3.6" ry="4.2" transform="rotate(118 1444.8 233.7)"/><ellipse cx="1469.6" cy="245.0" rx="1.6" ry="2.3" transform="rotate(31 1469.6 245.0)"/><ellipse cx="1493.8" cy="301.3" rx="2.0" ry="2.7" transform="rotate(149 1493.8 301.3)"/><ellipse cx="1464.7" cy="269.8" rx="3.6" ry="5.1" transform="rotate(71 1464.7 269.8)"/><ellipse cx="1460.6" cy="276.8" rx="3.2" ry="4.5" transform="rotate(54 1460.6 276.8)"/><ellipse cx="1399.6" cy="291.5" rx="1.9" ry="2.6" transform="rotate(54 1399.6 291.5)"/><ellipse cx="1453.4" cy="291.2" rx="3.6" ry="5.9" transform="rotate(5 1453.4 291.2)"/><ellipse cx="1438.6" cy="263.5" rx="2.4" ry="3.4" transform="rotate(122 1438.6 263.5)"/><ellipse cx="1462.8" cy="303.1" rx="1.3" ry="1.8" transform="rotate(43 1462.8 303.1)"/><ellipse cx="1486.8" cy="268.9" rx="2.8" ry="3.4" transform="rotate(99 1486.8 268.9)"/><ellipse cx="1476.2" cy="288.6" rx="2.8" ry="3.5" transform="rotate(131 1476.2 288.6)"/><ellipse cx="1395.5" cy="247.5" rx="2.8" ry="4.9" transform="rotate(29 1395.5 247.5)"/><ellipse cx="1460.2" cy="326.6" rx="4.1" ry="5.2" transform="rotate(158 1460.2 326.6)"/><ellipse cx="1467.9" cy="318.4" rx="2.5" ry="3.0" transform="rotate(76 1467.9 318.4)"/><ellipse cx="1469.9" cy="234.6" rx="2.8" ry="4.0" transform="rotate(145 1469.9 234.6)"/><ellipse cx="1395.5" cy="269.8" rx="3.1" ry="5.1" transform="rotate(115 1395.5 269.8)"/><ellipse cx="1453.7" cy="251.4" rx="1.9" ry="2.7" transform="rotate(76 1453.7 251.4)"/><ellipse cx="1474.5" cy="304.1" rx="2.5" ry="2.8" transform="rotate(107 1474.5 304.1)"/><ellipse cx="1407.1" cy="282.9" rx="1.2" ry="2.0" transform="rotate(48 1407.1 282.9)"/></g>
<g fill="none" stroke="#a9b06a" stroke-width="0.9"><path d="M1522.5,232.5 Q1499.0,239.9 1482.9,243.4"/><path d="M1502.9,238.4 l-1.9,2.2"/><path d="M1491.4,241.4 l-1.7,1.8"/><path d="M1522.5,232.5 Q1501.6,221.7 1484.8,221.6"/><path d="M1504.5,225.0 l-2.4,1.2"/><path d="M1493.5,222.3 l-1.6,-2.7"/><path d="M1522.5,232.5 Q1515.7,218.1 1510.4,208.8"/><path d="M1516.7,220.5 l-3.0,-2.0"/><path d="M1513.1,213.7 l-2.4,-0.7"/><path d="M1522.5,232.5 Q1527.1,215.4 1537.5,207.1"/><path d="M1527.8,218.9 l3.0,-1.1"/><path d="M1532.7,211.8 l2.6,-0.7"/><path d="M1522.5,232.5 Q1541.5,216.8 1562.1,221.4"/><path d="M1539.9,222.5 l2.2,0.8"/><path d="M1551.9,220.3 l2.9,0.7"/><path d="M1522.5,232.5 Q1539.3,233.9 1549.4,240.5"/><path d="M1536.3,234.8 l2.9,-2.0"/><path d="M1544.0,237.5 l3.5,-1.1"/><path d="M1522.5,232.5 Q1528.5,251.0 1538.7,260.5"/><path d="M1528.7,247.3 l-0.0,3.1"/><path d="M1533.8,255.2 l-0.3,2.5"/><path d="M1522.5,232.5 Q1510.3,248.0 1514.6,264.4"/><path d="M1514.9,246.6 l0.7,2.0"/><path d="M1513.5,256.3 l1.2,2.6"/><ellipse cx="1522.5" cy="235.4" rx="4.8" ry="3.1" transform="rotate(123 1522.5 235.4)"/><circle cx="1523.0" cy="228.2" r="2.6"/><ellipse cx="1499.6" cy="231.2" rx="3.7" ry="4.7" transform="rotate(69 1499.6 231.2)"/><ellipse cx="1553.7" cy="230.5" rx="1.0" ry="1.5" transform="rotate(107 1553.7 230.5)"/><ellipse cx="1570.1" cy="238.4" rx="1.8" ry="2.3" transform="rotate(104 1570.1 238.4)"/><ellipse cx="1531.2" cy="244.0" rx="1.9" ry="3.3" transform="rotate(149 1531.2 244.0)"/><ellipse cx="1550.2" cy="246.4" rx="1.7" ry="1.9" transform="rotate(66 1550.2 246.4)"/><ellipse cx="1549.3" cy="260.1" rx="2.9" ry="3.2" transform="rotate(69 1549.3 260.1)"/><ellipse cx="1508.1" cy="268.3" rx="1.8" ry="2.6" transform="rotate(29 1508.1 268.3)"/><ellipse cx="1486.1" cy="219.7" rx="2.7" ry="3.9" transform="rotate(14 1486.1 219.7)"/><ellipse cx="1520.8" cy="206.6" rx="2.1" ry="3.4" transform="rotate(88 1520.8 206.6)"/><ellipse cx="1554.5" cy="217.3" rx="3.1" ry="4.8" transform="rotate(118 1554.5 217.3)"/><ellipse cx="1556.7" cy="249.7" rx="1.9" ry="2.6" transform="rotate(12 1556.7 249.7)"/><ellipse cx="1522.7" cy="264.4" rx="1.1" ry="1.6" transform="rotate(175 1522.7 264.4)"/><ellipse cx="1483.0" cy="207.5" rx="3.3" ry="4.4" transform="rotate(56 1483.0 207.5)"/><ellipse cx="1511.3" cy="224.5" rx="1.1" ry="1.6" transform="rotate(25 1511.3 224.5)"/><ellipse cx="1506.7" cy="237.3" rx="1.8" ry="3.4" transform="rotate(133 1506.7 237.3)"/><ellipse cx="1541.9" cy="227.9" rx="1.8" ry="2.8" transform="rotate(14 1541.9 227.9)"/><ellipse cx="1564.4" cy="217.2" rx="1.1" ry="1.2" transform="rotate(119 1564.4 217.2)"/><ellipse cx="1553.1" cy="234.9" rx="1.1" ry="1.5" transform="rotate(46 1553.1 234.9)"/><ellipse cx="1507.0" cy="260.6" rx="3.6" ry="4.6" transform="rotate(83 1507.0 260.6)"/><ellipse cx="1486.7" cy="228.3" rx="2.3" ry="2.9" transform="rotate(4 1486.7 228.3)"/><ellipse cx="1558.2" cy="263.1" rx="3.2" ry="4.2" transform="rotate(161 1558.2 263.1)"/><ellipse cx="1541.4" cy="256.3" rx="2.7" ry="4.1" transform="rotate(62 1541.4 256.3)"/><ellipse cx="1476.1" cy="233.0" rx="1.7" ry="2.2" transform="rotate(114 1476.1 233.0)"/><ellipse cx="1523.8" cy="189.2" rx="1.5" ry="2.1" transform="rotate(166 1523.8 189.2)"/><ellipse cx="1538.4" cy="250.4" rx="2.3" ry="2.4" transform="rotate(12 1538.4 250.4)"/><ellipse cx="1543.2" cy="189.7" rx="1.4" ry="2.2" transform="rotate(150 1543.2 189.7)"/><ellipse cx="1544.9" cy="198.1" rx="2.6" ry="4.2" transform="rotate(50 1544.9 198.1)"/><ellipse cx="1505.9" cy="198.3" rx="1.8" ry="2.7" transform="rotate(102 1505.9 198.3)"/><ellipse cx="1490.2" cy="254.4" rx="1.7" ry="2.1" transform="rotate(140 1490.2 254.4)"/><ellipse cx="1565.4" cy="228.2" rx="1.2" ry="2.0" transform="rotate(115 1565.4 228.2)"/><ellipse cx="1520.8" cy="276.3" rx="3.1" ry="4.1" transform="rotate(7 1520.8 276.3)"/><ellipse cx="1526.9" cy="208.2" rx="2.8" ry="3.5" transform="rotate(179 1526.9 208.2)"/><ellipse cx="1535.0" cy="215.0" rx="2.6" ry="3.9" transform="rotate(161 1535.0 215.0)"/><ellipse cx="1492.9" cy="242.0" rx="1.8" ry="1.9" transform="rotate(99 1492.9 242.0)"/><ellipse cx="1565.7" cy="212.9" rx="1.9" ry="2.1" transform="rotate(91 1565.7 212.9)"/><ellipse cx="1514.8" cy="244.2" rx="2.1" ry="3.6" transform="rotate(39 1514.8 244.2)"/><ellipse cx="1482.0" cy="251.9" rx="1.1" ry="1.7" transform="rotate(165 1482.0 251.9)"/><ellipse cx="1481.8" cy="215.9" rx="1.5" ry="2.5" transform="rotate(46 1481.8 215.9)"/><ellipse cx="1517.3" cy="268.3" rx="2.3" ry="2.9" transform="rotate(1 1517.3 268.3)"/><ellipse cx="1492.7" cy="225.2" rx="1.3" ry="1.6" transform="rotate(178 1492.7 225.2)"/><ellipse cx="1538.8" cy="243.3" rx="1.7" ry="2.1" transform="rotate(166 1538.8 243.3)"/><ellipse cx="1506.1" cy="241.6" rx="1.0" ry="1.6" transform="rotate(176 1506.1 241.6)"/><ellipse cx="1490.7" cy="201.3" rx="3.1" ry="4.6" transform="rotate(4 1490.7 201.3)"/><ellipse cx="1546.1" cy="205.4" rx="2.3" ry="3.1" transform="rotate(98 1546.1 205.4)"/><ellipse cx="1500.3" cy="264.1" rx="1.6" ry="2.5" transform="rotate(35 1500.3 264.1)"/><ellipse cx="1537.1" cy="272.6" rx="1.5" ry="1.6" transform="rotate(16 1537.1 272.6)"/><ellipse cx="1512.4" cy="197.8" rx="1.7" ry="2.5" transform="rotate(17 1512.4 197.8)"/><ellipse cx="1514.0" cy="203.6" rx="2.6" ry="4.5" transform="rotate(150 1514.0 203.6)"/><ellipse cx="1479.5" cy="237.4" rx="1.1" ry="1.5" transform="rotate(163 1479.5 237.4)"/><ellipse cx="1535.2" cy="264.3" rx="1.3" ry="1.7" transform="rotate(51 1535.2 264.3)"/><ellipse cx="1487.6" cy="213.4" rx="1.5" ry="1.7" transform="rotate(17 1487.6 213.4)"/><ellipse cx="1494.6" cy="246.4" rx="1.9" ry="2.7" transform="rotate(114 1494.6 246.4)"/><ellipse cx="1501.9" cy="254.4" rx="3.4" ry="4.0" transform="rotate(143 1501.9 254.4)"/><ellipse cx="1560.4" cy="208.0" rx="3.4" ry="4.2" transform="rotate(105 1560.4 208.0)"/><ellipse cx="1524.8" cy="203.2" rx="1.7" ry="2.8" transform="rotate(29 1524.8 203.2)"/><ellipse cx="1528.6" cy="254.3" rx="1.7" ry="2.1" transform="rotate(18 1528.6 254.3)"/><ellipse cx="1528.4" cy="259.6" rx="2.0" ry="2.6" transform="rotate(93 1528.4 259.6)"/><ellipse cx="1530.4" cy="266.3" rx="1.4" ry="2.0" transform="rotate(21 1530.4 266.3)"/><ellipse cx="1524.0" cy="251.2" rx="2.3" ry="3.5" transform="rotate(117 1524.0 251.2)"/><ellipse cx="1521.9" cy="244.3" rx="1.8" ry="2.6" transform="rotate(75 1521.9 244.3)"/><ellipse cx="1502.2" cy="206.5" rx="2.6" ry="4.1" transform="rotate(70 1502.2 206.5)"/><ellipse cx="1487.4" cy="263.1" rx="3.8" ry="4.9" transform="rotate(107 1487.4 263.1)"/><ellipse cx="1490.0" cy="233.6" rx="1.8" ry="2.4" transform="rotate(95 1490.0 233.6)"/><ellipse cx="1521.9" cy="192.9" rx="1.2" ry="1.5" transform="rotate(114 1521.9 192.9)"/><ellipse cx="1562.9" cy="244.3" rx="1.4" ry="2.1" transform="rotate(26 1562.9 244.3)"/><ellipse cx="1494.7" cy="267.5" rx="1.4" ry="1.8" transform="rotate(75 1494.7 267.5)"/><ellipse cx="1517.4" cy="252.2" rx="1.4" ry="2.0" transform="rotate(56 1517.4 252.2)"/><ellipse cx="1513.0" cy="211.2" rx="2.3" ry="3.4" transform="rotate(5 1513.0 211.2)"/><ellipse cx="1547.4" cy="229.6" rx="2.3" ry="3.1" transform="rotate(89 1547.4 229.6)"/><ellipse cx="1537.0" cy="202.8" rx="3.4" ry="4.3" transform="rotate(135 1537.0 202.8)"/><ellipse cx="1566.2" cy="235.1" rx="2.2" ry="2.8" transform="rotate(125 1566.2 235.1)"/><ellipse cx="1525.6" cy="198.0" rx="2.2" ry="2.5" transform="rotate(118 1525.6 198.0)"/><ellipse cx="1546.5" cy="216.5" rx="1.9" ry="2.9" transform="rotate(162 1546.5 216.5)"/><ellipse cx="1476.3" cy="244.9" rx="1.9" ry="2.6" transform="rotate(93 1476.3 244.9)"/><ellipse cx="1504.6" cy="221.0" rx="1.4" ry="2.2" transform="rotate(154 1504.6 221.0)"/><ellipse cx="1530.3" cy="275.3" rx="1.1" ry="1.5" transform="rotate(4 1530.3 275.3)"/><ellipse cx="1543.6" cy="248.9" rx="1.7" ry="2.9" transform="rotate(18 1543.6 248.9)"/><ellipse cx="1523.2" cy="217.8" rx="3.3" ry="4.0" transform="rotate(68 1523.2 217.8)"/><ellipse cx="1518.4" cy="198.9" rx="1.7" ry="3.1" transform="rotate(164 1518.4 198.9)"/><ellipse cx="1506.0" cy="272.4" rx="1.6" ry="2.4" transform="rotate(108 1506.0 272.4)"/><ellipse cx="1558.0" cy="255.8" rx="3.1" ry="4.0" transform="rotate(24 1558.0 255.8)"/><ellipse cx="1532.5" cy="191.1" rx="1.3" ry="1.9" transform="rotate(157 1532.5 191.1)"/><ellipse cx="1549.8" cy="269.6" rx="1.4" ry="2.1" transform="rotate(95 1549.8 269.6)"/><ellipse cx="1506.8" cy="189.9" rx="1.4" ry="1.8" transform="rotate(91 1506.8 189.9)"/><ellipse cx="1568.1" cy="222.0" rx="1.9" ry="2.8" transform="rotate(180 1568.1 222.0)"/></g>
<g fill="none" stroke="#888" stroke-width="1.0"><path d="M1572.0,187.0 L1586.7,186.7"/><path d="M1580.8,186.8 l3.0,3.0"/><path d="M1572.0,187.0 L1579.4,194.1"/><path d="M1576.5,191.3 l0.0,4.2"/><path d="M1572.0,187.0 L1564.9,199.7"/><path d="M1567.7,194.6 l-4.1,1.1"/><path d="M1572.0,187.0 L1557.9,184.8"/><path d="M1563.5,185.7 l-3.4,2.6"/><path d="M1572.0,187.0 L1567.7,176.7"/><path d="M1569.4,180.8 l1.7,-3.9"/><path d="M1572.0,187.0 L1577.1,175.6"/><path d="M1575.0,180.1 l-1.6,-3.9"/></g>
<g fill="none" stroke="#888" stroke-width="1.0"><path d="M1590.0,232.0 L1602.9,229.5"/><path d="M1597.7,230.5 l2.0,-3.1"/><path d="M1590.0,232.0 L1595.1,244.0"/><path d="M1593.1,239.2 l3.5,1.4"/><path d="M1590.0,232.0 L1584.0,240.1"/><path d="M1586.4,236.9 l0.6,3.7"/><path d="M1590.0,232.0 L1579.7,231.7"/><path d="M1583.8,231.8 l-2.5,-2.8"/><path d="M1590.0,232.0 L1582.4,225.9"/><path d="M1585.4,228.4 l-3.7,0.5"/><path d="M1590.0,232.0 L1601.1,223.5"/><path d="M1596.7,226.9 l0.4,-3.7"/></g>
<g fill="none" stroke="#8e8e8e" stroke-width="1.0"><path d="M662.0,434.0 Q674.1,466.3 703.1,474.1"/><path d="M676.3,458.1 l0.0,3.9"/><path d="M689.6,468.6 l3.9,0.0"/><path d="M662.0,434.0 Q654.3,463.6 663.1,485.1"/><path d="M658.4,459.0 l3.3,4.5"/><path d="M659.7,473.8 l-2.2,3.1"/><path d="M662.0,434.0 Q646.4,464.4 620.3,472.7"/><path d="M645.9,456.9 l-4.9,0.9"/><path d="M632.7,467.1 l-0.3,3.1"/><path d="M662.0,434.0 Q626.8,446.7 601.2,448.0"/><path d="M632.3,443.1 l-2.7,-1.9"/><path d="M614.6,446.7 l-2.8,4.0"/><path d="M662.0,434.0 Q637.2,405.7 610.4,398.4"/><path d="M639.3,412.8 l-0.9,-3.5"/><path d="M623.7,403.4 l-1.0,-4.3"/><path d="M662.0,434.0 Q645.8,410.5 651.5,387.6"/><path d="M651.9,413.0 l-2.5,-2.3"/><path d="M650.0,399.1 l-2.8,-1.7"/><path d="M662.0,434.0 Q678.1,413.4 689.5,400.2"/><path d="M675.6,417.0 l-0.1,-4.4"/><path d="M683.5,407.3 l4.2,-0.9"/><path d="M662.0,434.0 Q690.5,432.4 709.5,436.3"/><path d="M685.7,433.7 l3.6,4.5"/><path d="M699.4,434.7 l3.5,-2.8"/><ellipse cx="662.0" cy="438.5" rx="7.5" ry="4.9" transform="rotate(48 662.0 438.5)"/><circle cx="662.8" cy="427.2" r="4.1"/><ellipse cx="685.4" cy="388.3" rx="3.1" ry="3.1" transform="rotate(128 685.4 388.3)"/><ellipse cx="615.4" cy="442.6" rx="2.6" ry="3.0" transform="rotate(101 615.4 442.6)"/><ellipse cx="717.7" cy="472.0" rx="1.5" ry="1.9" transform="rotate(0 717.7 472.0)"/><ellipse cx="607.8" cy="426.6" rx="4.4" ry="4.6" transform="rotate(172 607.8 426.6)"/><ellipse cx="728.5" cy="434.7" rx="2.2" ry="2.7" transform="rotate(37 728.5 434.7)"/><ellipse cx="631.2" cy="488.4" rx="4.0" ry="4.2" transform="rotate(166 631.2 488.4)"/><ellipse cx="677.1" cy="370.6" rx="2.0" ry="2.4" transform="rotate(88 677.1 370.6)"/><ellipse cx="631.6" cy="459.8" rx="3.5" ry="4.4" transform="rotate(171 631.6 459.8)"/><ellipse cx="648.8" cy="417.4" rx="3.0" ry="3.3" transform="rotate(145 648.8 417.4)"/><ellipse cx="691.4" cy="444.5" rx="3.8" ry="5.8" transform="rotate(23 691.4 444.5)"/><ellipse cx="729.6" cy="456.3" rx="1.8" ry="2.4" transform="rotate(75 729.6 456.3)"/><ellipse cx="705.5" cy="461.7" rx="3.5" ry="4.5" transform="rotate(163 705.5 461.7)"/><ellipse cx="709.4" cy="376.8" rx="4.5" ry="5.7" transform="rotate(148 709.4 376.8)"/><ellipse cx="605.9" cy="404.1" rx="3.3" ry="3.8" transform="rotate(14 605.9 404.1)"/><ellipse cx="709.2" cy="432.4" rx="3.6" ry="5.3" transform="rotate(166 709.2 432.4)"/><ellipse cx="675.6" cy="412.5" rx="1.5" ry="2.6" transform="rotate(31 675.6 412.5)"/><ellipse cx="654.5" cy="419.0" rx="1.6" ry="2.3" transform="rotate(27 654.5 419.0)"/><ellipse cx="592.6" cy="447.8" rx="4.3" ry="4.6" transform="rotate(15 592.6 447.8)"/><ellipse cx="653.7" cy="474.8" rx="3.3" ry="4.7" transform="rotate(143 653.7 474.8)"/><ellipse cx="683.2" cy="454.7" rx="2.5" ry="4.0" transform="rotate(60 683.2 454.7)"/><ellipse cx="637.3" cy="495.5" rx="2.2" ry="3.4" transform="rotate(5 637.3 495.5)"/><ellipse cx="623.2" cy="405.2" rx="2.4" ry="3.7" transform="rotate(175 623.2 405.2)"/><ellipse cx="614.3" cy="480.7" rx="3.4" ry="5.7" transform="rotate(175 614.3 480.7)"/><ellipse cx="692.9" cy="375.8" rx="2.2" ry="2.4" transform="rotate(142 692.9 375.8)"/><ellipse cx="634.7" cy="389.8" rx="1.3" ry="2.3" transform="rotate(109 634.7 389.8)"/><ellipse cx="726.9" cy="463.7" rx="1.7" ry="2.4" transform="rotate(83 726.9 463.7)"/><ellipse cx="690.8" cy="457.0" rx="2.4" ry="3.9" transform="rotate(60 690.8 457.0)"/><ellipse cx="717.6" cy="427.0" rx="1.5" ry="2.0" transform="rotate(162 717.6 427.0)"/><ellipse cx="683.8" cy="441.9" rx="1.3" ry="1.8" transform="rotate(53 683.8 441.9)"/><ellipse cx="657.8" cy="372.0" rx="2.1" ry="2.2" transform="rotate(139 657.8 372.0)"/><ellipse cx="715.3" cy="381.4" rx="2.4" ry="3.4" transform="rotate(106 715.3 381.4)"/><ellipse cx="688.1" cy="370.8" rx="1.8" ry="3.1" transform="rotate(114 688.1 370.8)"/><ellipse cx="625.4" cy="431.2" rx="4.1" ry="4.7" transform="rotate(79 625.4 431.2)"/><ellipse cx="683.9" cy="379.0" rx="3.6" ry="5.8" transform="rotate(11 683.9 379.0)"/><ellipse cx="681.9" cy="489.0" rx="1.5" ry="2.6" transform="rotate(86 681.9 489.0)"/><ellipse cx="665.8" cy="404.0" rx="4.7" ry="6.1" transform="rotate(41 665.8 404.0)"/><ellipse cx="710.9" cy="488.5" rx="3.0" ry="4.5" transform="rotate(116 710.9 488.5)"/><ellipse cx="693.5" cy="389.4" rx="1.9" ry="2.9" transform="rotate(18 693.5 389.4)"/><ellipse cx="616.5" cy="423.6" rx="2.6" ry="3.5" transform="rotate(37 616.5 423.6)"/><ellipse cx="628.0" cy="478.8" rx="4.0" ry="4.4" transform="rotate(51 628.0 478.8)"/><ellipse cx="662.3" cy="410.6" rx="1.6" ry="2.1" transform="rotate(34 662.3 410.6)"/><ellipse cx="666.8" cy="383.2" rx="3.4" ry="4.3" transform="rotate(129 666.8 383.2)"/><ellipse cx="676.1" cy="500.2" rx="3.7" ry="4.5" transform="rotate(92 676.1 500.2)"/><ellipse cx="666.0" cy="463.5" rx="2.1" ry="3.1" transform="rotate(6 666.0 463.5)"/><ellipse cx="664.4" cy="475.8" rx="2.2" ry="2.9" transform="rotate(50 664.4 475.8)"/><ellipse cx="653.1" cy="493.9" rx="3.2" ry="4.5" transform="rotate(89 653.1 493.9)"/><ellipse cx="701.2" cy="422.5" rx="3.9" ry="6.2" transform="rotate(118 701.2 422.5)"/><ellipse cx="589.9" cy="436.9" rx="2.7" ry="3.9" transform="rotate(178 589.9 436.9)"/><ellipse cx="675.2" cy="455.1" rx="1.9" ry="2.8" transform="rotate(128 675.2 455.1)"/><ellipse cx="723.5" cy="466.5" rx="1.7" ry="2.1" transform="rotate(118 723.5 466.5)"/><ellipse cx="714.7" cy="417.2" rx="4.3" ry="5.2" transform="rotate(145 714.7 417.2)"/><ellipse cx="601.0" cy="439.1" rx="1.5" ry="1.7" transform="rotate(25 601.0 439.1)"/><ellipse cx="665.4" cy="373.2" rx="1.8" ry="2.9" transform="rotate(69 665.4 373.2)"/><ellipse cx="703.5" cy="451.7" rx="4.8" ry="4.9" transform="rotate(131 703.5 451.7)"/><ellipse cx="696.1" cy="480.0" rx="1.4" ry="2.1" transform="rotate(75 696.1 480.0)"/><ellipse cx="705.5" cy="403.1" rx="1.7" ry="2.2" transform="rotate(35 705.5 403.1)"/><ellipse cx="705.1" cy="439.4" rx="2.9" ry="4.3" transform="rotate(119 705.1 439.4)"/><ellipse cx="636.0" cy="409.6" rx="2.5" ry="2.7" transform="rotate(15 636.0 409.6)"/><ellipse cx="613.4" cy="435.6" rx="2.0" ry="2.7" transform="rotate(117 613.4 435.6)"/><ellipse cx="647.0" cy="503.7" rx="3.6" ry="4.4" transform="rotate(7 647.0 503.7)"/><ellipse cx="675.3" cy="379.7" rx="2.2" ry="3.6" transform="rotate(59 675.3 379.7)"/><ellipse cx="693.3" cy="431.9" rx="4.0" ry="5.1" transform="rotate(22 693.3 431.9)"/><ellipse cx="618.0" cy="490.3" rx="1.4" ry="2.1" transform="rotate(48 618.0 490.3)"/><ellipse cx="622.2" cy="466.8" rx="1.7" ry="2.1" transform="rotate(60 622.2 466.8)"/><ellipse cx="661.4" cy="391.0" rx="2.6" ry="3.8" transform="rotate(58 661.4 391.0)"/><ellipse cx="718.0" cy="403.9" rx="1.5" ry="2.1" transform="rotate(170 718.0 403.9)"/><ellipse cx="635.9" cy="442.7" rx="4.0" ry="5.5" transform="rotate(169 635.9 442.7)"/><ellipse cx="692.8" cy="397.0" rx="3.2" ry="4.3" transform="rotate(107 692.8 397.0)"/><ellipse cx="609.6" cy="394.5" rx="4.5" ry="6.6" transform="rotate(72 609.6 394.5)"/><ellipse cx="643.4" cy="478.8" rx="1.9" ry="2.3" transform="rotate(58 643.4 478.8)"/><ellipse cx="708.4" cy="411.2" rx="3.9" ry="5.4" transform="rotate(136 708.4 411.2)"/><ellipse cx="667.7" cy="364.5" rx="3.1" ry="4.5" transform="rotate(173 667.7 364.5)"/><ellipse cx="656.1" cy="382.3" rx="4.4" ry="6.0" transform="rotate(34 656.1 382.3)"/><ellipse cx="588.1" cy="431.4" rx="1.5" ry="2.3" transform="rotate(31 588.1 431.4)"/><ellipse cx="726.6" cy="400.1" rx="4.1" ry="6.6" transform="rotate(147 726.6 400.1)"/><ellipse cx="605.6" cy="439.5" rx="1.9" ry="3.3" transform="rotate(7 605.6 439.5)"/><ellipse cx="604.2" cy="469.5" rx="2.9" ry="4.5" transform="rotate(30 604.2 469.5)"/><ellipse cx="688.9" cy="413.4" rx="2.1" ry="3.2" transform="rotate(40 688.9 413.4)"/><ellipse cx="623.4" cy="370.3" rx="4.5" ry="5.8" transform="rotate(116 623.4 370.3)"/><ellipse cx="649.3" cy="365.9" rx="2.0" ry="3.3" transform="rotate(169 649.3 365.9)"/><ellipse cx="653.8" cy="450.8" rx="2.8" ry="3.5" transform="rotate(78 653.8 450.8)"/><ellipse cx="595.9" cy="399.8" rx="2.1" ry="2.8" transform="rotate(121 595.9 399.8)"/><ellipse cx="699.7" cy="413.0" rx="1.9" ry="2.9" transform="rotate(98 699.7 413.0)"/><ellipse cx="648.2" cy="484.1" rx="4.2" ry="6.0" transform="rotate(104 648.2 484.1)"/><ellipse cx="702.9" cy="394.8" rx="1.3" ry="2.4" transform="rotate(61 702.9 394.8)"/><ellipse cx="723.0" cy="454.1" rx="1.8" ry="2.7" transform="rotate(97 723.0 454.1)"/><ellipse cx="707.6" cy="397.6" rx="2.8" ry="4.3" transform="rotate(118 707.6 397.6)"/><ellipse cx="680.4" cy="420.3" rx="3.4" ry="4.4" transform="rotate(168 680.4 420.3)"/><ellipse cx="684.8" cy="429.8" rx="2.6" ry="4.3" transform="rotate(160 684.8 429.8)"/><ellipse cx="709.3" cy="478.1" rx="2.7" ry="3.1" transform="rotate(65 709.3 478.1)"/><ellipse cx="597.5" cy="421.8" rx="4.2" ry="4.8" transform="rotate(179 597.5 421.8)"/><ellipse cx="623.1" cy="455.8" rx="2.6" ry="5.0" transform="rotate(51 623.1 455.8)"/><ellipse cx="667.9" cy="454.4" rx="3.8" ry="6.6" transform="rotate(41 667.9 454.4)"/><ellipse cx="646.3" cy="428.1" rx="1.3" ry="1.4" transform="rotate(68 646.3 428.1)"/><ellipse cx="654.9" cy="399.5" rx="4.6" ry="6.5" transform="rotate(132 654.9 399.5)"/></g>
<g fill="none" stroke="#c6c29a" stroke-width="0.9"><path d="M718.0,520.0 Q728.2,527.4 742.3,527.0"/><path d="M726.5,522.4 l5.9,-2.6"/><path d="M726.5,522.4 l3.6,5.4"/><path d="M730.2,523.5 l5.9,-2.6"/><path d="M730.2,523.5 l3.6,5.4"/><path d="M733.8,524.5 l5.9,-2.6"/><path d="M733.8,524.5 l3.6,5.4"/><path d="M737.5,525.6 l5.9,-2.6"/><path d="M737.5,525.6 l3.6,5.4"/><path d="M718.0,520.0 Q720.4,533.1 731.5,542.9"/><path d="M722.7,528.0 l6.1,2.2"/><path d="M722.7,528.0 l-1.1,6.4"/><path d="M724.7,531.5 l6.1,2.2"/><path d="M724.7,531.5 l-1.1,6.4"/><path d="M726.8,534.9 l6.1,2.2"/><path d="M726.8,534.9 l-1.1,6.4"/><path d="M728.8,538.4 l6.1,2.2"/><path d="M728.8,538.4 l-1.1,6.4"/><path d="M718.0,520.0 Q708.3,528.2 705.5,542.0"/><path d="M713.6,527.7 l1.2,6.4"/><path d="M713.6,527.7 l-6.1,2.2"/><path d="M711.7,531.0 l1.2,6.4"/><path d="M711.7,531.0 l-6.1,2.2"/><path d="M709.9,534.3 l1.2,6.4"/><path d="M709.9,534.3 l-6.1,2.2"/><path d="M708.0,537.6 l1.2,6.4"/><path d="M708.0,537.6 l-6.1,2.2"/><path d="M718.0,520.0 Q702.5,518.0 687.4,526.9"/><path d="M707.3,522.4 l-3.9,5.2"/><path d="M707.3,522.4 l-5.8,-3.0"/><path d="M702.7,523.4 l-3.9,5.2"/><path d="M702.7,523.4 l-5.8,-3.0"/><path d="M698.1,524.5 l-3.9,5.2"/><path d="M698.1,524.5 l-5.8,-3.0"/><path d="M693.5,525.5 l-3.9,5.2"/><path d="M693.5,525.5 l-5.8,-3.0"/><path d="M718.0,520.0 Q709.0,505.5 691.1,498.9"/><path d="M708.6,512.6 l-6.5,0.2"/><path d="M708.6,512.6 l-1.3,-6.3"/><path d="M704.5,509.5 l-6.5,0.2"/><path d="M704.5,509.5 l-1.3,-6.3"/><path d="M700.5,506.3 l-6.5,0.2"/><path d="M700.5,506.3 l-1.3,-6.3"/><path d="M696.4,503.2 l-6.5,0.2"/><path d="M696.4,503.2 l-1.3,-6.3"/><path d="M718.0,520.0 Q717.6,505.9 707.5,493.8"/><path d="M714.3,510.8 l-5.7,-3.1"/><path d="M714.3,510.8 l2.0,-6.2"/><path d="M712.8,506.9 l-5.7,-3.1"/><path d="M712.8,506.9 l2.0,-6.2"/><path d="M711.2,503.0 l-5.7,-3.1"/><path d="M711.2,503.0 l2.0,-6.2"/><path d="M709.6,499.0 l-5.7,-3.1"/><path d="M709.6,499.0 l2.0,-6.2"/><path d="M718.0,520.0 Q730.6,514.3 737.9,500.6"/><path d="M724.9,513.2 l0.6,-6.4"/><path d="M724.9,513.2 l6.5,-0.5"/><path d="M727.9,510.3 l0.6,-6.4"/><path d="M727.9,510.3 l6.5,-0.5"/><path d="M730.9,507.4 l0.6,-6.4"/><path d="M730.9,507.4 l6.5,-0.5"/><path d="M733.9,504.5 l0.6,-6.4"/><path d="M733.9,504.5 l6.5,-0.5"/><path d="M722.2,550.9 l1.4,1.5"/><path d="M724.0,555.5 l1.7,0.0"/><path d="M688.3,528.5 l-0.3,-1.7"/><path d="M696.4,546.1 l0.3,1.7"/><path d="M689.4,539.4 l1.5,2.0"/><path d="M749.3,508.8 l-1.9,-1.4"/><path d="M746.1,508.5 l0.8,0.9"/><path d="M686.6,521.0 l1.5,-1.6"/><path d="M746.5,528.8 l-0.1,1.4"/><path d="M690.5,539.6 l0.0,-1.3"/><path d="M695.3,549.7 l-1.1,-0.8"/><path d="M702.9,552.9 l1.6,-0.7"/><path d="M747.3,534.7 l1.6,1.2"/><path d="M742.8,541.9 l-0.0,-0.5"/><path d="M750.7,504.1 l1.0,-0.9"/><path d="M740.9,502.0 l1.8,-1.4"/><path d="M684.9,524.0 l1.9,-1.8"/><path d="M734.3,495.6 l0.3,-0.2"/><path d="M688.2,500.2 l0.8,-1.0"/><path d="M747.5,521.7 l-0.7,0.6"/><path d="M699.5,546.4 l0.5,0.8"/><path d="M705.1,551.6 l1.3,1.2"/><path d="M746.8,497.0 l-1.9,0.7"/><path d="M693.6,540.6 l0.1,-1.4"/><path d="M748.9,517.3 l-0.7,1.7"/><path d="M704.2,552.1 l-0.7,0.4"/><path d="M699.2,549.6 l-1.8,-1.3"/><path d="M713.2,483.8 l-1.6,1.3"/><path d="M700.7,549.3 l1.6,-1.5"/><path d="M701.5,544.7 l1.0,0.2"/><path d="M745.6,501.7 l-0.4,1.2"/><path d="M723.9,491.8 l-1.4,0.6"/><path d="M697.7,489.8 l0.3,0.2"/><path d="M693.9,546.1 l-1.1,0.2"/><path d="M742.9,542.3 l0.1,-0.1"/><path d="M710.0,490.9 l1.1,-0.6"/><path d="M754.5,517.1 l0.6,-0.4"/><path d="M739.4,542.8 l-0.9,2.0"/><path d="M743.4,505.3 l0.8,1.1"/><path d="M700.0,496.4 l-1.2,0.7"/></g>
<g fill="none" stroke="#b2b58f" stroke-width="0.9"><path d="M865.0,880.0 Q850.8,899.2 839.6,910.7"/><path d="M852.8,895.7 l-4.0,0.2"/><path d="M845.4,904.5 l0.1,2.3"/><path d="M865.0,880.0 Q845.3,891.9 827.3,887.0"/><path d="M847.6,887.3 l-2.7,-0.9"/><path d="M836.4,888.4 l-2.5,-0.9"/><path d="M865.0,880.0 Q845.1,862.6 832.9,849.9"/><path d="M848.7,865.3 l0.3,-4.1"/><path d="M839.5,856.6 l-0.9,-4.1"/><path d="M865.0,880.0 Q864.6,856.0 858.6,840.5"/><path d="M863.5,860.1 l1.6,-2.5"/><path d="M861.2,848.8 l-3.5,-2.3"/><path d="M865.0,880.0 Q872.8,859.6 888.8,852.5"/><path d="M873.7,864.3 l3.3,-0.8"/><path d="M881.3,856.9 l-0.3,-4.0"/><path d="M865.0,880.0 Q892.2,870.5 910.5,864.5"/><path d="M887.7,872.2 l2.3,1.1"/><path d="M900.8,867.7 l1.2,-2.0"/><path d="M865.0,880.0 Q884.8,889.1 896.5,898.1"/><path d="M881.2,888.2 l1.2,2.1"/><path d="M890.2,893.6 l1.0,3.3"/><path d="M865.0,880.0 Q859.9,908.0 865.0,927.5"/><path d="M862.5,903.5 l1.4,2.1"/><path d="M863.1,917.2 l1.9,2.2"/><ellipse cx="865.0" cy="883.5" rx="5.8" ry="3.8" transform="rotate(71 865.0 883.5)"/><circle cx="865.6" cy="874.8" r="3.2"/><ellipse cx="874.8" cy="865.2" rx="2.8" ry="5.1" transform="rotate(71 874.8 865.2)"/><ellipse cx="845.8" cy="828.3" rx="2.0" ry="2.4" transform="rotate(44 845.8 828.3)"/><ellipse cx="850.3" cy="862.0" rx="2.0" ry="2.7" transform="rotate(159 850.3 862.0)"/><ellipse cx="862.5" cy="920.6" rx="1.4" ry="1.8" transform="rotate(46 862.5 920.6)"/><ellipse cx="822.4" cy="918.0" rx="3.0" ry="5.0" transform="rotate(51 822.4 918.0)"/><ellipse cx="890.5" cy="911.2" rx="2.1" ry="2.9" transform="rotate(73 890.5 911.2)"/><ellipse cx="831.7" cy="905.7" rx="2.3" ry="2.8" transform="rotate(73 831.7 905.7)"/><ellipse cx="892.2" cy="840.9" rx="2.7" ry="4.3" transform="rotate(153 892.2 840.9)"/><ellipse cx="876.6" cy="830.6" rx="3.0" ry="4.8" transform="rotate(38 876.6 830.6)"/><ellipse cx="916.0" cy="877.2" rx="1.6" ry="1.8" transform="rotate(14 916.0 877.2)"/><ellipse cx="866.4" cy="838.1" rx="2.7" ry="3.2" transform="rotate(66 866.4 838.1)"/><ellipse cx="895.1" cy="893.0" rx="1.6" ry="2.0" transform="rotate(0 895.1 893.0)"/><ellipse cx="837.5" cy="858.2" rx="1.7" ry="2.7" transform="rotate(70 837.5 858.2)"/><ellipse cx="880.2" cy="934.6" rx="3.5" ry="4.8" transform="rotate(149 880.2 934.6)"/><ellipse cx="911.8" cy="862.7" rx="1.7" ry="2.9" transform="rotate(145 911.8 862.7)"/><ellipse cx="808.7" cy="890.2" rx="2.3" ry="3.6" transform="rotate(129 808.7 890.2)"/><ellipse cx="874.9" cy="904.9" rx="1.4" ry="1.9" transform="rotate(118 874.9 904.9)"/><ellipse cx="903.6" cy="907.0" rx="1.4" ry="1.8" transform="rotate(124 903.6 907.0)"/><ellipse cx="868.5" cy="830.4" rx="2.3" ry="2.6" transform="rotate(168 868.5 830.4)"/><ellipse cx="895.1" cy="852.9" rx="2.6" ry="4.3" transform="rotate(28 895.1 852.9)"/><ellipse cx="892.7" cy="887.6" rx="2.4" ry="3.0" transform="rotate(47 892.7 887.6)"/><ellipse cx="826.9" cy="854.1" rx="2.2" ry="3.1" transform="rotate(62 826.9 854.1)"/><ellipse cx="916.6" cy="898.5" rx="2.0" ry="2.7" transform="rotate(61 916.6 898.5)"/><ellipse cx="867.3" cy="905.1" rx="2.1" ry="2.9" transform="rotate(156 867.3 905.1)"/><ellipse cx="878.4" cy="869.8" rx="1.1" ry="1.7" transform="rotate(120 878.4 869.8)"/><ellipse cx="848.6" cy="851.0" rx="3.3" ry="3.3" transform="rotate(21 848.6 851.0)"/><ellipse cx="886.2" cy="831.6" rx="0.9" ry="1.5" transform="rotate(14 886.2 831.6)"/><ellipse cx="824.1" cy="894.2" rx="3.3" ry="4.1" transform="rotate(145 824.1 894.2)"/><ellipse cx="849.6" cy="835.1" rx="3.5" ry="5.9" transform="rotate(147 849.6 835.1)"/><ellipse cx="811.9" cy="857.2" rx="2.3" ry="3.4" transform="rotate(180 811.9 857.2)"/><ellipse cx="886.4" cy="855.9" rx="2.2" ry="2.7" transform="rotate(3 886.4 855.9)"/><ellipse cx="894.2" cy="923.3" rx="2.7" ry="3.8" transform="rotate(103 894.2 923.3)"/><ellipse cx="887.3" cy="876.0" rx="2.2" ry="3.1" transform="rotate(2 887.3 876.0)"/><ellipse cx="873.0" cy="915.6" rx="3.3" ry="4.3" transform="rotate(96 873.0 915.6)"/><ellipse cx="856.3" cy="848.7" rx="3.0" ry="4.4" transform="rotate(35 856.3 848.7)"/><ellipse cx="841.6" cy="880.9" rx="1.3" ry="1.7" transform="rotate(124 841.6 880.9)"/><ellipse cx="839.3" cy="927.9" rx="2.8" ry="3.7" transform="rotate(36 839.3 927.9)"/><ellipse cx="834.7" cy="920.1" rx="1.2" ry="1.7" transform="rotate(26 834.7 920.1)"/><ellipse cx="884.0" cy="825.4" rx="2.6" ry="3.9" transform="rotate(148 884.0 825.4)"/><ellipse cx="835.3" cy="894.5" rx="3.0" ry="5.1" transform="rotate(35 835.3 894.5)"/><ellipse cx="901.7" cy="858.7" rx="1.3" ry="1.8" transform="rotate(44 901.7 858.7)"/><ellipse cx="905.4" cy="889.1" rx="4.2" ry="4.8" transform="rotate(84 905.4 889.1)"/><ellipse cx="903.3" cy="880.7" rx="4.3" ry="5.5" transform="rotate(115 903.3 880.7)"/><ellipse cx="835.6" cy="832.9" rx="1.0" ry="1.7" transform="rotate(111 835.6 832.9)"/><ellipse cx="856.8" cy="897.0" rx="2.2" ry="3.3" transform="rotate(43 856.8 897.0)"/><ellipse cx="853.8" cy="936.1" rx="3.0" ry="4.2" transform="rotate(44 853.8 936.1)"/><ellipse cx="852.1" cy="919.9" rx="4.2" ry="5.2" transform="rotate(28 852.1 919.9)"/><ellipse cx="832.1" cy="878.0" rx="3.3" ry="4.3" transform="rotate(14 832.1 878.0)"/><ellipse cx="841.9" cy="905.7" rx="2.5" ry="3.9" transform="rotate(20 841.9 905.7)"/><ellipse cx="819.1" cy="850.5" rx="3.5" ry="4.4" transform="rotate(162 819.1 850.5)"/><ellipse cx="897.5" cy="913.3" rx="3.2" ry="4.4" transform="rotate(140 897.5 913.3)"/><ellipse cx="850.6" cy="901.8" rx="2.3" ry="3.4" transform="rotate(134 850.6 901.8)"/><ellipse cx="854.2" cy="870.7" rx="2.4" ry="3.4" transform="rotate(83 854.2 870.7)"/><ellipse cx="873.0" cy="824.1" rx="2.9" ry="3.7" transform="rotate(111 873.0 824.1)"/><ellipse cx="825.7" cy="846.7" rx="2.5" ry="3.1" transform="rotate(37 825.7 846.7)"/><ellipse cx="904.0" cy="899.5" rx="2.7" ry="3.9" transform="rotate(66 904.0 899.5)"/><ellipse cx="876.9" cy="887.3" rx="3.7" ry="6.1" transform="rotate(64 876.9 887.3)"/><ellipse cx="831.8" cy="914.1" rx="3.2" ry="3.5" transform="rotate(69 831.8 914.1)"/><ellipse cx="818.2" cy="882.2" rx="1.5" ry="2.5" transform="rotate(72 818.2 882.2)"/><ellipse cx="833.5" cy="864.6" rx="3.1" ry="4.5" transform="rotate(136 833.5 864.6)"/><ellipse cx="913.8" cy="855.5" rx="2.7" ry="4.4" transform="rotate(54 913.8 855.5)"/><ellipse cx="838.5" cy="914.1" rx="1.6" ry="2.5" transform="rotate(48 838.5 914.1)"/><ellipse cx="905.9" cy="844.1" rx="2.3" ry="3.9" transform="rotate(127 905.9 844.1)"/><ellipse cx="881.2" cy="911.9" rx="3.3" ry="5.2" transform="rotate(130 881.2 911.9)"/><ellipse cx="860.8" cy="842.9" rx="2.9" ry="3.4" transform="rotate(36 860.8 842.9)"/><ellipse cx="816.6" cy="897.1" rx="2.6" ry="3.5" transform="rotate(4 816.6 897.1)"/><ellipse cx="882.8" cy="832.2" rx="1.5" ry="1.9" transform="rotate(153 882.8 832.2)"/><ellipse cx="813.7" cy="884.8" rx="1.3" ry="2.0" transform="rotate(163 813.7 884.8)"/><ellipse cx="911.6" cy="885.2" rx="1.0" ry="1.3" transform="rotate(71 911.6 885.2)"/><ellipse cx="880.9" cy="846.2" rx="2.4" ry="3.4" transform="rotate(143 880.9 846.2)"/><ellipse cx="852.2" cy="890.4" rx="2.2" ry="2.9" transform="rotate(180 852.2 890.4)"/><ellipse cx="861.1" cy="833.7" rx="1.3" ry="2.2" transform="rotate(150 861.1 833.7)"/><ellipse cx="810.6" cy="871.0" rx="3.5" ry="5.9" transform="rotate(24 810.6 871.0)"/><ellipse cx="822.3" cy="861.6" rx="2.3" ry="4.0" transform="rotate(162 822.3 861.6)"/><ellipse cx="904.1" cy="863.1" rx="1.0" ry="1.7" transform="rotate(80 904.1 863.1)"/></g>
<g fill="none" stroke="#d0d0d0" stroke-width="0.9"><path d="M835.0,1012.5 Q803.9,1010.0 785.2,997.6"/><path d="M809.5,1008.2 l-1.7,-1.8"/><path d="M795.3,1003.1 l-1.5,-3.1"/><path d="M835.0,1012.5 Q825.6,984.7 813.0,968.9"/><path d="M825.9,989.9 l0.3,-3.7"/><path d="M819.1,977.5 l-4.3,-1.2"/><path d="M835.0,1012.5 Q835.6,984.3 833.3,965.6"/><path d="M835.0,989.0 l-1.7,-2.1"/><path d="M834.3,975.5 l-1.6,-2.1"/><path d="M835.0,1012.5 Q860.4,1014.3 873.6,994.9"/><path d="M855.4,1009.8 l1.2,-3.2"/><path d="M866.2,1003.3 l3.3,0.3"/><path d="M835.0,1012.5 Q863.0,1005.9 882.7,1008.4"/><path d="M858.5,1008.4 l3.6,2.3"/><path d="M872.3,1007.7 l3.3,1.8"/><path d="M835.0,1012.5 Q848.8,1034.6 852.7,1052.2"/><path d="M845.4,1031.5 l-0.3,3.0"/><path d="M850.1,1043.1 l2.7,1.6"/><path d="M835.0,1012.5 Q842.4,1033.1 832.7,1048.8"/><path d="M838.2,1030.0 l-1.6,1.9"/><path d="M836.5,1040.6 l-2.3,3.5"/><path d="M835.0,1012.5 Q823.3,1029.3 808.1,1033.4"/><path d="M823.8,1025.0 l-4.7,0.6"/><path d="M815.5,1030.5 l-3.7,0.6"/><ellipse cx="835.0" cy="1016.1" rx="6.0" ry="3.9" transform="rotate(123 835.0 1016.1)"/><circle cx="835.6" cy="1007.1" r="3.3"/><ellipse cx="830.5" cy="973.3" rx="3.9" ry="5.1" transform="rotate(35 830.5 973.3)"/><ellipse cx="853.8" cy="1038.7" rx="1.4" ry="2.4" transform="rotate(97 853.8 1038.7)"/><ellipse cx="882.5" cy="986.5" rx="3.0" ry="5.6" transform="rotate(17 882.5 986.5)"/><ellipse cx="863.1" cy="967.5" rx="3.0" ry="3.7" transform="rotate(15 863.1 967.5)"/><ellipse cx="837.5" cy="1061.0" rx="2.6" ry="3.4" transform="rotate(53 837.5 1061.0)"/><ellipse cx="783.6" cy="1016.8" rx="2.4" ry="3.4" transform="rotate(93 783.6 1016.8)"/><ellipse cx="875.4" cy="1004.1" rx="3.1" ry="4.3" transform="rotate(34 875.4 1004.1)"/><ellipse cx="872.2" cy="1019.2" rx="3.4" ry="4.5" transform="rotate(161 872.2 1019.2)"/><ellipse cx="803.2" cy="995.4" rx="3.8" ry="5.5" transform="rotate(66 803.2 995.4)"/><ellipse cx="836.8" cy="952.6" rx="2.1" ry="3.1" transform="rotate(93 836.8 952.6)"/><ellipse cx="850.8" cy="1054.0" rx="3.1" ry="4.4" transform="rotate(81 850.8 1054.0)"/><ellipse cx="793.7" cy="1011.4" rx="2.8" ry="3.2" transform="rotate(47 793.7 1011.4)"/><ellipse cx="862.5" cy="959.6" rx="2.8" ry="3.3" transform="rotate(48 862.5 959.6)"/><ellipse cx="821.2" cy="970.6" rx="1.2" ry="1.9" transform="rotate(110 821.2 970.6)"/><ellipse cx="883.7" cy="1047.3" rx="4.1" ry="4.3" transform="rotate(97 883.7 1047.3)"/><ellipse cx="844.2" cy="1064.4" rx="3.4" ry="4.8" transform="rotate(77 844.2 1064.4)"/><ellipse cx="816.1" cy="1007.8" rx="1.8" ry="2.3" transform="rotate(63 816.1 1007.8)"/><ellipse cx="854.1" cy="971.6" rx="3.8" ry="4.4" transform="rotate(135 854.1 971.6)"/><ellipse cx="832.9" cy="995.5" rx="2.0" ry="2.7" transform="rotate(97 832.9 995.5)"/><ellipse cx="803.2" cy="1013.6" rx="1.9" ry="2.7" transform="rotate(123 803.2 1013.6)"/><ellipse cx="845.8" cy="1046.0" rx="2.1" ry="3.8" transform="rotate(142 845.8 1046.0)"/><ellipse cx="827.8" cy="1037.9" rx="2.5" ry="3.4" transform="rotate(94 827.8 1037.9)"/><ellipse cx="864.9" cy="1055.9" rx="2.6" ry="4.0" transform="rotate(57 864.9 1055.9)"/><ellipse cx="874.7" cy="975.7" rx="3.7" ry="5.6" transform="rotate(30 874.7 975.7)"/><ellipse cx="844.0" cy="962.2" rx="2.4" ry="3.8" transform="rotate(135 844.0 962.2)"/><ellipse cx="822.0" cy="1064.9" rx="1.8" ry="2.4" transform="rotate(1 822.0 1064.9)"/><ellipse cx="810.6" cy="1013.6" rx="2.8" ry="3.3" transform="rotate(31 810.6 1013.6)"/><ellipse cx="887.0" cy="1038.1" rx="2.4" ry="2.9" transform="rotate(174 887.0 1038.1)"/><ellipse cx="816.3" cy="1061.2" rx="4.0" ry="5.1" transform="rotate(26 816.3 1061.2)"/><ellipse cx="844.6" cy="991.4" rx="3.8" ry="5.6" transform="rotate(143 844.6 991.4)"/><ellipse cx="784.2" cy="1034.1" rx="1.8" ry="2.8" transform="rotate(164 784.2 1034.1)"/><ellipse cx="823.1" cy="1039.6" rx="1.3" ry="1.5" transform="rotate(121 823.1 1039.6)"/><ellipse cx="796.8" cy="1032.5" rx="1.9" ry="3.2" transform="rotate(169 796.8 1032.5)"/><ellipse cx="861.8" cy="986.0" rx="3.5" ry="5.6" transform="rotate(68 861.8 986.0)"/><ellipse cx="810.1" cy="979.8" rx="1.8" ry="2.5" transform="rotate(41 810.1 979.8)"/><ellipse cx="871.3" cy="967.3" rx="2.7" ry="3.6" transform="rotate(176 871.3 967.3)"/><ellipse cx="818.4" cy="1015.4" rx="1.7" ry="2.1" transform="rotate(22 818.4 1015.4)"/><ellipse cx="870.0" cy="1034.0" rx="2.2" ry="2.7" transform="rotate(56 870.0 1034.0)"/><ellipse cx="831.8" cy="1050.8" rx="3.1" ry="3.3" transform="rotate(97 831.8 1050.8)"/><ellipse cx="874.0" cy="990.5" rx="3.0" ry="4.7" transform="rotate(162 874.0 990.5)"/><ellipse cx="841.4" cy="954.3" rx="1.5" ry="2.1" transform="rotate(59 841.4 954.3)"/><ellipse cx="840.1" cy="999.1" rx="1.6" ry="1.9" transform="rotate(69 840.1 999.1)"/><ellipse cx="881.1" cy="1000.3" rx="1.2" ry="1.5" transform="rotate(134 881.1 1000.3)"/><ellipse cx="843.5" cy="1037.0" rx="3.0" ry="5.5" transform="rotate(48 843.5 1037.0)"/><ellipse cx="819.6" cy="1052.1" rx="2.9" ry="4.0" transform="rotate(3 819.6 1052.1)"/><ellipse cx="857.0" cy="1012.9" rx="2.9" ry="3.7" transform="rotate(58 857.0 1012.9)"/><ellipse cx="839.1" cy="970.9" rx="3.2" ry="5.3" transform="rotate(53 839.1 970.9)"/><ellipse cx="825.9" cy="955.3" rx="3.1" ry="4.5" transform="rotate(13 825.9 955.3)"/><ellipse cx="782.9" cy="987.2" rx="1.7" ry="2.5" transform="rotate(15 782.9 987.2)"/><ellipse cx="795.0" cy="1049.5" rx="1.3" ry="1.8" transform="rotate(137 795.0 1049.5)"/><ellipse cx="837.4" cy="1045.3" rx="2.6" ry="3.3" transform="rotate(132 837.4 1045.3)"/><ellipse cx="845.6" cy="971.5" rx="1.7" ry="2.3" transform="rotate(96 845.6 971.5)"/><ellipse cx="807.5" cy="1024.2" rx="3.6" ry="4.3" transform="rotate(22 807.5 1024.2)"/><ellipse cx="848.4" cy="1017.0" rx="2.1" ry="3.2" transform="rotate(70 848.4 1017.0)"/><ellipse cx="824.5" cy="1001.5" rx="3.7" ry="5.7" transform="rotate(146 824.5 1001.5)"/><ellipse cx="810.0" cy="973.0" rx="3.2" ry="4.2" transform="rotate(166 810.0 973.0)"/><ellipse cx="795.3" cy="1041.7" rx="1.9" ry="3.1" transform="rotate(109 795.3 1041.7)"/><ellipse cx="807.7" cy="1064.4" rx="3.0" ry="3.9" transform="rotate(47 807.7 1064.4)"/><ellipse cx="786.1" cy="1029.3" rx="1.3" ry="2.0" transform="rotate(56 786.1 1029.3)"/><ellipse cx="829.5" cy="980.3" rx="2.0" ry="2.8" transform="rotate(1 829.5 980.3)"/><ellipse cx="829.0" cy="1066.3" rx="1.7" ry="2.1" transform="rotate(6 829.0 1066.3)"/><ellipse cx="847.9" cy="1005.7" rx="1.3" ry="1.8" transform="rotate(74 847.9 1005.7)"/><ellipse cx="799.8" cy="1003.2" rx="3.2" ry="3.4" transform="rotate(16 799.8 1003.2)"/><ellipse cx="824.8" cy="1059.5" rx="2.8" ry="3.4" transform="rotate(148 824.8 1059.5)"/><ellipse cx="802.5" cy="968.3" rx="3.2" ry="3.8" transform="rotate(102 802.5 968.3)"/><ellipse cx="834.2" cy="958.9" rx="1.8" ry="1.9" transform="rotate(132 834.2 958.9)"/><ellipse cx="863.2" cy="1033.1" rx="2.1" ry="2.9" transform="rotate(174 863.2 1033.1)"/><ellipse cx="854.7" cy="962.7" rx="3.4" ry="5.2" transform="rotate(13 854.7 962.7)"/><ellipse cx="789.1" cy="1020.5" rx="3.0" ry="3.9" transform="rotate(25 789.1 1020.5)"/><ellipse cx="841.8" cy="977.4" rx="2.3" ry="3.3" transform="rotate(47 841.8 977.4)"/><ellipse cx="809.4" cy="990.3" rx="2.9" ry="3.9" transform="rotate(66 809.4 990.3)"/><ellipse cx="789.4" cy="977.6" rx="3.4" ry="5.1" transform="rotate(102 789.4 977.6)"/><ellipse cx="876.6" cy="1028.9" rx="2.1" ry="2.7" transform="rotate(126 876.6 1028.9)"/><ellipse cx="786.0" cy="995.6" rx="1.6" ry="2.6" transform="rotate(57 786.0 995.6)"/><ellipse cx="837.6" cy="990.6" rx="2.1" ry="3.3" transform="rotate(165 837.6 990.6)"/><ellipse cx="846.0" cy="1057.0" rx="1.1" ry="1.4" transform="rotate(173 846.0 1057.0)"/><ellipse cx="891.0" cy="1004.5" rx="3.5" ry="5.5" transform="rotate(99 891.0 1004.5)"/><ellipse cx="791.8" cy="1001.0" rx="1.7" ry="2.2" transform="rotate(124 791.8 1001.0)"/></g>
<g fill="none" stroke="#a3a3a3" stroke-width="0.9"><path d="M940.0,965.0 Q956.9,987.0 955.9,1008.4"/><path d="M951.6,984.7 l-1.3,3.1"/><path d="M955.3,997.7 l-1.2,3.3"/><path d="M940.0,965.0 Q938.2,997.6 927.6,1018.0"/><path d="M936.6,991.9 l3.1,4.4"/><path d="M932.3,1007.1 l1.1,3.2"/><path d="M940.0,965.0 Q910.4,970.7 895.9,989.0"/><path d="M916.4,972.7 l-3.6,-0.3"/><path d="M904.1,980.6 l-1.7,3.6"/><path d="M940.0,965.0 Q912.9,955.5 897.7,942.5"/><path d="M918.0,955.8 l-1.1,-4.3"/><path d="M906.1,948.8 l-1.3,-3.4"/><path d="M940.0,965.0 Q928.2,937.4 920.6,918.8"/><path d="M930.3,942.0 l-3.8,-2.6"/><path d="M924.7,928.7 l0.7,-4.2"/><path d="M940.0,965.0 Q943.3,929.4 962.7,909.9"/><path d="M946.2,936.2 l3.3,-1.7"/><path d="M954.0,920.7 l2.6,-1.9"/><path d="M940.0,965.0 Q961.7,954.3 973.1,942.0"/><path d="M957.5,955.1 l5.3,-0.1"/><path d="M966.8,948.1 l5.0,1.1"/><path d="M940.0,965.0 Q958.2,989.4 985.7,986.8"/><path d="M958.3,981.5 l4.8,-1.8"/><path d="M972.6,986.4 l4.9,-1.2"/><ellipse cx="940.0" cy="969.2" rx="7.0" ry="4.5" transform="rotate(33 940.0 969.2)"/><circle cx="940.7" cy="958.7" r="3.9"/><ellipse cx="933.9" cy="1011.3" rx="2.8" ry="3.2" transform="rotate(61 933.9 1011.3)"/><ellipse cx="919.5" cy="1026.3" rx="2.0" ry="2.4" transform="rotate(3 919.5 1026.3)"/><ellipse cx="972.8" cy="1007.8" rx="2.0" ry="2.7" transform="rotate(77 972.8 1007.8)"/><ellipse cx="892.1" cy="946.5" rx="2.5" ry="4.3" transform="rotate(139 892.1 946.5)"/><ellipse cx="901.3" cy="991.7" rx="3.2" ry="4.4" transform="rotate(158 901.3 991.7)"/><ellipse cx="978.9" cy="1019.2" rx="2.0" ry="3.1" transform="rotate(131 978.9 1019.2)"/><ellipse cx="977.6" cy="979.5" rx="4.3" ry="5.8" transform="rotate(132 977.6 979.5)"/><ellipse cx="871.7" cy="954.8" rx="3.8" ry="4.8" transform="rotate(151 871.7 954.8)"/><ellipse cx="957.0" cy="908.4" rx="1.6" ry="2.5" transform="rotate(12 957.0 908.4)"/><ellipse cx="906.4" cy="939.6" rx="4.3" ry="5.5" transform="rotate(73 906.4 939.6)"/><ellipse cx="937.2" cy="913.8" rx="3.6" ry="6.8" transform="rotate(144 937.2 913.8)"/><ellipse cx="939.1" cy="986.4" rx="2.0" ry="2.7" transform="rotate(25 939.1 986.4)"/><ellipse cx="886.2" cy="987.2" rx="1.8" ry="2.6" transform="rotate(47 886.2 987.2)"/><ellipse cx="950.3" cy="901.7" rx="2.6" ry="4.5" transform="rotate(157 950.3 901.7)"/><ellipse cx="1002.9" cy="944.6" rx="2.1" ry="2.2" transform="rotate(65 1002.9 944.6)"/><ellipse cx="906.3" cy="924.8" rx="3.3" ry="4.6" transform="rotate(155 906.3 924.8)"/><ellipse cx="884.0" cy="981.1" rx="1.3" ry="2.0" transform="rotate(34 884.0 981.1)"/><ellipse cx="1009.5" cy="972.7" rx="2.8" ry="3.9" transform="rotate(104 1009.5 972.7)"/><ellipse cx="940.9" cy="1004.4" rx="1.8" ry="2.0" transform="rotate(23 940.9 1004.4)"/><ellipse cx="982.0" cy="943.6" rx="2.7" ry="3.6" transform="rotate(90 982.0 943.6)"/><ellipse cx="934.2" cy="1001.6" rx="1.5" ry="2.3" transform="rotate(91 934.2 1001.6)"/><ellipse cx="925.4" cy="1018.7" rx="4.0" ry="6.8" transform="rotate(3 925.4 1018.7)"/><ellipse cx="979.5" cy="923.1" rx="2.8" ry="3.8" transform="rotate(178 979.5 923.1)"/><ellipse cx="946.1" cy="1034.5" rx="2.9" ry="4.2" transform="rotate(5 946.1 1034.5)"/><ellipse cx="940.3" cy="1017.7" rx="1.6" ry="2.2" transform="rotate(38 940.3 1017.7)"/><ellipse cx="912.9" cy="1020.2" rx="2.1" ry="2.7" transform="rotate(152 912.9 1020.2)"/><ellipse cx="981.5" cy="932.9" rx="2.2" ry="3.7" transform="rotate(11 981.5 932.9)"/><ellipse cx="1006.6" cy="953.8" rx="2.3" ry="4.2" transform="rotate(47 1006.6 953.8)"/><ellipse cx="871.8" cy="974.9" rx="4.4" ry="4.8" transform="rotate(60 871.8 974.9)"/><ellipse cx="954.8" cy="1010.1" rx="3.7" ry="5.1" transform="rotate(33 954.8 1010.1)"/><ellipse cx="951.9" cy="936.6" rx="2.0" ry="2.4" transform="rotate(146 951.9 936.6)"/><ellipse cx="998.4" cy="943.0" rx="1.5" ry="2.2" transform="rotate(61 998.4 943.0)"/><ellipse cx="969.8" cy="907.3" rx="2.2" ry="3.9" transform="rotate(42 969.8 907.3)"/><ellipse cx="978.9" cy="1000.0" rx="2.9" ry="4.4" transform="rotate(88 978.9 1000.0)"/><ellipse cx="929.3" cy="993.5" rx="2.9" ry="3.9" transform="rotate(166 929.3 993.5)"/><ellipse cx="999.0" cy="962.8" rx="2.2" ry="3.4" transform="rotate(71 999.0 962.8)"/><ellipse cx="944.3" cy="943.0" rx="3.9" ry="5.7" transform="rotate(12 944.3 943.0)"/><ellipse cx="922.2" cy="901.7" rx="4.6" ry="5.7" transform="rotate(154 922.2 901.7)"/><ellipse cx="973.6" cy="958.5" rx="3.7" ry="4.8" transform="rotate(103 973.6 958.5)"/><ellipse cx="951.7" cy="929.9" rx="2.7" ry="4.6" transform="rotate(105 951.7 929.9)"/><ellipse cx="956.4" cy="920.6" rx="2.8" ry="3.8" transform="rotate(66 956.4 920.6)"/><ellipse cx="943.9" cy="931.8" rx="2.7" ry="2.9" transform="rotate(153 943.9 931.8)"/><ellipse cx="978.9" cy="954.2" rx="2.2" ry="2.8" transform="rotate(13 978.9 954.2)"/><ellipse cx="920.7" cy="1007.5" rx="3.4" ry="5.8" transform="rotate(6 920.7 1007.5)"/><ellipse cx="921.7" cy="947.3" rx="4.2" ry="5.0" transform="rotate(164 921.7 947.3)"/><ellipse cx="895.4" cy="956.3" rx="3.4" ry="4.5" transform="rotate(173 895.4 956.3)"/><ellipse cx="879.6" cy="993.1" rx="1.3" ry="1.7" transform="rotate(161 879.6 993.1)"/><ellipse cx="899.6" cy="976.8" rx="2.8" ry="3.8" transform="rotate(93 899.6 976.8)"/><ellipse cx="894.3" cy="925.3" rx="1.9" ry="2.9" transform="rotate(20 894.3 925.3)"/><ellipse cx="995.4" cy="983.5" rx="1.6" ry="2.7" transform="rotate(82 995.4 983.5)"/><ellipse cx="921.3" cy="931.6" rx="2.4" ry="2.7" transform="rotate(167 921.3 931.6)"/><ellipse cx="942.9" cy="902.8" rx="3.2" ry="5.2" transform="rotate(91 942.9 902.8)"/><ellipse cx="932.4" cy="1022.2" rx="2.0" ry="2.5" transform="rotate(8 932.4 1022.2)"/><ellipse cx="904.3" cy="984.2" rx="1.7" ry="2.9" transform="rotate(83 904.3 984.2)"/><ellipse cx="929.2" cy="915.2" rx="1.4" ry="2.3" transform="rotate(50 929.2 915.2)"/><ellipse cx="965.9" cy="1018.3" rx="2.5" ry="3.2" transform="rotate(43 965.9 1018.3)"/><ellipse cx="879.3" cy="976.5" rx="2.7" ry="3.7" transform="rotate(89 879.3 976.5)"/><ellipse cx="932.6" cy="945.0" rx="2.9" ry="3.4" transform="rotate(68 932.6 945.0)"/><ellipse cx="898.9" cy="949.1" rx="4.0" ry="4.5" transform="rotate(8 898.9 949.1)"/><ellipse cx="968.6" cy="948.3" rx="3.2" ry="5.0" transform="rotate(143 968.6 948.3)"/><ellipse cx="949.3" cy="911.1" rx="2.0" ry="2.3" transform="rotate(159 949.3 911.1)"/><ellipse cx="881.3" cy="937.5" rx="2.0" ry="3.1" transform="rotate(38 881.3 937.5)"/><ellipse cx="965.9" cy="1000.8" rx="1.7" ry="2.4" transform="rotate(107 965.9 1000.8)"/><ellipse cx="962.9" cy="913.8" rx="3.3" ry="3.7" transform="rotate(14 962.9 913.8)"/><ellipse cx="883.2" cy="949.6" rx="2.5" ry="3.1" transform="rotate(105 883.2 949.6)"/><ellipse cx="875.4" cy="987.9" rx="3.9" ry="5.9" transform="rotate(134 875.4 987.9)"/><ellipse cx="994.2" cy="939.3" rx="1.3" ry="1.8" transform="rotate(171 994.2 939.3)"/><ellipse cx="931.3" cy="1031.0" rx="1.4" ry="2.3" transform="rotate(151 931.3 1031.0)"/><ellipse cx="948.0" cy="980.4" rx="4.1" ry="6.0" transform="rotate(107 948.0 980.4)"/><ellipse cx="1007.1" cy="965.1" rx="2.2" ry="4.2" transform="rotate(156 1007.1 965.1)"/><ellipse cx="905.6" cy="907.2" rx="2.6" ry="3.8" transform="rotate(100 905.6 907.2)"/><ellipse cx="956.2" cy="989.3" rx="1.7" ry="2.7" transform="rotate(21 956.2 989.3)"/><ellipse cx="982.7" cy="989.5" rx="3.7" ry="5.9" transform="rotate(76 982.7 989.5)"/><ellipse cx="998.7" cy="971.8" rx="4.3" ry="5.3" transform="rotate(22 998.7 971.8)"/><ellipse cx="914.0" cy="945.0" rx="1.1" ry="1.4" transform="rotate(12 914.0 945.0)"/><ellipse cx="923.9" cy="918.9" rx="1.8" ry="2.1" transform="rotate(126 923.9 918.9)"/><ellipse cx="968.2" cy="930.4" rx="1.3" ry="2.3" transform="rotate(149 968.2 930.4)"/><ellipse cx="970.0" cy="995.5" rx="3.0" ry="4.1" transform="rotate(150 970.0 995.5)"/><ellipse cx="920.6" cy="981.5" rx="3.3" ry="4.5" transform="rotate(110 920.6 981.5)"/><ellipse cx="907.6" cy="963.5" rx="1.3" ry="1.6" transform="rotate(51 907.6 963.5)"/><ellipse cx="960.8" cy="964.3" rx="3.5" ry="4.9" transform="rotate(167 960.8 964.3)"/><ellipse cx="1002.2" cy="936.6" rx="4.2" ry="7.0" transform="rotate(175 1002.2 936.6)"/><ellipse cx="899.5" cy="965.8" rx="3.3" ry="4.2" transform="rotate(60 899.5 965.8)"/><ellipse cx="906.2" cy="1017.4" rx="3.0" ry="4.4" transform="rotate(94 906.2 1017.4)"/><ellipse cx="914.8" cy="970.8" rx="3.8" ry="5.0" transform="rotate(42 914.8 970.8)"/><ellipse cx="990.5" cy="917.6" rx="1.4" ry="2.0" transform="rotate(23 990.5 917.6)"/><ellipse cx="995.8" cy="947.8" rx="2.7" ry="4.7" transform="rotate(150 995.8 947.8)"/><ellipse cx="991.3" cy="999.1" rx="2.6" ry="4.2" transform="rotate(80 991.3 999.1)"/><ellipse cx="996.1" cy="927.4" rx="2.2" ry="3.5" transform="rotate(161 996.1 927.4)"/><ellipse cx="884.9" cy="961.9" rx="2.0" ry="2.9" transform="rotate(95 884.9 961.9)"/><ellipse cx="922.0" cy="1001.1" rx="1.6" ry="2.2" transform="rotate(77 922.0 1001.1)"/></g>
<g fill="none" stroke="#a3a3a3" stroke-width="0.9"><path d="M1020.0,982.5 Q1011.6,955.6 1005.4,937.9"/><path d="M1012.9,960.2 l1.3,-3.8"/><path d="M1008.7,947.3 l-2.5,-1.4"/><path d="M1020.0,982.5 Q1039.6,954.9 1035.8,928.2"/><path d="M1032.9,957.8 l2.4,-1.1"/><path d="M1036.3,941.6 l-2.7,-4.2"/><path d="M1020.0,982.5 Q1046.2,974.8 1056.2,954.9"/><path d="M1040.3,973.1 l0.4,-3.7"/><path d="M1050.2,964.1 l0.7,-3.6"/><path d="M1020.0,982.5 Q1034.8,1005.2 1059.6,1004.3"/><path d="M1035.3,998.2 l4.8,-1.6"/><path d="M1047.8,1003.3 l3.9,-1.2"/><path d="M1020.0,982.5 Q1039.8,996.3 1044.5,1014.4"/><path d="M1034.7,995.8 l2.8,0.5"/><path d="M1041.2,1005.6 l0.6,3.7"/><path d="M1020.0,982.5 Q1013.3,1004.5 1008.0,1018.9"/><path d="M1014.2,1000.8 l-4.1,2.8"/><path d="M1010.7,1011.2 l1.7,2.8"/><path d="M1020.0,982.5 Q1007.6,1005.7 986.3,1010.6"/><path d="M1007.1,999.7 l-3.8,-0.7"/><path d="M996.4,1007.0 l-4.5,0.2"/><path d="M1020.0,982.5 Q997.6,970.7 979.8,969.7"/><path d="M1000.8,974.1 l-3.3,0.8"/><path d="M989.0,970.9 l-1.8,-2.1"/><ellipse cx="1020.0" cy="986.4" rx="6.5" ry="4.2" transform="rotate(91 1020.0 986.4)"/><circle cx="1020.6" cy="976.6" r="3.6"/><ellipse cx="1073.1" cy="987.9" rx="2.5" ry="3.1" transform="rotate(31 1073.1 987.9)"/><ellipse cx="983.9" cy="990.1" rx="1.7" ry="2.6" transform="rotate(123 983.9 990.1)"/><ellipse cx="1006.9" cy="964.8" rx="2.7" ry="4.2" transform="rotate(117 1006.9 964.8)"/><ellipse cx="1077.2" cy="955.1" rx="3.1" ry="4.9" transform="rotate(38 1077.2 955.1)"/><ellipse cx="1064.0" cy="1000.4" rx="3.7" ry="4.4" transform="rotate(35 1064.0 1000.4)"/><ellipse cx="1020.5" cy="934.4" rx="1.6" ry="2.4" transform="rotate(47 1020.5 934.4)"/><ellipse cx="1010.4" cy="921.9" rx="4.1" ry="5.9" transform="rotate(51 1010.4 921.9)"/><ellipse cx="977.3" cy="1002.8" rx="2.4" ry="4.3" transform="rotate(28 977.3 1002.8)"/><ellipse cx="1061.0" cy="963.2" rx="3.1" ry="3.6" transform="rotate(84 1061.0 963.2)"/><ellipse cx="1001.3" cy="1019.7" rx="2.4" ry="3.8" transform="rotate(175 1001.3 1019.7)"/><ellipse cx="1061.8" cy="993.5" rx="2.3" ry="3.2" transform="rotate(107 1061.8 993.5)"/><ellipse cx="1008.4" cy="1021.9" rx="2.4" ry="2.9" transform="rotate(175 1008.4 1021.9)"/><ellipse cx="1004.8" cy="957.1" rx="3.1" ry="4.1" transform="rotate(157 1004.8 957.1)"/><ellipse cx="1021.5" cy="1034.2" rx="3.7" ry="4.4" transform="rotate(27 1021.5 1034.2)"/><ellipse cx="988.7" cy="962.8" rx="2.3" ry="3.6" transform="rotate(99 988.7 962.8)"/><ellipse cx="989.4" cy="1022.5" rx="3.7" ry="4.5" transform="rotate(62 989.4 1022.5)"/><ellipse cx="1031.3" cy="1044.1" rx="2.5" ry="3.8" transform="rotate(143 1031.3 1044.1)"/><ellipse cx="1029.7" cy="1007.2" rx="1.3" ry="2.0" transform="rotate(88 1029.7 1007.2)"/><ellipse cx="959.4" cy="1000.9" rx="2.5" ry="3.6" transform="rotate(56 959.4 1000.9)"/><ellipse cx="1028.2" cy="949.0" rx="2.3" ry="3.6" transform="rotate(28 1028.2 949.0)"/><ellipse cx="995.9" cy="963.1" rx="1.6" ry="2.1" transform="rotate(12 995.9 963.1)"/><ellipse cx="1072.4" cy="969.6" rx="3.8" ry="5.6" transform="rotate(49 1072.4 969.6)"/><ellipse cx="963.3" cy="1012.2" rx="1.1" ry="1.7" transform="rotate(3 963.3 1012.2)"/><ellipse cx="1020.4" cy="1047.1" rx="1.6" ry="3.0" transform="rotate(5 1020.4 1047.1)"/><ellipse cx="997.7" cy="927.7" rx="2.6" ry="2.9" transform="rotate(27 997.7 927.7)"/><ellipse cx="1080.1" cy="1004.4" rx="2.2" ry="3.5" transform="rotate(88 1080.1 1004.4)"/><ellipse cx="995.7" cy="957.3" rx="1.8" ry="2.4" transform="rotate(38 995.7 957.3)"/><ellipse cx="1013.1" cy="1033.1" rx="2.8" ry="3.8" transform="rotate(88 1013.1 1033.1)"/><ellipse cx="1042.3" cy="981.5" rx="3.3" ry="5.2" transform="rotate(32 1042.3 981.5)"/><ellipse cx="998.0" cy="1002.4" rx="3.0" ry="5.5" transform="rotate(45 998.0 1002.4)"/><ellipse cx="990.6" cy="984.8" rx="3.8" ry="5.5" transform="rotate(178 990.6 984.8)"/><ellipse cx="987.4" cy="947.3" rx="2.8" ry="3.5" transform="rotate(174 987.4 947.3)"/><ellipse cx="1050.6" cy="937.3" rx="3.6" ry="4.6" transform="rotate(173 1050.6 937.3)"/><ellipse cx="969.8" cy="1000.0" rx="2.3" ry="3.1" transform="rotate(50 969.8 1000.0)"/><ellipse cx="1068.7" cy="951.4" rx="2.5" ry="3.0" transform="rotate(24 1068.7 951.4)"/><ellipse cx="1011.5" cy="955.3" rx="2.3" ry="4.0" transform="rotate(17 1011.5 955.3)"/><ellipse cx="1006.4" cy="1001.3" rx="1.7" ry="2.5" transform="rotate(93 1006.4 1001.3)"/><ellipse cx="957.8" cy="989.2" rx="1.7" ry="2.0" transform="rotate(119 957.8 989.2)"/><ellipse cx="1063.7" cy="1027.6" rx="2.1" ry="3.1" transform="rotate(70 1063.7 1027.6)"/><ellipse cx="1035.3" cy="930.9" rx="2.7" ry="3.6" transform="rotate(34 1035.3 930.9)"/><ellipse cx="992.2" cy="932.3" rx="1.2" ry="1.5" transform="rotate(94 992.2 932.3)"/><ellipse cx="979.0" cy="994.7" rx="3.1" ry="5.4" transform="rotate(105 979.0 994.7)"/><ellipse cx="1052.4" cy="1030.9" rx="2.4" ry="3.6" transform="rotate(49 1052.4 1030.9)"/><ellipse cx="956.6" cy="981.8" rx="2.9" ry="3.8" transform="rotate(169 956.6 981.8)"/><ellipse cx="973.5" cy="976.1" rx="3.4" ry="4.1" transform="rotate(99 973.5 976.1)"/><ellipse cx="1036.0" cy="950.7" rx="3.1" ry="4.7" transform="rotate(143 1036.0 950.7)"/><ellipse cx="1045.4" cy="1029.7" rx="3.8" ry="5.0" transform="rotate(172 1045.4 1029.7)"/><ellipse cx="995.8" cy="991.7" rx="1.2" ry="1.8" transform="rotate(128 995.8 991.7)"/><ellipse cx="969.3" cy="1011.0" rx="3.5" ry="4.9" transform="rotate(41 969.3 1011.0)"/><ellipse cx="993.9" cy="1014.3" rx="3.9" ry="5.1" transform="rotate(155 993.9 1014.3)"/><ellipse cx="1063.8" cy="1019.0" rx="1.8" ry="2.5" transform="rotate(28 1063.8 1019.0)"/><ellipse cx="958.4" cy="970.1" rx="2.4" ry="3.5" transform="rotate(28 958.4 970.1)"/><ellipse cx="1025.4" cy="967.0" rx="3.4" ry="3.8" transform="rotate(74 1025.4 967.0)"/><ellipse cx="1061.8" cy="951.2" rx="2.9" ry="3.6" transform="rotate(165 1061.8 951.2)"/><ellipse cx="1076.4" cy="1013.3" rx="1.8" ry="2.7" transform="rotate(128 1076.4 1013.3)"/><ellipse cx="1064.1" cy="980.2" rx="1.7" ry="2.7" transform="rotate(32 1064.1 980.2)"/><ellipse cx="962.2" cy="990.7" rx="1.5" ry="2.2" transform="rotate(105 962.2 990.7)"/><ellipse cx="1051.1" cy="970.1" rx="1.4" ry="2.0" transform="rotate(159 1051.1 970.1)"/><ellipse cx="993.5" cy="942.3" rx="2.3" ry="3.3" transform="rotate(34 993.5 942.3)"/><ellipse cx="1000.4" cy="1029.6" rx="4.3" ry="4.9" transform="rotate(168 1000.4 1029.6)"/><ellipse cx="1043.7" cy="970.6" rx="2.9" ry="3.7" transform="rotate(77 1043.7 970.6)"/><ellipse cx="982.7" cy="966.5" rx="2.6" ry="4.0" transform="rotate(87 982.7 966.5)"/><ellipse cx="1054.7" cy="1003.6" rx="3.4" ry="5.8" transform="rotate(39 1054.7 1003.6)"/><ellipse cx="982.6" cy="1010.1" rx="2.5" ry="3.5" transform="rotate(17 982.6 1010.1)"/><ellipse cx="1055.9" cy="1026.2" rx="2.2" ry="2.7" transform="rotate(134 1055.9 1026.2)"/><ellipse cx="972.9" cy="966.8" rx="2.2" ry="3.5" transform="rotate(16 972.9 966.8)"/><ellipse cx="973.7" cy="985.5" rx="1.1" ry="1.5" transform="rotate(121 973.7 985.5)"/><ellipse cx="1046.5" cy="930.4" rx="2.9" ry="4.1" transform="rotate(148 1046.5 930.4)"/><ellipse cx="974.1" cy="1026.4" rx="3.9" ry="4.8" transform="rotate(38 974.1 1026.4)"/><ellipse cx="1051.3" cy="1022.0" rx="2.0" ry="2.9" transform="rotate(90 1051.3 1022.0)"/><ellipse cx="1028.4" cy="1029.4" rx="4.0" ry="5.6" transform="rotate(116 1028.4 1029.4)"/><ellipse cx="1039.8" cy="956.2" rx="1.6" ry="2.1" transform="rotate(168 1039.8 956.2)"/><ellipse cx="1009.6" cy="949.7" rx="2.4" ry="3.3" transform="rotate(52 1009.6 949.7)"/><ellipse cx="1054.1" cy="958.4" rx="2.9" ry="5.2" transform="rotate(75 1054.1 958.4)"/><ellipse cx="1005.5" cy="978.9" rx="3.8" ry="4.7" transform="rotate(101 1005.5 978.9)"/><ellipse cx="1040.2" cy="994.4" rx="1.4" ry="2.0" transform="rotate(73 1040.2 994.4)"/><ellipse cx="1071.2" cy="1005.1" rx="3.1" ry="4.0" transform="rotate(39 1071.2 1005.1)"/><ellipse cx="1047.8" cy="1038.7" rx="1.8" ry="2.7" transform="rotate(68 1047.8 1038.7)"/><ellipse cx="1001.7" cy="950.9" rx="2.2" ry="3.1" transform="rotate(88 1001.7 950.9)"/><ellipse cx="1067.0" cy="945.9" rx="2.0" ry="3.1" transform="rotate(169 1067.0 945.9)"/><ellipse cx="1020.2" cy="1025.0" rx="3.7" ry="4.1" transform="rotate(53 1020.2 1025.0)"/><ellipse cx="1040.1" cy="1022.9" rx="3.4" ry="5.2" transform="rotate(15 1040.1 1022.9)"/><ellipse cx="1045.3" cy="1010.3" rx="2.9" ry="4.0" transform="rotate(75 1045.3 1010.3)"/><ellipse cx="989.9" cy="1038.3" rx="2.9" ry="3.3" transform="rotate(51 989.9 1038.3)"/></g>
<g fill="none" stroke="#c6c29a" stroke-width="0.9"><path d="M1065.0,905.0 Q1079.5,914.7 1098.8,913.4"/><path d="M1076.8,907.9 l6.5,-3.2"/><path d="M1076.8,907.9 l4.2,5.8"/><path d="M1081.9,909.2 l6.5,-3.2"/><path d="M1081.9,909.2 l4.2,5.8"/><path d="M1087.0,910.5 l6.5,-3.2"/><path d="M1087.0,910.5 l4.2,5.8"/><path d="M1092.1,911.7 l6.5,-3.2"/><path d="M1092.1,911.7 l4.2,5.8"/><path d="M1065.0,905.0 Q1068.0,923.3 1083.2,937.3"/><path d="M1071.4,916.3 l6.7,2.5"/><path d="M1071.4,916.3 l-1.3,7.1"/><path d="M1074.1,921.1 l6.7,2.5"/><path d="M1074.1,921.1 l-1.3,7.1"/><path d="M1076.8,926.0 l6.7,2.5"/><path d="M1076.8,926.0 l-1.3,7.1"/><path d="M1079.6,930.8 l6.7,2.5"/><path d="M1079.6,930.8 l-1.3,7.1"/><path d="M1065.0,905.0 Q1057.8,920.6 1062.2,939.2"/><path d="M1064.0,917.0 l4.2,5.9"/><path d="M1064.0,917.0 l-5.1,5.1"/><path d="M1063.6,922.1 l4.2,5.9"/><path d="M1063.6,922.1 l-5.1,5.1"/><path d="M1063.2,927.3 l4.2,5.9"/><path d="M1063.2,927.3 l-5.1,5.1"/><path d="M1062.8,932.4 l4.2,5.9"/><path d="M1062.8,932.4 l-5.1,5.1"/><path d="M1065.0,905.0 Q1046.8,902.4 1029.1,912.5"/><path d="M1052.4,907.6 l-4.4,5.7"/><path d="M1052.4,907.6 l-6.3,-3.4"/><path d="M1047.0,908.8 l-4.4,5.7"/><path d="M1047.0,908.8 l-6.3,-3.4"/><path d="M1041.6,909.9 l-4.4,5.7"/><path d="M1041.6,909.9 l-6.3,-3.4"/><path d="M1036.2,911.0 l-4.4,5.7"/><path d="M1036.2,911.0 l-6.3,-3.4"/><path d="M1065.0,905.0 Q1055.1,893.9 1038.8,891.0"/><path d="M1055.8,900.1 l-7.0,1.5"/><path d="M1055.8,900.1 l-2.7,-6.7"/><path d="M1051.9,898.0 l-7.0,1.5"/><path d="M1051.9,898.0 l-2.7,-6.7"/><path d="M1048.0,895.9 l-7.0,1.5"/><path d="M1048.0,895.9 l-2.7,-6.7"/><path d="M1044.1,893.8 l-7.0,1.5"/><path d="M1044.1,893.8 l-2.7,-6.7"/><path d="M1065.0,905.0 Q1066.4,886.1 1054.6,868.5"/><path d="M1061.4,892.2 l-6.0,-4.0"/><path d="M1061.4,892.2 l3.0,-6.6"/><path d="M1059.8,886.8 l-6.0,-4.0"/><path d="M1059.8,886.8 l3.0,-6.6"/><path d="M1058.2,881.3 l-6.0,-4.0"/><path d="M1058.2,881.3 l3.0,-6.6"/><path d="M1056.7,875.8 l-6.0,-4.0"/><path d="M1056.7,875.8 l3.0,-6.6"/><path d="M1065.0,905.0 Q1076.0,894.0 1078.1,876.7"/><path d="M1069.6,895.1 l-1.9,-6.9"/><path d="M1069.6,895.1 l6.5,-3.0"/><path d="M1071.6,890.9 l-1.9,-6.9"/><path d="M1071.6,890.9 l6.5,-3.0"/><path d="M1073.5,886.6 l-1.9,-6.9"/><path d="M1073.5,886.6 l6.5,-3.0"/><path d="M1075.5,882.4 l-1.9,-6.9"/><path d="M1075.5,882.4 l6.5,-3.0"/><path d="M1025.6,918.0 l-1.2,-0.7"/><path d="M1044.0,940.3 l-0.3,0.5"/><path d="M1025.0,907.0 l-1.7,0.3"/><path d="M1091.8,923.1 l-1.2,0.8"/><path d="M1052.2,872.6 l-1.3,-1.5"/><path d="M1056.2,874.0 l1.4,-1.1"/><path d="M1099.3,907.8 l0.6,-0.8"/><path d="M1044.9,878.4 l0.4,-0.2"/><path d="M1043.4,879.3 l0.2,-0.3"/><path d="M1095.3,890.5 l1.5,0.8"/><path d="M1028.3,884.7 l-0.6,-1.5"/><path d="M1027.2,900.3 l-0.3,2.0"/><path d="M1095.3,931.7 l1.5,-2.0"/><path d="M1049.6,940.3 l0.9,1.8"/><path d="M1068.0,867.8 l-1.8,0.7"/><path d="M1033.1,914.2 l-0.7,-1.7"/><path d="M1097.9,926.8 l-1.0,-1.7"/><path d="M1052.8,941.7 l-1.8,-1.9"/><path d="M1030.8,903.6 l-2.0,-1.9"/><path d="M1026.9,898.4 l-1.5,-0.8"/><path d="M1059.8,937.8 l-0.4,-1.1"/><path d="M1070.0,938.6 l-0.8,0.2"/><path d="M1040.6,872.3 l-0.2,-2.0"/><path d="M1042.5,879.7 l-0.4,1.4"/><path d="M1053.2,944.3 l-0.5,-0.8"/><path d="M1096.5,927.5 l-0.9,1.5"/><path d="M1100.1,898.3 l-0.4,1.3"/><path d="M1094.7,926.4 l0.3,-1.2"/><path d="M1052.5,865.8 l0.1,1.7"/><path d="M1101.7,897.2 l0.9,-1.3"/><path d="M1084.8,876.2 l-1.6,1.9"/><path d="M1064.9,872.6 l0.5,-0.4"/><path d="M1032.0,886.2 l-0.6,-0.9"/><path d="M1046.7,878.1 l1.5,-0.5"/><path d="M1032.6,929.4 l-1.0,1.2"/><path d="M1099.6,927.5 l1.5,-0.7"/><path d="M1054.4,943.3 l2.0,-0.7"/><path d="M1097.2,916.0 l-1.5,-1.6"/><path d="M1104.9,910.1 l-1.5,-1.0"/><path d="M1070.4,872.0 l-2.0,0.7"/></g>
<g fill="none" stroke="#b2b58f" stroke-width="0.9"><path d="M817.5,1095.0 Q828.6,1117.5 835.3,1132.8"/><path d="M826.6,1113.8 l3.2,0.8"/><path d="M831.7,1124.7 l2.5,1.1"/><path d="M817.5,1095.0 Q815.6,1117.1 817.4,1132.0"/><path d="M816.5,1113.4 l2.0,3.3"/><path d="M816.7,1124.1 l2.2,2.3"/><path d="M817.5,1095.0 Q792.8,1104.8 775.1,1107.5"/><path d="M796.7,1102.4 l-2.8,-0.7"/><path d="M784.4,1105.7 l-3.2,-1.7"/><path d="M817.5,1095.0 Q803.6,1083.0 790.2,1081.1"/><path d="M805.1,1086.2 l-4.2,0.3"/><path d="M796.9,1082.7 l-1.9,-3.3"/><path d="M817.5,1095.0 Q809.5,1076.9 799.3,1067.5"/><path d="M809.8,1080.5 l0.7,-2.6"/><path d="M804.3,1072.7 l-4.0,-1.7"/><path d="M817.5,1095.0 Q834.7,1075.0 836.5,1055.4"/><path d="M829.9,1077.1 l-0.3,-3.2"/><path d="M834.7,1065.2 l3.6,-2.2"/><path d="M817.5,1095.0 Q837.6,1084.7 853.0,1082.4"/><path d="M834.6,1087.3 l2.7,1.0"/><path d="M845.0,1084.0 l2.1,0.7"/><path d="M817.5,1095.0 Q839.8,1108.4 860.7,1097.1"/><path d="M837.3,1102.0 l2.0,1.2"/><path d="M850.2,1101.2 l2.3,-1.8"/><ellipse cx="817.5" cy="1098.3" rx="5.5" ry="3.6" transform="rotate(176 817.5 1098.3)"/><circle cx="818.0" cy="1090.0" r="3.0"/><ellipse cx="807.0" cy="1075.9" rx="3.2" ry="3.8" transform="rotate(137 807.0 1075.9)"/><ellipse cx="818.9" cy="1148.1" rx="1.9" ry="2.0" transform="rotate(77 818.9 1148.1)"/><ellipse cx="841.6" cy="1100.6" rx="2.7" ry="3.3" transform="rotate(165 841.6 1100.6)"/><ellipse cx="816.2" cy="1070.1" rx="1.0" ry="1.5" transform="rotate(120 816.2 1070.1)"/><ellipse cx="786.1" cy="1115.6" rx="2.8" ry="4.1" transform="rotate(154 786.1 1115.6)"/><ellipse cx="861.6" cy="1104.8" rx="1.8" ry="3.0" transform="rotate(116 861.6 1104.8)"/><ellipse cx="831.4" cy="1114.4" rx="2.7" ry="3.8" transform="rotate(117 831.4 1114.4)"/><ellipse cx="765.3" cy="1101.9" rx="4.1" ry="4.8" transform="rotate(28 765.3 1101.9)"/><ellipse cx="822.5" cy="1060.6" rx="2.8" ry="3.5" transform="rotate(25 822.5 1060.6)"/><ellipse cx="845.0" cy="1128.0" rx="3.0" ry="3.8" transform="rotate(129 845.0 1128.0)"/><ellipse cx="803.6" cy="1121.8" rx="2.1" ry="2.6" transform="rotate(123 803.6 1121.8)"/><ellipse cx="835.8" cy="1050.5" rx="1.4" ry="2.1" transform="rotate(34 835.8 1050.5)"/><ellipse cx="827.6" cy="1051.5" rx="1.2" ry="1.7" transform="rotate(55 827.6 1051.5)"/><ellipse cx="775.0" cy="1127.4" rx="3.6" ry="4.3" transform="rotate(154 775.0 1127.4)"/><ellipse cx="774.1" cy="1093.7" rx="2.8" ry="5.1" transform="rotate(70 774.1 1093.7)"/><ellipse cx="816.4" cy="1051.5" rx="1.7" ry="2.9" transform="rotate(178 816.4 1051.5)"/><ellipse cx="776.8" cy="1083.1" rx="1.3" ry="1.7" transform="rotate(93 776.8 1083.1)"/><ellipse cx="795.2" cy="1072.8" rx="2.9" ry="4.7" transform="rotate(59 795.2 1072.8)"/><ellipse cx="842.4" cy="1067.8" rx="3.1" ry="4.6" transform="rotate(176 842.4 1067.8)"/><ellipse cx="855.3" cy="1081.9" rx="3.2" ry="4.2" transform="rotate(92 855.3 1081.9)"/><ellipse cx="864.2" cy="1117.1" rx="1.2" ry="1.3" transform="rotate(50 864.2 1117.1)"/><ellipse cx="841.9" cy="1080.5" rx="2.6" ry="3.6" transform="rotate(67 841.9 1080.5)"/><ellipse cx="826.7" cy="1137.5" rx="2.5" ry="3.6" transform="rotate(132 826.7 1137.5)"/><ellipse cx="836.1" cy="1055.7" rx="1.9" ry="2.7" transform="rotate(55 836.1 1055.7)"/><ellipse cx="782.6" cy="1089.6" rx="3.5" ry="3.8" transform="rotate(36 782.6 1089.6)"/><ellipse cx="806.7" cy="1044.5" rx="1.3" ry="2.0" transform="rotate(112 806.7 1044.5)"/><ellipse cx="844.9" cy="1142.4" rx="2.5" ry="3.2" transform="rotate(105 844.9 1142.4)"/><ellipse cx="840.4" cy="1108.0" rx="1.2" ry="1.9" transform="rotate(174 840.4 1108.0)"/><ellipse cx="765.2" cy="1092.7" rx="2.0" ry="2.8" transform="rotate(28 765.2 1092.7)"/><ellipse cx="795.5" cy="1055.2" rx="3.1" ry="3.6" transform="rotate(176 795.5 1055.2)"/><ellipse cx="782.8" cy="1133.1" rx="1.4" ry="1.8" transform="rotate(79 782.8 1133.1)"/><ellipse cx="855.4" cy="1092.8" rx="3.3" ry="5.9" transform="rotate(34 855.4 1092.8)"/><ellipse cx="853.5" cy="1072.8" rx="2.6" ry="3.1" transform="rotate(75 853.5 1072.8)"/><ellipse cx="774.2" cy="1069.6" rx="2.7" ry="3.7" transform="rotate(13 774.2 1069.6)"/><ellipse cx="836.1" cy="1062.5" rx="3.9" ry="4.5" transform="rotate(90 836.1 1062.5)"/><ellipse cx="811.7" cy="1118.6" rx="2.5" ry="4.5" transform="rotate(120 811.7 1118.6)"/><ellipse cx="796.8" cy="1122.6" rx="1.7" ry="2.1" transform="rotate(142 796.8 1122.6)"/><ellipse cx="852.8" cy="1102.3" rx="1.8" ry="2.4" transform="rotate(36 852.8 1102.3)"/><ellipse cx="843.0" cy="1087.4" rx="2.3" ry="3.0" transform="rotate(90 843.0 1087.4)"/><ellipse cx="780.4" cy="1065.6" rx="3.0" ry="3.4" transform="rotate(66 780.4 1065.6)"/><ellipse cx="814.9" cy="1109.1" rx="1.3" ry="1.9" transform="rotate(111 814.9 1109.1)"/><ellipse cx="850.7" cy="1123.0" rx="1.9" ry="2.9" transform="rotate(125 850.7 1123.0)"/><ellipse cx="847.2" cy="1077.0" rx="1.6" ry="1.9" transform="rotate(68 847.2 1077.0)"/><ellipse cx="837.3" cy="1138.7" rx="3.7" ry="5.0" transform="rotate(41 837.3 1138.7)"/><ellipse cx="808.5" cy="1134.4" rx="2.6" ry="4.0" transform="rotate(164 808.5 1134.4)"/><ellipse cx="848.0" cy="1061.1" rx="3.1" ry="4.4" transform="rotate(172 848.0 1061.1)"/><ellipse cx="865.4" cy="1090.3" rx="3.4" ry="4.0" transform="rotate(96 865.4 1090.3)"/><ellipse cx="789.7" cy="1099.0" rx="1.3" ry="1.5" transform="rotate(142 789.7 1099.0)"/><ellipse cx="786.4" cy="1107.2" rx="1.8" ry="2.6" transform="rotate(29 786.4 1107.2)"/><ellipse cx="802.7" cy="1144.2" rx="3.3" ry="4.7" transform="rotate(157 802.7 1144.2)"/><ellipse cx="830.6" cy="1087.4" rx="1.5" ry="2.0" transform="rotate(101 830.6 1087.4)"/><ellipse cx="810.1" cy="1057.8" rx="1.2" ry="1.6" transform="rotate(118 810.1 1057.8)"/><ellipse cx="771.5" cy="1107.2" rx="1.7" ry="2.2" transform="rotate(60 771.5 1107.2)"/><ellipse cx="816.2" cy="1044.1" rx="1.7" ry="2.9" transform="rotate(168 816.2 1044.1)"/><ellipse cx="801.8" cy="1080.8" rx="2.9" ry="3.6" transform="rotate(139 801.8 1080.8)"/><ellipse cx="765.1" cy="1087.5" rx="1.2" ry="1.4" transform="rotate(47 765.1 1087.5)"/><ellipse cx="809.4" cy="1067.5" rx="2.6" ry="3.6" transform="rotate(78 809.4 1067.5)"/><ellipse cx="834.6" cy="1072.1" rx="3.9" ry="5.4" transform="rotate(162 834.6 1072.1)"/><ellipse cx="790.6" cy="1134.7" rx="1.4" ry="2.1" transform="rotate(125 790.6 1134.7)"/><ellipse cx="794.4" cy="1087.4" rx="1.7" ry="2.4" transform="rotate(22 794.4 1087.4)"/><ellipse cx="820.2" cy="1081.0" rx="1.8" ry="2.3" transform="rotate(78 820.2 1081.0)"/><ellipse cx="861.8" cy="1073.7" rx="3.3" ry="4.1" transform="rotate(173 861.8 1073.7)"/><ellipse cx="785.0" cy="1077.9" rx="1.2" ry="1.9" transform="rotate(87 785.0 1077.9)"/><ellipse cx="841.1" cy="1115.9" rx="2.8" ry="4.4" transform="rotate(25 841.1 1115.9)"/><ellipse cx="838.3" cy="1129.1" rx="1.6" ry="3.0" transform="rotate(2 838.3 1129.1)"/><ellipse cx="799.9" cy="1114.1" rx="1.5" ry="2.5" transform="rotate(117 799.9 1114.1)"/><ellipse cx="859.4" cy="1117.5" rx="1.4" ry="1.7" transform="rotate(101 859.4 1117.5)"/><ellipse cx="827.7" cy="1045.9" rx="2.7" ry="4.5" transform="rotate(165 827.7 1045.9)"/><ellipse cx="808.5" cy="1111.9" rx="1.7" ry="2.5" transform="rotate(157 808.5 1111.9)"/><ellipse cx="786.8" cy="1062.2" rx="1.6" ry="2.1" transform="rotate(143 786.8 1062.2)"/><ellipse cx="800.3" cy="1048.9" rx="2.2" ry="3.0" transform="rotate(58 800.3 1048.9)"/></g>
<g fill="none" stroke="#a3a3a3" stroke-width="0.9"><path d="M1162.5,845.0 Q1180.9,846.0 1190.2,831.9"/><path d="M1177.2,842.9 l1.3,-3.6"/><path d="M1185.0,838.0 l2.2,0.9"/><path d="M1162.5,845.0 Q1174.4,859.4 1191.1,857.3"/><path d="M1174.2,854.7 l3.3,-1.7"/><path d="M1183.0,857.4 l0.9,2.1"/><path d="M1162.5,845.0 Q1168.8,868.7 1165.4,885.8"/><path d="M1166.2,865.0 l1.5,2.0"/><path d="M1166.5,876.9 l2.7,2.3"/><path d="M1162.5,845.0 Q1156.4,872.9 1143.9,888.8"/><path d="M1155.7,867.7 l0.6,2.7"/><path d="M1149.7,880.1 l0.8,2.8"/><path d="M1162.5,845.0 Q1140.9,851.9 1124.7,847.3"/><path d="M1144.1,848.9 l-2.5,-1.9"/><path d="M1133.1,848.9 l-2.3,1.9"/><path d="M1162.5,845.0 Q1145.6,831.9 1132.4,825.9"/><path d="M1148.0,834.7 l-0.8,-4.1"/><path d="M1139.2,829.4 l-2.0,-3.9"/><path d="M1162.5,845.0 Q1152.9,824.2 1150.0,809.0"/><path d="M1155.2,827.4 l-2.7,-1.6"/><path d="M1151.9,817.0 l-2.2,-1.4"/><path d="M1162.5,845.0 Q1161.8,822.8 1173.0,809.4"/><path d="M1164.3,826.8 l2.7,-1.6"/><path d="M1168.1,816.7 l-1.6,-3.6"/><ellipse cx="1162.5" cy="848.3" rx="5.5" ry="3.6" transform="rotate(116 1162.5 848.3)"/><circle cx="1163.0" cy="840.0" r="3.0"/><ellipse cx="1153.1" cy="819.7" rx="1.2" ry="2.0" transform="rotate(166 1153.1 819.7)"/><ellipse cx="1184.4" cy="813.4" rx="2.6" ry="3.7" transform="rotate(178 1184.4 813.4)"/><ellipse cx="1115.3" cy="853.1" rx="3.3" ry="4.1" transform="rotate(141 1115.3 853.1)"/><ellipse cx="1123.6" cy="813.5" rx="3.1" ry="5.1" transform="rotate(114 1123.6 813.5)"/><ellipse cx="1178.4" cy="874.6" rx="3.0" ry="3.9" transform="rotate(8 1178.4 874.6)"/><ellipse cx="1130.1" cy="888.3" rx="1.4" ry="1.9" transform="rotate(156 1130.1 888.3)"/><ellipse cx="1158.2" cy="870.5" rx="1.4" ry="1.8" transform="rotate(62 1158.2 870.5)"/><ellipse cx="1204.9" cy="823.4" rx="2.9" ry="4.5" transform="rotate(153 1204.9 823.4)"/><ellipse cx="1167.0" cy="860.0" rx="2.5" ry="3.9" transform="rotate(129 1167.0 860.0)"/><ellipse cx="1162.7" cy="883.5" rx="1.7" ry="2.2" transform="rotate(120 1162.7 883.5)"/><ellipse cx="1181.4" cy="829.3" rx="2.6" ry="4.1" transform="rotate(109 1181.4 829.3)"/><ellipse cx="1146.0" cy="846.4" rx="1.2" ry="1.3" transform="rotate(114 1146.0 846.4)"/><ellipse cx="1193.6" cy="800.1" rx="1.9" ry="2.3" transform="rotate(62 1193.6 800.1)"/><ellipse cx="1183.7" cy="798.3" rx="1.0" ry="1.6" transform="rotate(32 1183.7 798.3)"/><ellipse cx="1201.3" cy="814.1" rx="2.6" ry="4.3" transform="rotate(92 1201.3 814.1)"/><ellipse cx="1112.0" cy="841.9" rx="3.3" ry="5.0" transform="rotate(34 1112.0 841.9)"/><ellipse cx="1188.0" cy="819.2" rx="3.1" ry="4.7" transform="rotate(35 1188.0 819.2)"/><ellipse cx="1186.1" cy="852.8" rx="2.1" ry="3.2" transform="rotate(175 1186.1 852.8)"/><ellipse cx="1139.8" cy="836.4" rx="3.5" ry="4.9" transform="rotate(138 1139.8 836.4)"/><ellipse cx="1176.4" cy="840.4" rx="3.3" ry="4.8" transform="rotate(18 1176.4 840.4)"/><ellipse cx="1207.4" cy="816.2" rx="2.4" ry="3.6" transform="rotate(60 1207.4 816.2)"/><ellipse cx="1213.1" cy="825.6" rx="3.5" ry="4.9" transform="rotate(117 1213.1 825.6)"/><ellipse cx="1156.1" cy="877.1" rx="1.6" ry="3.0" transform="rotate(54 1156.1 877.1)"/><ellipse cx="1156.5" cy="858.6" rx="1.4" ry="1.9" transform="rotate(32 1156.5 858.6)"/><ellipse cx="1128.9" cy="864.9" rx="2.4" ry="2.9" transform="rotate(97 1128.9 864.9)"/><ellipse cx="1181.8" cy="865.1" rx="1.8" ry="2.3" transform="rotate(9 1181.8 865.1)"/><ellipse cx="1185.9" cy="795.4" rx="1.5" ry="2.3" transform="rotate(91 1185.9 795.4)"/><ellipse cx="1116.8" cy="818.8" rx="2.6" ry="2.9" transform="rotate(124 1116.8 818.8)"/><ellipse cx="1138.7" cy="801.3" rx="2.1" ry="2.5" transform="rotate(15 1138.7 801.3)"/><ellipse cx="1139.1" cy="852.1" rx="3.0" ry="4.5" transform="rotate(114 1139.1 852.1)"/><ellipse cx="1206.4" cy="850.7" rx="3.7" ry="4.6" transform="rotate(43 1206.4 850.7)"/><ellipse cx="1128.8" cy="832.4" rx="1.6" ry="2.7" transform="rotate(100 1128.8 832.4)"/><ellipse cx="1158.8" cy="895.0" rx="3.7" ry="4.3" transform="rotate(95 1158.8 895.0)"/><ellipse cx="1121.3" cy="824.7" rx="2.6" ry="4.0" transform="rotate(64 1121.3 824.7)"/><ellipse cx="1128.0" cy="880.5" rx="3.8" ry="4.7" transform="rotate(75 1128.0 880.5)"/><ellipse cx="1160.6" cy="822.3" rx="1.3" ry="1.6" transform="rotate(140 1160.6 822.3)"/><ellipse cx="1176.1" cy="809.9" rx="1.8" ry="2.3" transform="rotate(29 1176.1 809.9)"/><ellipse cx="1148.1" cy="860.2" rx="2.3" ry="3.0" transform="rotate(90 1148.1 860.2)"/><ellipse cx="1132.2" cy="859.1" rx="2.9" ry="4.9" transform="rotate(73 1132.2 859.1)"/><ellipse cx="1195.7" cy="822.3" rx="3.1" ry="3.7" transform="rotate(172 1195.7 822.3)"/><ellipse cx="1112.0" cy="860.7" rx="2.0" ry="3.3" transform="rotate(154 1112.0 860.7)"/><ellipse cx="1186.3" cy="888.2" rx="2.1" ry="2.3" transform="rotate(147 1186.3 888.2)"/><ellipse cx="1178.5" cy="816.7" rx="2.2" ry="2.8" transform="rotate(20 1178.5 816.7)"/><ellipse cx="1163.9" cy="815.0" rx="3.4" ry="4.3" transform="rotate(120 1163.9 815.0)"/><ellipse cx="1169.3" cy="883.1" rx="1.7" ry="2.0" transform="rotate(162 1169.3 883.1)"/><ellipse cx="1187.0" cy="800.1" rx="1.4" ry="1.8" transform="rotate(41 1187.0 800.1)"/><ellipse cx="1161.1" cy="878.8" rx="1.4" ry="1.9" transform="rotate(132 1161.1 878.8)"/><ellipse cx="1153.3" cy="812.0" rx="1.7" ry="2.6" transform="rotate(71 1153.3 812.0)"/><ellipse cx="1179.0" cy="895.0" rx="1.6" ry="2.3" transform="rotate(173 1179.0 895.0)"/><ellipse cx="1170.0" cy="897.7" rx="1.2" ry="1.8" transform="rotate(20 1170.0 897.7)"/><ellipse cx="1166.8" cy="808.5" rx="1.1" ry="1.5" transform="rotate(142 1166.8 808.5)"/><ellipse cx="1124.1" cy="853.8" rx="2.3" ry="3.7" transform="rotate(43 1124.1 853.8)"/><ellipse cx="1194.0" cy="854.1" rx="1.4" ry="2.3" transform="rotate(43 1194.0 854.1)"/><ellipse cx="1120.7" cy="844.1" rx="1.7" ry="2.7" transform="rotate(122 1120.7 844.1)"/><ellipse cx="1190.4" cy="866.4" rx="2.6" ry="2.8" transform="rotate(20 1190.4 866.4)"/><ellipse cx="1136.7" cy="826.7" rx="3.8" ry="4.5" transform="rotate(48 1136.7 826.7)"/><ellipse cx="1210.6" cy="838.6" rx="1.7" ry="3.0" transform="rotate(174 1210.6 838.6)"/><ellipse cx="1120.4" cy="870.7" rx="3.4" ry="4.8" transform="rotate(89 1120.4 870.7)"/><ellipse cx="1173.1" cy="791.1" rx="1.8" ry="2.2" transform="rotate(67 1173.1 791.1)"/><ellipse cx="1204.2" cy="870.5" rx="2.2" ry="3.1" transform="rotate(123 1204.2 870.5)"/><ellipse cx="1179.5" cy="794.4" rx="2.8" ry="3.8" transform="rotate(178 1179.5 794.4)"/><ellipse cx="1126.6" cy="820.9" rx="2.3" ry="3.5" transform="rotate(67 1126.6 820.9)"/><ellipse cx="1155.2" cy="793.1" rx="3.9" ry="5.2" transform="rotate(66 1155.2 793.1)"/><ellipse cx="1155.0" cy="832.9" rx="3.4" ry="4.9" transform="rotate(6 1155.0 832.9)"/><ellipse cx="1153.9" cy="890.2" rx="2.5" ry="3.1" transform="rotate(84 1153.9 890.2)"/><ellipse cx="1135.0" cy="841.1" rx="1.1" ry="1.5" transform="rotate(132 1135.0 841.1)"/><ellipse cx="1162.5" cy="790.8" rx="2.3" ry="4.0" transform="rotate(23 1162.5 790.8)"/><ellipse cx="1137.0" cy="878.1" rx="1.8" ry="2.5" transform="rotate(49 1137.0 878.1)"/><ellipse cx="1167.1" cy="877.0" rx="2.1" ry="3.0" transform="rotate(113 1167.1 877.0)"/><ellipse cx="1126.7" cy="839.5" rx="3.2" ry="3.8" transform="rotate(86 1126.7 839.5)"/><ellipse cx="1172.4" cy="801.0" rx="2.2" ry="2.8" transform="rotate(91 1172.4 801.0)"/></g>
<g fill="none" stroke="#cfcfcf" stroke-width="0.8"><ellipse cx="954.0" cy="850.0" rx="6.8" ry="2.7" transform="rotate(0 954.0 850.0)"/><ellipse cx="949.5" cy="857.8" rx="6.8" ry="2.7" transform="rotate(60 949.5 857.8)"/><ellipse cx="940.5" cy="857.8" rx="6.8" ry="2.7" transform="rotate(120 940.5 857.8)"/><ellipse cx="936.0" cy="850.0" rx="6.8" ry="2.7" transform="rotate(180 936.0 850.0)"/><ellipse cx="940.5" cy="842.2" rx="6.8" ry="2.7" transform="rotate(240 940.5 842.2)"/><ellipse cx="949.5" cy="842.2" rx="6.8" ry="2.7" transform="rotate(300 949.5 842.2)"/></g>
<g fill="none" stroke="#d2d2d2" stroke-width="0.8"><ellipse cx="1091.5" cy="1025.0" rx="6.8" ry="2.7" transform="rotate(0 1091.5 1025.0)"/><ellipse cx="1087.0" cy="1032.8" rx="6.8" ry="2.7" transform="rotate(60 1087.0 1032.8)"/><ellipse cx="1078.0" cy="1032.8" rx="6.8" ry="2.7" transform="rotate(120 1078.0 1032.8)"/><ellipse cx="1073.5" cy="1025.0" rx="6.8" ry="2.7" transform="rotate(180 1073.5 1025.0)"/><ellipse cx="1078.0" cy="1017.2" rx="6.8" ry="2.7" transform="rotate(240 1078.0 1017.2)"/><ellipse cx="1087.0" cy="1017.2" rx="6.8" ry="2.7" transform="rotate(300 1087.0 1017.2)"/></g>
<g fill="none" stroke="#888" stroke-width="1.0"><path d="M962.5,1040.0 L981.0,1046.5"/><path d="M973.6,1043.9 l4.5,-2.2"/><path d="M962.5,1040.0 L973.9,1048.9"/><path d="M969.3,1045.3 l0.5,5.0"/><path d="M962.5,1040.0 L955.7,1051.1"/><path d="M958.4,1046.7 l1.2,4.8"/><path d="M962.5,1040.0 L950.6,1042.2"/><path d="M955.4,1041.3 l-4.1,-2.9"/><path d="M962.5,1040.0 L959.9,1027.4"/><path d="M961.0,1032.4 l2.8,-4.1"/><path d="M962.5,1040.0 L969.7,1025.6"/><path d="M966.8,1031.3 l4.8,-1.5"/></g>
<g fill="none" stroke="#888" stroke-width="1.0"><path d="M1105.0,997.5 L1123.4,1000.7"/><path d="M1116.1,999.4 l4.0,-2.9"/><path d="M1105.0,997.5 L1114.1,1007.3"/><path d="M1110.4,1003.4 l5.0,0.1"/><path d="M1105.0,997.5 L1097.2,1007.6"/><path d="M1100.3,1003.5 l0.7,5.0"/><path d="M1105.0,997.5 L1091.2,994.0"/><path d="M1096.7,995.4 l-4.2,2.6"/><path d="M1105.0,997.5 L1094.8,981.6"/><path d="M1098.9,987.9 l-4.9,-1.0"/><path d="M1105.0,997.5 L1106.9,984.3"/><path d="M1106.2,989.6 l4.1,-2.9"/></g>
<g fill="none" stroke="#c4c4c4" stroke-width="0.9"><path d="M1422.0,952.0 Q1400.6,976.2 1376.4,980.6"/><path d="M1402.2,969.8 l-2.7,-0.5"/><path d="M1388.3,977.1 l-4.1,0.2"/><path d="M1422.0,952.0 Q1389.7,955.7 1368.8,962.2"/><path d="M1395.2,955.9 l-2.9,3.6"/><path d="M1380.0,959.1 l-2.5,-1.8"/><path d="M1422.0,952.0 Q1396.0,943.1 1387.8,921.5"/><path d="M1402.2,941.4 l-3.5,0.0"/><path d="M1393.0,931.5 l-0.8,-2.9"/><path d="M1422.0,952.0 Q1423.2,929.7 1421.7,914.7"/><path d="M1422.6,933.4 l-3.7,-3.6"/><path d="M1422.3,922.7 l-2.1,-3.5"/><path d="M1422.0,952.0 Q1447.1,931.3 1465.6,919.7"/><path d="M1443.3,935.2 l4.3,0.5"/><path d="M1455.9,926.1 l4.7,-0.5"/><path d="M1422.0,952.0 Q1443.7,947.9 1458.6,948.5"/><path d="M1440.1,949.2 l3.0,2.3"/><path d="M1450.7,948.5 l2.6,2.6"/><path d="M1422.0,952.0 Q1435.0,983.0 1459.6,993.6"/><path d="M1436.0,975.8 l4.2,1.3"/><path d="M1448.0,987.0 l2.9,0.7"/><path d="M1422.0,952.0 Q1424.5,978.1 1411.7,994.5"/><path d="M1421.1,973.6 l-2.7,2.2"/><path d="M1417.1,985.7 l-3.5,2.6"/><ellipse cx="1422.0" cy="955.9" rx="6.5" ry="4.2" transform="rotate(81 1422.0 955.9)"/><circle cx="1422.7" cy="946.1" r="3.6"/><ellipse cx="1462.3" cy="948.5" rx="1.7" ry="2.2" transform="rotate(145 1462.3 948.5)"/><ellipse cx="1371.4" cy="929.7" rx="2.9" ry="3.6" transform="rotate(134 1371.4 929.7)"/><ellipse cx="1449.1" cy="974.7" rx="3.7" ry="4.2" transform="rotate(94 1449.1 974.7)"/><ellipse cx="1441.5" cy="929.9" rx="2.4" ry="3.1" transform="rotate(14 1441.5 929.9)"/><ellipse cx="1402.5" cy="973.3" rx="1.9" ry="3.1" transform="rotate(125 1402.5 973.3)"/><ellipse cx="1390.8" cy="941.5" rx="4.2" ry="4.6" transform="rotate(13 1390.8 941.5)"/><ellipse cx="1393.2" cy="1007.2" rx="1.9" ry="2.3" transform="rotate(129 1393.2 1007.2)"/><ellipse cx="1407.5" cy="1004.7" rx="2.5" ry="4.2" transform="rotate(51 1407.5 1004.7)"/><ellipse cx="1444.6" cy="923.7" rx="2.1" ry="3.0" transform="rotate(0 1444.6 923.7)"/><ellipse cx="1420.5" cy="915.1" rx="3.8" ry="5.6" transform="rotate(10 1420.5 915.1)"/><ellipse cx="1392.4" cy="987.9" rx="2.6" ry="3.7" transform="rotate(164 1392.4 987.9)"/><ellipse cx="1385.2" cy="996.5" rx="1.3" ry="1.7" transform="rotate(23 1385.2 996.5)"/><ellipse cx="1371.9" cy="945.3" rx="1.8" ry="2.5" transform="rotate(128 1371.9 945.3)"/><ellipse cx="1476.0" cy="917.2" rx="1.5" ry="2.2" transform="rotate(19 1476.0 917.2)"/><ellipse cx="1446.2" cy="896.3" rx="1.3" ry="2.0" transform="rotate(135 1446.2 896.3)"/><ellipse cx="1442.7" cy="948.0" rx="1.3" ry="2.4" transform="rotate(87 1442.7 948.0)"/><ellipse cx="1452.8" cy="933.6" rx="3.2" ry="4.4" transform="rotate(21 1452.8 933.6)"/><ellipse cx="1399.3" cy="1012.4" rx="4.0" ry="5.6" transform="rotate(32 1399.3 1012.4)"/><ellipse cx="1460.4" cy="979.4" rx="2.7" ry="4.3" transform="rotate(40 1460.4 979.4)"/><ellipse cx="1429.2" cy="922.2" rx="1.5" ry="2.3" transform="rotate(77 1429.2 922.2)"/><ellipse cx="1481.4" cy="977.8" rx="3.7" ry="4.6" transform="rotate(43 1481.4 977.8)"/><ellipse cx="1449.6" cy="1007.7" rx="2.2" ry="3.6" transform="rotate(126 1449.6 1007.7)"/><ellipse cx="1391.8" cy="999.5" rx="2.8" ry="4.1" transform="rotate(80 1391.8 999.5)"/><ellipse cx="1466.1" cy="965.4" rx="1.1" ry="1.7" transform="rotate(47 1466.1 965.4)"/><ellipse cx="1457.5" cy="998.2" rx="2.8" ry="4.3" transform="rotate(170 1457.5 998.2)"/><ellipse cx="1408.2" cy="984.4" rx="1.4" ry="1.8" transform="rotate(45 1408.2 984.4)"/><ellipse cx="1416.6" cy="1001.3" rx="3.7" ry="4.5" transform="rotate(39 1416.6 1001.3)"/><ellipse cx="1423.7" cy="931.4" rx="1.6" ry="2.3" transform="rotate(17 1423.7 931.4)"/><ellipse cx="1385.3" cy="914.0" rx="4.4" ry="6.4" transform="rotate(95 1385.3 914.0)"/><ellipse cx="1379.9" cy="971.8" rx="1.7" ry="2.8" transform="rotate(91 1379.9 971.8)"/><ellipse cx="1416.5" cy="1012.1" rx="2.4" ry="4.0" transform="rotate(67 1416.5 1012.1)"/><ellipse cx="1467.9" cy="949.6" rx="1.1" ry="1.9" transform="rotate(79 1467.9 949.6)"/><ellipse cx="1363.3" cy="934.7" rx="1.2" ry="2.2" transform="rotate(164 1363.3 934.7)"/><ellipse cx="1451.8" cy="950.9" rx="3.7" ry="5.7" transform="rotate(95 1451.8 950.9)"/><ellipse cx="1416.9" cy="970.0" rx="2.6" ry="3.0" transform="rotate(125 1416.9 970.0)"/><ellipse cx="1460.8" cy="987.3" rx="2.7" ry="4.1" transform="rotate(64 1460.8 987.3)"/><ellipse cx="1444.0" cy="891.3" rx="1.4" ry="1.8" transform="rotate(169 1444.0 891.3)"/><ellipse cx="1396.8" cy="892.8" rx="3.4" ry="5.0" transform="rotate(106 1396.8 892.8)"/><ellipse cx="1475.8" cy="964.9" rx="4.2" ry="5.4" transform="rotate(103 1475.8 964.9)"/><ellipse cx="1370.5" cy="916.5" rx="3.0" ry="4.0" transform="rotate(67 1370.5 916.5)"/><ellipse cx="1413.9" cy="984.5" rx="2.2" ry="2.7" transform="rotate(158 1413.9 984.5)"/><ellipse cx="1386.5" cy="970.1" rx="2.0" ry="2.7" transform="rotate(50 1386.5 970.1)"/><ellipse cx="1463.4" cy="958.6" rx="4.3" ry="5.2" transform="rotate(151 1463.4 958.6)"/><ellipse cx="1407.0" cy="938.5" rx="3.4" ry="5.0" transform="rotate(110 1407.0 938.5)"/><ellipse cx="1403.0" cy="895.6" rx="1.4" ry="1.8" transform="rotate(136 1403.0 895.6)"/><ellipse cx="1359.3" cy="958.9" rx="3.5" ry="5.4" transform="rotate(140 1359.3 958.9)"/><ellipse cx="1462.9" cy="935.8" rx="2.0" ry="2.9" transform="rotate(14 1462.9 935.8)"/><ellipse cx="1483.4" cy="961.4" rx="2.0" ry="3.2" transform="rotate(169 1483.4 961.4)"/><ellipse cx="1377.9" cy="910.8" rx="1.8" ry="2.3" transform="rotate(10 1377.9 910.8)"/><ellipse cx="1429.9" cy="910.7" rx="3.5" ry="4.9" transform="rotate(60 1429.9 910.7)"/><ellipse cx="1396.9" cy="921.9" rx="3.7" ry="5.2" transform="rotate(92 1396.9 921.9)"/><ellipse cx="1428.8" cy="900.4" rx="2.3" ry="3.4" transform="rotate(68 1428.8 900.4)"/><ellipse cx="1375.7" cy="936.4" rx="1.8" ry="2.6" transform="rotate(35 1375.7 936.4)"/><ellipse cx="1461.0" cy="926.6" rx="2.9" ry="4.1" transform="rotate(66 1461.0 926.6)"/><ellipse cx="1483.3" cy="952.5" rx="1.4" ry="2.1" transform="rotate(103 1483.3 952.5)"/><ellipse cx="1375.3" cy="980.1" rx="3.8" ry="5.7" transform="rotate(31 1375.3 980.1)"/><ellipse cx="1425.3" cy="1008.9" rx="3.2" ry="5.2" transform="rotate(89 1425.3 1008.9)"/><ellipse cx="1381.2" cy="938.7" rx="2.8" ry="3.0" transform="rotate(9 1381.2 938.7)"/><ellipse cx="1468.2" cy="971.3" rx="4.2" ry="4.8" transform="rotate(33 1468.2 971.3)"/><ellipse cx="1477.9" cy="953.9" rx="1.4" ry="1.9" transform="rotate(5 1477.9 953.9)"/><ellipse cx="1429.7" cy="892.0" rx="3.1" ry="4.5" transform="rotate(66 1429.7 892.0)"/><ellipse cx="1486.0" cy="957.6" rx="1.2" ry="1.5" transform="rotate(61 1486.0 957.6)"/><ellipse cx="1485.4" cy="940.9" rx="3.7" ry="4.7" transform="rotate(72 1485.4 940.9)"/><ellipse cx="1435.6" cy="975.6" rx="2.6" ry="3.6" transform="rotate(167 1435.6 975.6)"/><ellipse cx="1395.8" cy="977.9" rx="2.8" ry="4.0" transform="rotate(134 1395.8 977.9)"/><ellipse cx="1407.1" cy="949.6" rx="3.7" ry="6.1" transform="rotate(122 1407.1 949.6)"/><ellipse cx="1453.6" cy="989.3" rx="3.1" ry="4.9" transform="rotate(161 1453.6 989.3)"/><ellipse cx="1466.1" cy="997.6" rx="3.5" ry="4.8" transform="rotate(4 1466.1 997.6)"/><ellipse cx="1415.3" cy="978.7" rx="2.7" ry="4.6" transform="rotate(80 1415.3 978.7)"/><ellipse cx="1412.9" cy="924.2" rx="3.2" ry="5.2" transform="rotate(150 1412.9 924.2)"/><ellipse cx="1456.6" cy="913.3" rx="3.1" ry="5.8" transform="rotate(125 1456.6 913.3)"/><ellipse cx="1451.9" cy="923.1" rx="2.4" ry="3.5" transform="rotate(127 1451.9 923.1)"/><ellipse cx="1429.5" cy="991.3" rx="2.0" ry="2.3" transform="rotate(143 1429.5 991.3)"/><ellipse cx="1367.4" cy="985.4" rx="4.2" ry="5.9" transform="rotate(102 1367.4 985.4)"/><ellipse cx="1387.2" cy="950.8" rx="3.0" ry="3.3" transform="rotate(60 1387.2 950.8)"/><ellipse cx="1445.2" cy="984.2" rx="2.9" ry="4.1" transform="rotate(58 1445.2 984.2)"/><ellipse cx="1368.8" cy="958.6" rx="2.6" ry="3.6" transform="rotate(22 1368.8 958.6)"/><ellipse cx="1439.5" cy="1000.3" rx="2.0" ry="3.3" transform="rotate(84 1439.5 1000.3)"/><ellipse cx="1400.5" cy="937.4" rx="1.7" ry="3.1" transform="rotate(15 1400.5 937.4)"/><ellipse cx="1371.8" cy="990.9" rx="1.8" ry="2.4" transform="rotate(111 1371.8 990.9)"/><ellipse cx="1398.7" cy="908.7" rx="4.4" ry="5.1" transform="rotate(20 1398.7 908.7)"/><ellipse cx="1436.8" cy="964.6" rx="1.5" ry="2.2" transform="rotate(93 1436.8 964.6)"/><ellipse cx="1424.5" cy="901.7" rx="1.2" ry="1.4" transform="rotate(135 1424.5 901.7)"/><ellipse cx="1472.0" cy="986.3" rx="2.8" ry="4.5" transform="rotate(35 1472.0 986.3)"/></g>
<g fill="none" stroke="#d8d8d8" stroke-width="0.9"><path d="M1813.0,1016.0 Q1811.4,990.9 1806.1,974.6"/><path d="M1810.8,995.2 l-3.5,-4.0"/><path d="M1808.5,983.3 l1.6,-4.3"/><path d="M1813.0,1016.0 Q1842.1,1005.4 1849.0,978.9"/><path d="M1834.7,1003.3 l3.3,-0.0"/><path d="M1844.2,991.2 l0.0,-5.0"/><path d="M1813.0,1016.0 Q1837.8,1010.7 1854.5,1007.8"/><path d="M1833.7,1011.7 l4.5,2.2"/><path d="M1845.6,1009.4 l3.6,-3.1"/><path d="M1813.0,1016.0 Q1830.3,1040.1 1842.1,1055.9"/><path d="M1827.4,1036.0 l4.4,1.1"/><path d="M1835.9,1047.5 l-1.0,4.9"/><path d="M1813.0,1016.0 Q1824.8,1047.7 1816.1,1072.3"/><path d="M1819.4,1043.1 l-2.2,3.8"/><path d="M1819.2,1059.6 l-2.0,2.4"/><path d="M1813.0,1016.0 Q1799.0,1035.7 1791.4,1049.9"/><path d="M1801.7,1032.6 l-0.2,3.3"/><path d="M1795.6,1042.5 l1.0,3.5"/><path d="M1813.0,1016.0 Q1790.2,1019.3 1774.7,1018.4"/><path d="M1793.9,1018.1 l-2.2,-1.8"/><path d="M1782.9,1018.6 l-3.3,3.6"/><path d="M1813.0,1016.0 Q1790.4,993.9 1784.5,971.7"/><path d="M1796.1,996.1 l0.3,-4.0"/><path d="M1788.5,982.8 l1.1,-5.2"/><ellipse cx="1813.0" cy="1020.1" rx="6.8" ry="4.4" transform="rotate(27 1813.0 1020.1)"/><circle cx="1813.7" cy="1009.9" r="3.7"/><ellipse cx="1825.5" cy="1026.5" rx="4.6" ry="6.1" transform="rotate(6 1825.5 1026.5)"/><ellipse cx="1788.3" cy="995.3" rx="3.7" ry="4.0" transform="rotate(175 1788.3 995.3)"/><ellipse cx="1805.0" cy="1045.8" rx="3.4" ry="6.2" transform="rotate(158 1805.0 1045.8)"/><ellipse cx="1867.8" cy="985.3" rx="3.3" ry="3.8" transform="rotate(147 1867.8 985.3)"/><ellipse cx="1784.7" cy="986.9" rx="3.0" ry="4.2" transform="rotate(37 1784.7 986.9)"/><ellipse cx="1816.5" cy="1051.6" rx="3.8" ry="5.0" transform="rotate(112 1816.5 1051.6)"/><ellipse cx="1848.1" cy="1035.7" rx="3.5" ry="4.9" transform="rotate(124 1848.1 1035.7)"/><ellipse cx="1798.4" cy="1027.0" rx="2.1" ry="3.1" transform="rotate(85 1798.4 1027.0)"/><ellipse cx="1816.7" cy="1071.7" rx="3.3" ry="3.5" transform="rotate(4 1816.7 1071.7)"/><ellipse cx="1840.9" cy="1009.6" rx="4.4" ry="5.0" transform="rotate(30 1840.9 1009.6)"/><ellipse cx="1860.3" cy="1033.1" rx="2.6" ry="3.4" transform="rotate(133 1860.3 1033.1)"/><ellipse cx="1778.7" cy="1035.7" rx="3.3" ry="4.8" transform="rotate(89 1778.7 1035.7)"/><ellipse cx="1817.9" cy="949.2" rx="4.1" ry="4.7" transform="rotate(147 1817.9 949.2)"/><ellipse cx="1828.1" cy="955.6" rx="3.7" ry="6.0" transform="rotate(141 1828.1 955.6)"/><ellipse cx="1833.1" cy="951.1" rx="1.8" ry="3.1" transform="rotate(102 1833.1 951.1)"/><ellipse cx="1769.8" cy="1040.1" rx="3.3" ry="4.1" transform="rotate(38 1769.8 1040.1)"/><ellipse cx="1832.1" cy="981.8" rx="3.6" ry="5.6" transform="rotate(156 1832.1 981.8)"/><ellipse cx="1789.6" cy="961.7" rx="3.2" ry="4.9" transform="rotate(168 1789.6 961.7)"/><ellipse cx="1801.3" cy="989.8" rx="3.6" ry="6.1" transform="rotate(64 1801.3 989.8)"/><ellipse cx="1764.5" cy="1017.5" rx="3.9" ry="5.5" transform="rotate(45 1764.5 1017.5)"/><ellipse cx="1814.5" cy="962.6" rx="3.2" ry="3.8" transform="rotate(148 1814.5 962.6)"/><ellipse cx="1834.8" cy="1043.1" rx="1.7" ry="2.0" transform="rotate(132 1834.8 1043.1)"/><ellipse cx="1865.0" cy="1013.2" rx="4.2" ry="5.4" transform="rotate(111 1865.0 1013.2)"/><ellipse cx="1786.6" cy="1018.9" rx="2.2" ry="3.1" transform="rotate(87 1786.6 1018.9)"/><ellipse cx="1835.6" cy="968.8" rx="4.0" ry="4.4" transform="rotate(140 1835.6 968.8)"/><ellipse cx="1763.0" cy="992.3" rx="3.5" ry="5.1" transform="rotate(74 1763.0 992.3)"/><ellipse cx="1756.1" cy="1045.9" rx="1.8" ry="2.3" transform="rotate(126 1756.1 1045.9)"/><ellipse cx="1854.0" cy="1060.4" rx="2.6" ry="4.2" transform="rotate(81 1854.0 1060.4)"/><ellipse cx="1857.2" cy="991.2" rx="3.6" ry="6.0" transform="rotate(171 1857.2 991.2)"/><ellipse cx="1778.5" cy="973.6" rx="2.7" ry="3.8" transform="rotate(115 1778.5 973.6)"/><ellipse cx="1781.0" cy="961.2" rx="3.8" ry="5.1" transform="rotate(128 1781.0 961.2)"/><ellipse cx="1872.0" cy="1020.2" rx="2.1" ry="3.0" transform="rotate(43 1872.0 1020.2)"/><ellipse cx="1840.1" cy="1026.5" rx="3.5" ry="4.8" transform="rotate(14 1840.1 1026.5)"/><ellipse cx="1768.6" cy="979.2" rx="3.1" ry="4.1" transform="rotate(19 1768.6 979.2)"/><ellipse cx="1766.9" cy="1061.5" rx="2.3" ry="2.9" transform="rotate(53 1766.9 1061.5)"/><ellipse cx="1768.3" cy="988.0" rx="1.3" ry="2.2" transform="rotate(44 1768.3 988.0)"/><ellipse cx="1750.1" cy="1001.2" rx="2.9" ry="4.2" transform="rotate(141 1750.1 1001.2)"/><ellipse cx="1774.0" cy="966.8" rx="2.6" ry="3.8" transform="rotate(75 1774.0 966.8)"/><ellipse cx="1747.0" cy="1016.1" rx="2.5" ry="3.4" transform="rotate(49 1747.0 1016.1)"/><ellipse cx="1760.5" cy="1054.7" rx="3.3" ry="3.8" transform="rotate(118 1760.5 1054.7)"/><ellipse cx="1760.2" cy="1023.6" rx="1.7" ry="2.6" transform="rotate(28 1760.2 1023.6)"/><ellipse cx="1835.0" cy="1076.0" rx="2.1" ry="3.6" transform="rotate(89 1835.0 1076.0)"/><ellipse cx="1871.7" cy="1009.2" rx="3.3" ry="4.0" transform="rotate(172 1871.7 1009.2)"/><ellipse cx="1870.9" cy="1038.0" rx="3.3" ry="4.6" transform="rotate(73 1870.9 1038.0)"/><ellipse cx="1851.7" cy="1012.1" rx="1.4" ry="2.0" transform="rotate(141 1851.7 1012.1)"/><ellipse cx="1853.0" cy="1053.1" rx="3.6" ry="4.7" transform="rotate(54 1853.0 1053.1)"/><ellipse cx="1863.0" cy="971.8" rx="2.4" ry="3.0" transform="rotate(49 1863.0 971.8)"/><ellipse cx="1859.8" cy="1039.7" rx="2.8" ry="3.7" transform="rotate(120 1859.8 1039.7)"/><ellipse cx="1779.0" cy="997.6" rx="1.6" ry="2.7" transform="rotate(4 1779.0 997.6)"/><ellipse cx="1756.7" cy="983.5" rx="1.9" ry="2.8" transform="rotate(54 1756.7 983.5)"/><ellipse cx="1790.8" cy="970.6" rx="3.1" ry="4.4" transform="rotate(36 1790.8 970.6)"/><ellipse cx="1858.5" cy="1016.0" rx="1.4" ry="1.8" transform="rotate(106 1858.5 1016.0)"/><ellipse cx="1804.0" cy="1059.2" rx="2.6" ry="4.3" transform="rotate(64 1804.0 1059.2)"/><ellipse cx="1749.6" cy="1024.8" rx="2.9" ry="3.5" transform="rotate(23 1749.6 1024.8)"/><ellipse cx="1760.4" cy="1007.9" rx="2.6" ry="4.2" transform="rotate(123 1760.4 1007.9)"/><ellipse cx="1771.7" cy="1012.1" rx="3.2" ry="4.1" transform="rotate(153 1771.7 1012.1)"/><ellipse cx="1796.4" cy="976.4" rx="2.6" ry="4.0" transform="rotate(11 1796.4 976.4)"/><ellipse cx="1821.3" cy="984.3" rx="3.0" ry="3.5" transform="rotate(51 1821.3 984.3)"/><ellipse cx="1823.0" cy="976.7" rx="2.9" ry="4.3" transform="rotate(174 1823.0 976.7)"/><ellipse cx="1776.5" cy="1071.7" rx="3.8" ry="6.0" transform="rotate(20 1776.5 1071.7)"/><ellipse cx="1793.9" cy="1044.9" rx="3.2" ry="5.8" transform="rotate(93 1793.9 1044.9)"/><ellipse cx="1804.7" cy="1002.5" rx="3.3" ry="5.0" transform="rotate(118 1804.7 1002.5)"/><ellipse cx="1800.6" cy="965.3" rx="2.1" ry="3.3" transform="rotate(148 1800.6 965.3)"/><ellipse cx="1783.2" cy="1045.5" rx="3.1" ry="4.5" transform="rotate(11 1783.2 1045.5)"/><ellipse cx="1778.9" cy="981.5" rx="3.2" ry="3.7" transform="rotate(173 1778.9 981.5)"/><ellipse cx="1842.8" cy="1051.8" rx="4.1" ry="5.0" transform="rotate(171 1842.8 1051.8)"/><ellipse cx="1829.6" cy="1064.0" rx="3.6" ry="4.9" transform="rotate(42 1829.6 1064.0)"/><ellipse cx="1820.3" cy="969.3" rx="2.9" ry="3.5" transform="rotate(120 1820.3 969.3)"/><ellipse cx="1804.6" cy="1075.2" rx="2.2" ry="3.5" transform="rotate(84 1804.6 1075.2)"/><ellipse cx="1851.1" cy="1072.0" rx="2.4" ry="3.8" transform="rotate(128 1851.1 1072.0)"/><ellipse cx="1842.7" cy="962.5" rx="2.8" ry="3.8" transform="rotate(15 1842.7 962.5)"/><ellipse cx="1812.6" cy="979.5" rx="3.1" ry="3.6" transform="rotate(146 1812.6 979.5)"/><ellipse cx="1771.1" cy="993.9" rx="2.3" ry="3.0" transform="rotate(73 1771.1 993.9)"/><ellipse cx="1827.9" cy="1010.4" rx="3.9" ry="6.0" transform="rotate(62 1827.9 1010.4)"/><ellipse cx="1848.5" cy="967.1" rx="2.3" ry="3.2" transform="rotate(87 1848.5 967.1)"/><ellipse cx="1822.0" cy="1075.6" rx="1.8" ry="3.2" transform="rotate(111 1822.0 1075.6)"/><ellipse cx="1850.5" cy="1017.4" rx="3.0" ry="4.6" transform="rotate(6 1850.5 1017.4)"/><ellipse cx="1772.2" cy="1050.5" rx="1.4" ry="2.0" transform="rotate(129 1772.2 1050.5)"/><ellipse cx="1844.9" cy="1068.6" rx="3.6" ry="5.1" transform="rotate(154 1844.9 1068.6)"/><ellipse cx="1803.3" cy="971.6" rx="3.3" ry="3.5" transform="rotate(109 1803.3 971.6)"/><ellipse cx="1817.6" cy="956.0" rx="1.4" ry="1.9" transform="rotate(107 1817.6 956.0)"/><ellipse cx="1818.9" cy="1039.3" rx="3.1" ry="5.3" transform="rotate(53 1818.9 1039.3)"/><ellipse cx="1765.1" cy="1049.1" rx="1.3" ry="1.7" transform="rotate(26 1765.1 1049.1)"/><ellipse cx="1868.5" cy="994.9" rx="3.0" ry="3.8" transform="rotate(7 1868.5 994.9)"/><ellipse cx="1873.0" cy="1029.8" rx="2.3" ry="3.6" transform="rotate(61 1873.0 1029.8)"/><ellipse cx="1783.4" cy="1005.0" rx="2.5" ry="4.0" transform="rotate(144 1783.4 1005.0)"/><ellipse cx="1829.2" cy="963.5" rx="2.3" ry="3.1" transform="rotate(5 1829.2 963.5)"/><ellipse cx="1850.2" cy="977.9" rx="4.3" ry="6.5" transform="rotate(86 1850.2 977.9)"/><ellipse cx="1865.6" cy="1047.3" rx="3.5" ry="4.5" transform="rotate(90 1865.6 1047.3)"/><ellipse cx="1799.7" cy="1068.1" rx="3.3" ry="4.3" transform="rotate(174 1799.7 1068.1)"/><ellipse cx="1779.3" cy="1016.8" rx="3.6" ry="5.0" transform="rotate(15 1779.3 1016.8)"/><ellipse cx="1854.6" cy="998.6" rx="2.3" ry="2.8" transform="rotate(124 1854.6 998.6)"/><ellipse cx="1820.3" cy="996.0" rx="2.7" ry="3.8" transform="rotate(103 1820.3 996.0)"/><ellipse cx="1808.7" cy="986.9" rx="2.6" ry="3.4" transform="rotate(36 1808.7 986.9)"/><ellipse cx="1788.5" cy="1070.2" rx="3.2" ry="4.3" transform="rotate(163 1788.5 1070.2)"/><ellipse cx="1830.3" cy="996.9" rx="1.8" ry="2.6" transform="rotate(97 1830.3 996.9)"/><ellipse cx="1769.2" cy="972.0" rx="2.8" ry="4.7" transform="rotate(169 1769.2 972.0)"/><ellipse cx="1876.8" cy="994.8" rx="3.7" ry="4.0" transform="rotate(101 1876.8 994.8)"/><ellipse cx="1773.6" cy="1030.8" rx="1.5" ry="1.7" transform="rotate(9 1773.6 1030.8)"/><ellipse cx="1782.3" cy="1076.6" rx="2.2" ry="3.6" transform="rotate(138 1782.3 1076.6)"/></g>
<g fill="none" stroke="#d8d8d8" stroke-width="0.9"><path d="M1727.0,1106.0 Q1702.2,1083.8 1698.6,1058.4"/><path d="M1709.0,1085.4 l-3.6,-1.7"/><path d="M1701.8,1070.9 l0.5,-4.6"/><path d="M1727.0,1106.0 Q1726.4,1073.4 1726.4,1051.6"/><path d="M1726.6,1078.8 l-3.0,-2.9"/><path d="M1726.4,1063.2 l-2.5,-2.7"/><path d="M1727.0,1106.0 Q1743.1,1091.3 1755.3,1083.2"/><path d="M1740.7,1094.1 l5.0,-0.9"/><path d="M1748.9,1087.7 l4.1,-0.3"/><path d="M1727.0,1106.0 Q1755.3,1113.9 1775.8,1109.3"/><path d="M1750.9,1110.5 l3.2,-1.6"/><path d="M1765.1,1110.8 l2.7,3.7"/><path d="M1727.0,1106.0 Q1755.5,1114.4 1764.8,1138.0"/><path d="M1748.8,1116.6 l0.3,3.2"/><path d="M1759.0,1127.2 l5.0,0.7"/><path d="M1727.0,1106.0 Q1734.6,1136.0 1731.9,1157.4"/><path d="M1731.8,1131.3 l-2.1,4.6"/><path d="M1732.6,1146.2 l-1.8,3.0"/><path d="M1727.0,1106.0 Q1708.2,1120.0 1692.8,1124.6"/><path d="M1710.8,1116.7 l-1.1,2.8"/><path d="M1700.7,1121.7 l-3.3,-0.8"/><path d="M1727.0,1106.0 Q1703.1,1095.5 1685.2,1094.0"/><path d="M1706.7,1098.4 l-2.5,-3.1"/><path d="M1694.5,1095.3 l-3.5,1.3"/><ellipse cx="1727.0" cy="1109.8" rx="6.4" ry="4.2" transform="rotate(92 1727.0 1109.8)"/><circle cx="1727.6" cy="1100.2" r="3.5"/><ellipse cx="1768.6" cy="1078.5" rx="2.1" ry="2.8" transform="rotate(161 1768.6 1078.5)"/><ellipse cx="1780.6" cy="1107.3" rx="1.5" ry="1.8" transform="rotate(111 1780.6 1107.3)"/><ellipse cx="1704.7" cy="1096.8" rx="2.5" ry="2.9" transform="rotate(161 1704.7 1096.8)"/><ellipse cx="1724.1" cy="1047.0" rx="2.9" ry="3.8" transform="rotate(151 1724.1 1047.0)"/><ellipse cx="1698.3" cy="1131.7" rx="3.6" ry="6.2" transform="rotate(33 1698.3 1131.7)"/><ellipse cx="1710.6" cy="1163.0" rx="1.7" ry="2.6" transform="rotate(18 1710.6 1163.0)"/><ellipse cx="1758.0" cy="1066.5" rx="1.3" ry="1.6" transform="rotate(84 1758.0 1066.5)"/><ellipse cx="1672.9" cy="1128.6" rx="2.0" ry="3.5" transform="rotate(27 1672.9 1128.6)"/><ellipse cx="1770.1" cy="1149.1" rx="3.2" ry="3.6" transform="rotate(78 1770.1 1149.1)"/><ellipse cx="1753.2" cy="1132.6" rx="2.2" ry="4.0" transform="rotate(30 1753.2 1132.6)"/><ellipse cx="1714.9" cy="1059.3" rx="1.4" ry="1.9" transform="rotate(104 1714.9 1059.3)"/><ellipse cx="1756.6" cy="1092.1" rx="1.9" ry="2.7" transform="rotate(138 1756.6 1092.1)"/><ellipse cx="1700.3" cy="1075.8" rx="2.0" ry="2.4" transform="rotate(63 1700.3 1075.8)"/><ellipse cx="1665.2" cy="1117.6" rx="1.4" ry="2.0" transform="rotate(132 1665.2 1117.6)"/><ellipse cx="1732.6" cy="1087.0" rx="1.8" ry="2.7" transform="rotate(98 1732.6 1087.0)"/><ellipse cx="1703.1" cy="1068.9" rx="1.7" ry="2.6" transform="rotate(168 1703.1 1068.9)"/><ellipse cx="1716.2" cy="1052.9" rx="3.8" ry="5.2" transform="rotate(178 1716.2 1052.9)"/><ellipse cx="1715.0" cy="1123.5" rx="3.8" ry="5.3" transform="rotate(34 1715.0 1123.5)"/><ellipse cx="1737.3" cy="1162.6" rx="2.9" ry="4.7" transform="rotate(40 1737.3 1162.6)"/><ellipse cx="1712.8" cy="1142.9" rx="2.0" ry="3.0" transform="rotate(48 1712.8 1142.9)"/><ellipse cx="1744.4" cy="1075.7" rx="1.6" ry="1.8" transform="rotate(10 1744.4 1075.7)"/><ellipse cx="1739.6" cy="1048.1" rx="3.4" ry="6.0" transform="rotate(54 1739.6 1048.1)"/><ellipse cx="1674.7" cy="1082.8" rx="2.7" ry="3.3" transform="rotate(96 1674.7 1082.8)"/><ellipse cx="1690.7" cy="1059.5" rx="3.9" ry="4.2" transform="rotate(139 1690.7 1059.5)"/><ellipse cx="1666.2" cy="1090.5" rx="2.4" ry="2.8" transform="rotate(136 1666.2 1090.5)"/><ellipse cx="1782.0" cy="1114.5" rx="2.9" ry="4.4" transform="rotate(77 1782.0 1114.5)"/><ellipse cx="1749.9" cy="1109.2" rx="1.9" ry="2.7" transform="rotate(110 1749.9 1109.2)"/><ellipse cx="1753.9" cy="1160.1" rx="2.9" ry="4.3" transform="rotate(173 1753.9 1160.1)"/><ellipse cx="1692.2" cy="1085.0" rx="2.5" ry="3.8" transform="rotate(174 1692.2 1085.0)"/><ellipse cx="1744.1" cy="1158.8" rx="2.1" ry="3.1" transform="rotate(83 1744.1 1158.8)"/><ellipse cx="1702.4" cy="1117.4" rx="3.9" ry="5.9" transform="rotate(176 1702.4 1117.4)"/><ellipse cx="1704.6" cy="1140.7" rx="2.3" ry="3.1" transform="rotate(25 1704.6 1140.7)"/><ellipse cx="1721.4" cy="1132.9" rx="4.1" ry="5.1" transform="rotate(134 1721.4 1132.9)"/><ellipse cx="1756.4" cy="1125.6" rx="4.2" ry="5.3" transform="rotate(75 1756.4 1125.6)"/><ellipse cx="1717.7" cy="1093.4" rx="2.2" ry="3.3" transform="rotate(4 1717.7 1093.4)"/><ellipse cx="1748.2" cy="1057.3" rx="2.4" ry="3.8" transform="rotate(125 1748.2 1057.3)"/><ellipse cx="1682.9" cy="1087.2" rx="2.2" ry="2.9" transform="rotate(131 1682.9 1087.2)"/><ellipse cx="1688.0" cy="1126.7" rx="3.5" ry="4.1" transform="rotate(130 1688.0 1126.7)"/><ellipse cx="1789.7" cy="1098.9" rx="3.2" ry="5.3" transform="rotate(34 1789.7 1098.9)"/><ellipse cx="1746.6" cy="1094.2" rx="1.9" ry="2.7" transform="rotate(49 1746.6 1094.2)"/><ellipse cx="1783.9" cy="1078.0" rx="3.0" ry="4.3" transform="rotate(79 1783.9 1078.0)"/><ellipse cx="1779.5" cy="1101.7" rx="1.4" ry="2.2" transform="rotate(112 1779.5 1101.7)"/><ellipse cx="1717.5" cy="1069.7" rx="3.1" ry="4.4" transform="rotate(122 1717.5 1069.7)"/><ellipse cx="1705.1" cy="1048.5" rx="3.5" ry="5.4" transform="rotate(46 1705.1 1048.5)"/><ellipse cx="1702.1" cy="1090.3" rx="2.8" ry="4.3" transform="rotate(98 1702.1 1090.3)"/><ellipse cx="1705.4" cy="1057.4" rx="2.8" ry="3.8" transform="rotate(109 1705.4 1057.4)"/><ellipse cx="1673.0" cy="1094.3" rx="3.6" ry="4.2" transform="rotate(128 1673.0 1094.3)"/><ellipse cx="1681.1" cy="1072.3" rx="4.4" ry="4.9" transform="rotate(75 1681.1 1072.3)"/><ellipse cx="1764.1" cy="1058.4" rx="1.8" ry="2.4" transform="rotate(178 1764.1 1058.4)"/><ellipse cx="1769.7" cy="1123.0" rx="3.0" ry="3.2" transform="rotate(76 1769.7 1123.0)"/><ellipse cx="1728.9" cy="1162.4" rx="2.4" ry="3.2" transform="rotate(118 1728.9 1162.4)"/><ellipse cx="1789.7" cy="1107.4" rx="3.2" ry="4.0" transform="rotate(122 1789.7 1107.4)"/><ellipse cx="1723.2" cy="1121.8" rx="3.2" ry="5.1" transform="rotate(58 1723.2 1121.8)"/><ellipse cx="1721.9" cy="1057.6" rx="2.1" ry="3.8" transform="rotate(82 1721.9 1057.6)"/><ellipse cx="1735.7" cy="1054.5" rx="1.6" ry="2.1" transform="rotate(46 1735.7 1054.5)"/><ellipse cx="1735.7" cy="1126.6" rx="2.9" ry="4.0" transform="rotate(101 1735.7 1126.6)"/><ellipse cx="1747.6" cy="1139.2" rx="1.7" ry="2.2" transform="rotate(34 1747.6 1139.2)"/><ellipse cx="1702.2" cy="1157.1" rx="2.4" ry="2.9" transform="rotate(86 1702.2 1157.1)"/><ellipse cx="1776.7" cy="1093.0" rx="2.9" ry="3.8" transform="rotate(149 1776.7 1093.0)"/><ellipse cx="1729.7" cy="1149.7" rx="3.3" ry="5.3" transform="rotate(89 1729.7 1149.7)"/><ellipse cx="1695.1" cy="1105.3" rx="2.2" ry="2.9" transform="rotate(56 1695.1 1105.3)"/><ellipse cx="1757.4" cy="1141.2" rx="3.4" ry="3.9" transform="rotate(24 1757.4 1141.2)"/><ellipse cx="1760.3" cy="1157.5" rx="2.8" ry="4.4" transform="rotate(2 1760.3 1157.5)"/><ellipse cx="1741.7" cy="1144.7" rx="3.6" ry="6.4" transform="rotate(55 1741.7 1144.7)"/><ellipse cx="1677.0" cy="1118.8" rx="2.6" ry="4.5" transform="rotate(99 1677.0 1118.8)"/><ellipse cx="1743.5" cy="1105.1" rx="2.7" ry="4.3" transform="rotate(57 1743.5 1105.1)"/><ellipse cx="1732.7" cy="1138.8" rx="2.8" ry="4.6" transform="rotate(40 1732.7 1138.8)"/><ellipse cx="1729.9" cy="1156.4" rx="1.9" ry="2.7" transform="rotate(8 1729.9 1156.4)"/><ellipse cx="1738.0" cy="1065.1" rx="2.7" ry="3.7" transform="rotate(106 1738.0 1065.1)"/><ellipse cx="1776.4" cy="1072.3" rx="3.4" ry="4.6" transform="rotate(22 1776.4 1072.3)"/><ellipse cx="1772.9" cy="1102.9" rx="2.1" ry="3.6" transform="rotate(106 1772.9 1102.9)"/><ellipse cx="1744.6" cy="1065.8" rx="1.3" ry="1.8" transform="rotate(132 1744.6 1065.8)"/><ellipse cx="1763.9" cy="1127.8" rx="3.3" ry="3.5" transform="rotate(11 1763.9 1127.8)"/><ellipse cx="1737.5" cy="1081.1" rx="1.1" ry="1.7" transform="rotate(85 1737.5 1081.1)"/><ellipse cx="1723.9" cy="1071.9" rx="1.3" ry="1.8" transform="rotate(156 1723.9 1071.9)"/><ellipse cx="1670.9" cy="1101.7" rx="2.6" ry="3.9" transform="rotate(15 1670.9 1101.7)"/><ellipse cx="1667.2" cy="1107.5" rx="3.0" ry="3.3" transform="rotate(168 1667.2 1107.5)"/><ellipse cx="1725.9" cy="1066.0" rx="3.5" ry="3.6" transform="rotate(30 1725.9 1066.0)"/><ellipse cx="1753.9" cy="1080.2" rx="2.9" ry="3.8" transform="rotate(19 1753.9 1080.2)"/><ellipse cx="1697.5" cy="1162.7" rx="1.7" ry="2.4" transform="rotate(142 1697.5 1162.7)"/><ellipse cx="1774.0" cy="1140.6" rx="2.8" ry="3.7" transform="rotate(101 1774.0 1140.6)"/><ellipse cx="1739.7" cy="1087.2" rx="2.9" ry="3.4" transform="rotate(124 1739.7 1087.2)"/><ellipse cx="1743.4" cy="1115.4" rx="3.0" ry="3.7" transform="rotate(56 1743.4 1115.4)"/><ellipse cx="1674.2" cy="1137.0" rx="3.5" ry="4.1" transform="rotate(64 1674.2 1137.0)"/><ellipse cx="1704.2" cy="1110.0" rx="1.2" ry="1.6" transform="rotate(109 1704.2 1110.0)"/><ellipse cx="1681.2" cy="1132.3" rx="3.6" ry="4.6" transform="rotate(24 1681.2 1132.3)"/><ellipse cx="1749.3" cy="1073.3" rx="2.6" ry="3.3" transform="rotate(177 1749.3 1073.3)"/><ellipse cx="1755.3" cy="1151.7" rx="1.7" ry="2.8" transform="rotate(12 1755.3 1151.7)"/><ellipse cx="1729.6" cy="1132.9" rx="2.0" ry="3.3" transform="rotate(171 1729.6 1132.9)"/><ellipse cx="1682.7" cy="1104.6" rx="3.6" ry="6.3" transform="rotate(10 1682.7 1104.6)"/><ellipse cx="1750.4" cy="1154.1" rx="2.8" ry="4.2" transform="rotate(160 1750.4 1154.1)"/><ellipse cx="1756.2" cy="1072.9" rx="2.4" ry="3.4" transform="rotate(70 1756.2 1072.9)"/><ellipse cx="1719.6" cy="1162.1" rx="1.9" ry="2.3" transform="rotate(162 1719.6 1162.1)"/><ellipse cx="1763.1" cy="1065.1" rx="2.7" ry="2.8" transform="rotate(135 1763.1 1065.1)"/><ellipse cx="1713.0" cy="1135.7" rx="2.0" ry="2.7" transform="rotate(26 1713.0 1135.7)"/></g>
<g fill="none" stroke="#999" stroke-width="1.0"><path d="M1345.0,962.0 L1356.2,958.4"/><path d="M1351.7,959.9 l2.0,-4.0"/><path d="M1345.0,962.0 L1355.4,973.3"/><path d="M1351.2,968.8 l-0.3,4.5"/><path d="M1345.0,962.0 L1341.6,973.3"/><path d="M1343.0,968.8 l2.2,3.9"/><path d="M1345.0,962.0 L1333.7,958.8"/><path d="M1338.2,960.1 l-3.9,2.3"/><path d="M1345.0,962.0 L1335.5,952.1"/><path d="M1339.3,956.0 l-4.5,-0.0"/><path d="M1345.0,962.0 L1348.5,944.5"/><path d="M1347.1,951.5 l3.8,-2.4"/></g>
<g fill="none" stroke="#999" stroke-width="1.0"><path d="M1425.0,1022.0 L1438.3,1022.5"/><path d="M1433.0,1022.3 l3.0,3.3"/><path d="M1425.0,1022.0 L1438.2,1033.5"/><path d="M1432.9,1028.9 l0.2,4.5"/><path d="M1425.0,1022.0 L1417.2,1038.0"/><path d="M1420.3,1031.6 l1.5,4.2"/><path d="M1425.0,1022.0 L1410.1,1017.7"/><path d="M1416.1,1019.4 l-2.1,-4.0"/><path d="M1425.0,1022.0 L1414.1,1012.6"/><path d="M1418.5,1016.3 l-0.2,-4.5"/><path d="M1425.0,1022.0 L1433.7,1013.4"/><path d="M1430.2,1016.8 l-0.0,-4.5"/></g>
<g font-family="Liberation Sans, sans-serif" style="opacity:0.999">
<text x="565.50" y="105.50" font-size="16" fill="#c6c6c6" textLength="35.75" lengthAdjust="spacingAndGlyphs" >1.050</text>
<text x="450.00" y="216.00" font-size="15" fill="#b0b0b0" textLength="15.50" lengthAdjust="spacingAndGlyphs" >up</text>
<text x="0" y="0" font-size="15" fill="#555" text-anchor="middle" dominant-baseline="central"  transform="translate(727.50 230.50) rotate(-20)">up</text>
<text x="422.50" y="305.00" font-size="16" fill="#c6c6c6" textLength="45.75" lengthAdjust="spacingAndGlyphs" >±0.000</text>
<text x="0" y="0" font-size="15" fill="#a8a8a8" text-anchor="middle" dominant-baseline="central"  transform="translate(395.00 372.50) rotate(22)">down</text>
<text x="286.25" y="587.50" font-size="16" fill="#c6c6c6" textLength="40.75" lengthAdjust="spacingAndGlyphs" >-1.650</text>
<text x="262.00" y="1035.00" font-size="16" fill="#c6c6c6" textLength="41.75" lengthAdjust="spacingAndGlyphs" >-3.600</text>
<text x="1563.75" y="168.75" font-size="16" fill="#c6c6c6" textLength="35.00" lengthAdjust="spacingAndGlyphs" >1.000</text>
<text x="1562.50" y="351.00" font-size="16" fill="#c6c6c6" textLength="46.25" lengthAdjust="spacingAndGlyphs" >±0.000</text>
<text x="1728.75" y="363.75" font-size="16" fill="#c6c6c6" textLength="41.25" lengthAdjust="spacingAndGlyphs" >-1.000</text>
<text x="1666.00" y="900.00" font-size="16" fill="#c6c6c6" textLength="41.50" lengthAdjust="spacingAndGlyphs" >-4.250</text>
<text x="1355.00" y="1000.00" font-size="16" fill="#c6c6c6" textLength="41.00" lengthAdjust="spacingAndGlyphs" >-4.000</text>
<text x="1643.00" y="1169.00" font-size="16" fill="#c6c6c6" textLength="42.00" lengthAdjust="spacingAndGlyphs" >-5.000</text>
<text x="914.00" y="337.00" font-size="15" fill="#1e1e1e" textLength="8.50" lengthAdjust="spacingAndGlyphs" >6</text>
<text x="1068.50" y="337.00" font-size="15" fill="#1e1e1e" textLength="8.50" lengthAdjust="spacingAndGlyphs" >4</text>
<text x="1216.00" y="338.00" font-size="15" fill="#1e1e1e" textLength="8.50" lengthAdjust="spacingAndGlyphs" >2</text>
<text x="874.00" y="475.00" font-size="15" fill="#1e1e1e" textLength="7.00" lengthAdjust="spacingAndGlyphs" >7</text>
<text x="914.40" y="605.50" font-size="15" fill="#1e1e1e" textLength="7.10" lengthAdjust="spacingAndGlyphs" >5</text>
<text x="1068.00" y="606.00" font-size="15" fill="#1e1e1e" textLength="8.50" lengthAdjust="spacingAndGlyphs" >3</text>
<text x="1215.00" y="606.00" font-size="15" fill="#1e1e1e" textLength="7.00" lengthAdjust="spacingAndGlyphs" >1</text>
<text x="536.25" y="603.75" font-size="15" fill="#1e1e1e" textLength="12.50" lengthAdjust="spacingAndGlyphs" >11</text>
<text x="532.50" y="731.25" font-size="15" fill="#1e1e1e" textLength="16.25" lengthAdjust="spacingAndGlyphs" >10</text>
<text x="595.50" y="870.50" font-size="15" fill="#1e1e1e" textLength="8.25" lengthAdjust="spacingAndGlyphs" >9</text>
<text x="583.00" y="1012.80" font-size="15" fill="#1e1e1e" textLength="8.00" lengthAdjust="spacingAndGlyphs" >8</text>
<text x="715.00" y="591.00" font-size="15" fill="#7a7a7a" textLength="41.00" lengthAdjust="spacingAndGlyphs" >-0.200</text>
<line x1="696.00" y1="594.40" x2="758.00" y2="594.40" stroke="#aaa" stroke-width="1" />
<polyline points="696.00,594.40 718.00,594.40 707.00,605.60 696.00,594.40" fill="none" stroke="#888" stroke-width="0.9" />
<text x="1177.50" y="666.00" font-size="15" fill="#7a7a7a" textLength="41.00" lengthAdjust="spacingAndGlyphs" >-0.100</text>
<line x1="1157.50" y1="668.50" x2="1219.00" y2="668.50" stroke="#aaa" stroke-width="1" />
<polyline points="1157.50,668.50 1178.50,668.50 1168.00,679.00 1157.50,668.50" fill="none" stroke="#888" stroke-width="0.9" />
<text x="1559.00" y="503.00" font-size="15" fill="#7a7a7a" textLength="42.00" lengthAdjust="spacingAndGlyphs" >-1.350</text>
<line x1="1541.00" y1="505.40" x2="1603.00" y2="505.40" stroke="#aaa" stroke-width="1" />
<polyline points="1541.00,505.40 1563.00,505.40 1552.00,516.40 1541.00,505.40" fill="none" stroke="#888" stroke-width="0.9" />
<text x="1306.00" y="715.00" font-size="15" fill="#7a7a7a" textLength="46.50" lengthAdjust="spacingAndGlyphs" >±0.000</text>
<line x1="1287.50" y1="718.00" x2="1352.00" y2="718.00" stroke="#aaa" stroke-width="1" />
<polyline points="1287.50,718.00 1310.00,718.00 1298.75,729.00 1287.50,718.00" fill="none" stroke="#888" stroke-width="0.9" />
<text x="955.00" y="892.50" font-size="15" fill="#7a7a7a" textLength="42.50" lengthAdjust="spacingAndGlyphs" >-0.100</text>
<line x1="937.50" y1="895.50" x2="998.75" y2="895.50" stroke="#aaa" stroke-width="1" />
<polyline points="937.50,895.50 960.00,895.50 948.75,906.00 937.50,895.50" fill="none" stroke="#888" stroke-width="0.9" />
<text x="1195.00" y="849.00" font-size="15" fill="#7a7a7a" textLength="41.00" lengthAdjust="spacingAndGlyphs" >-3.200</text>
<line x1="1176.00" y1="851.00" x2="1237.50" y2="851.00" stroke="#aaa" stroke-width="1" />
<polyline points="1176.00,851.00 1198.00,851.00 1187.00,862.00 1176.00,851.00" fill="none" stroke="#888" stroke-width="0.9" />
<text x="1550.00" y="891.00" font-size="15" fill="#7a7a7a" textLength="42.50" lengthAdjust="spacingAndGlyphs" >-0.100</text>
<line x1="1531.00" y1="895.00" x2="1592.50" y2="895.00" stroke="#aaa" stroke-width="1" />
<polyline points="1531.00,895.00 1552.50,895.00 1541.75,906.00 1531.00,895.00" fill="none" stroke="#888" stroke-width="0.9" />
<text x="730.00" y="1078.75" font-size="15" fill="#7a7a7a" textLength="46.25" lengthAdjust="spacingAndGlyphs" >±0.000</text>
<line x1="711.00" y1="1081.25" x2="775.00" y2="1081.25" stroke="#aaa" stroke-width="1" />
<polyline points="711.00,1081.25 732.50,1081.25 721.75,1092.00 711.00,1081.25" fill="none" stroke="#888" stroke-width="0.9" />
<text x="0" y="0" font-size="15" fill="#555" text-anchor="middle" dominant-baseline="central"  transform="translate(758.00 349.00) rotate(0)">up</text>
<text x="0" y="0" font-size="15" fill="#555" text-anchor="middle" dominant-baseline="central"  transform="translate(1326.00 498.00) rotate(-90)">down</text>
<text x="0" y="0" font-size="15" fill="#555" text-anchor="middle" dominant-baseline="central"  transform="translate(933.75 797.50) rotate(-90)">down</text>
<text x="1271.25" y="1287.50" font-size="19" fill="#111" textLength="188.25" lengthAdjust="spacingAndGlyphs" >GROUND FLOOR PLAN</text>
<polyline points="1493.75,1270.00 1493.75,1276.75 1531.00,1276.75 1531.00,1269.50 1605.00,1269.50 1605.00,1276.75 1679.00,1276.75 1679.00,1270.00" fill="none" stroke="#666" stroke-width="1.3" />
<text x="1496.00" y="1292.50" font-size="14" fill="#444" text-anchor="middle" >0</text>
<text x="1527.00" y="1292.50" font-size="14" fill="#444" text-anchor="middle" >1</text>
<text x="1605.00" y="1292.50" font-size="14" fill="#444" text-anchor="middle" >3</text>
<text x="1679.00" y="1292.50" font-size="14" fill="#444" text-anchor="middle" >5</text>
<text x="1699.50" y="1292.50" font-size="14" fill="#444" text-anchor="middle" >m</text>
<text x="1758.00" y="1233.50" font-size="16" fill="#111" textLength="20.75" lengthAdjust="spacingAndGlyphs" >1-7</text>
<text x="1801.25" y="1233.50" font-size="16" fill="#111" textLength="115.00" lengthAdjust="spacingAndGlyphs" >meditation room</text>
<text x="1758.00" y="1252.50" font-size="16" fill="#111" textLength="7.50" lengthAdjust="spacingAndGlyphs" >8</text>
<text x="1801.25" y="1252.50" font-size="16" fill="#111" textLength="78.75" lengthAdjust="spacingAndGlyphs" >guest room</text>
<text x="1758.00" y="1272.50" font-size="16" fill="#111" textLength="27.50" lengthAdjust="spacingAndGlyphs" >9.10</text>
<text x="1800.50" y="1272.50" font-size="16" fill="#111" textLength="70.75" lengthAdjust="spacingAndGlyphs" >office area</text>
<text x="1758.00" y="1292.50" font-size="16" fill="#111" textLength="14.50" lengthAdjust="spacingAndGlyphs" >11</text>
<text x="1802.50" y="1292.50" font-size="16" fill="#111" textLength="68.75" lengthAdjust="spacingAndGlyphs" >bathroom</text>
</g>
<circle cx="1723" cy="86.25" r="20" fill="none" stroke="#8a8a8a" stroke-width="1"/>
<line x1="1707.50" y1="75.00" x2="1723.75" y2="86.25" stroke="#333" stroke-width="2.6" />
<text x="0" y="0" font-size="13" fill="#333" text-anchor="middle" dominant-baseline="central" font-family="Liberation Sans, sans-serif" style="opacity:0.999" transform="translate(1697 69) rotate(-55)">N</text></svg></body></html>
